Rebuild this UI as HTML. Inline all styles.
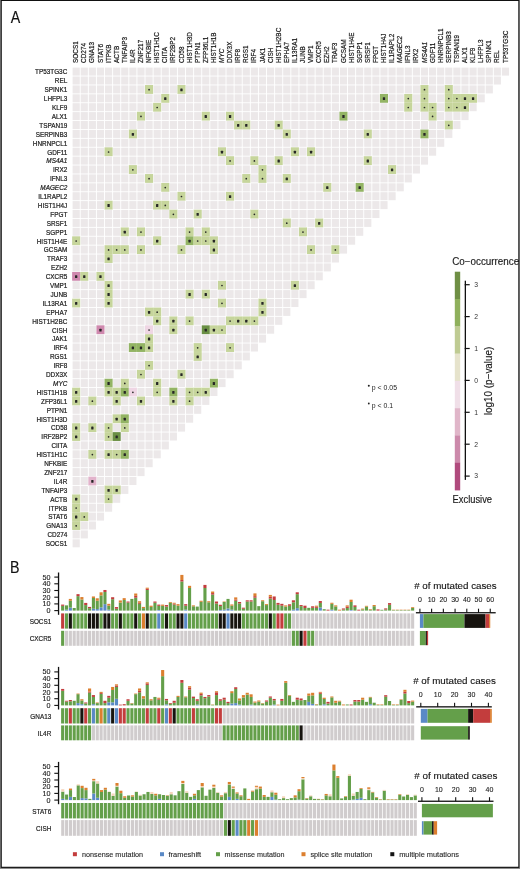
<!DOCTYPE html><html><head><meta charset="utf-8"><style>html,body{margin:0;padding:0;background:#fff;}svg{display:block;will-change:transform}</style></head><body>
<svg width="520" height="869" viewBox="0 0 520 869">
<text transform="translate(10.7 22.9) scale(0.89 1)" font-size="16" font-family="Liberation Sans, sans-serif" fill="#111" stroke="#111" stroke-width="0.15">A</text>
<text transform="translate(10.0 572.8) scale(0.87 1)" font-size="16.4" font-family="Liberation Sans, sans-serif" fill="#111" stroke="#111" stroke-width="0.15">B</text>
<g fill="#ece8e9"><rect x="72.60" y="67.60" width="7.15" height="8.0"/><rect x="80.70" y="67.60" width="7.15" height="8.0"/><rect x="88.80" y="67.60" width="7.15" height="8.0"/><rect x="96.90" y="67.60" width="7.15" height="8.0"/><rect x="105.00" y="67.60" width="7.15" height="8.0"/><rect x="113.10" y="67.60" width="7.15" height="8.0"/><rect x="121.20" y="67.60" width="7.15" height="8.0"/><rect x="129.30" y="67.60" width="7.15" height="8.0"/><rect x="137.40" y="67.60" width="7.15" height="8.0"/><rect x="145.50" y="67.60" width="7.15" height="8.0"/><rect x="153.60" y="67.60" width="7.15" height="8.0"/><rect x="161.70" y="67.60" width="7.15" height="8.0"/><rect x="169.80" y="67.60" width="7.15" height="8.0"/><rect x="177.90" y="67.60" width="7.15" height="8.0"/><rect x="186.00" y="67.60" width="7.15" height="8.0"/><rect x="194.10" y="67.60" width="7.15" height="8.0"/><rect x="202.20" y="67.60" width="7.15" height="8.0"/><rect x="210.30" y="67.60" width="7.15" height="8.0"/><rect x="218.40" y="67.60" width="7.15" height="8.0"/><rect x="226.50" y="67.60" width="7.15" height="8.0"/><rect x="234.60" y="67.60" width="7.15" height="8.0"/><rect x="242.70" y="67.60" width="7.15" height="8.0"/><rect x="250.80" y="67.60" width="7.15" height="8.0"/><rect x="258.90" y="67.60" width="7.15" height="8.0"/><rect x="267.00" y="67.60" width="7.15" height="8.0"/><rect x="275.10" y="67.60" width="7.15" height="8.0"/><rect x="283.20" y="67.60" width="7.15" height="8.0"/><rect x="291.30" y="67.60" width="7.15" height="8.0"/><rect x="299.40" y="67.60" width="7.15" height="8.0"/><rect x="307.50" y="67.60" width="7.15" height="8.0"/><rect x="315.60" y="67.60" width="7.15" height="8.0"/><rect x="323.70" y="67.60" width="7.15" height="8.0"/><rect x="331.80" y="67.60" width="7.15" height="8.0"/><rect x="339.90" y="67.60" width="7.15" height="8.0"/><rect x="348.00" y="67.60" width="7.15" height="8.0"/><rect x="356.10" y="67.60" width="7.15" height="8.0"/><rect x="364.20" y="67.60" width="7.15" height="8.0"/><rect x="372.30" y="67.60" width="7.15" height="8.0"/><rect x="380.40" y="67.60" width="7.15" height="8.0"/><rect x="388.50" y="67.60" width="7.15" height="8.0"/><rect x="396.60" y="67.60" width="7.15" height="8.0"/><rect x="404.70" y="67.60" width="7.15" height="8.0"/><rect x="412.80" y="67.60" width="7.15" height="8.0"/><rect x="420.90" y="67.60" width="7.15" height="8.0"/><rect x="429.00" y="67.60" width="7.15" height="8.0"/><rect x="437.10" y="67.60" width="7.15" height="8.0"/><rect x="445.20" y="67.60" width="7.15" height="8.0"/><rect x="453.30" y="67.60" width="7.15" height="8.0"/><rect x="461.40" y="67.60" width="7.15" height="8.0"/><rect x="469.50" y="67.60" width="7.15" height="8.0"/><rect x="477.60" y="67.60" width="7.15" height="8.0"/><rect x="485.70" y="67.60" width="7.15" height="8.0"/><rect x="493.80" y="67.60" width="7.15" height="8.0"/><rect x="501.90" y="67.60" width="7.15" height="8.0"/><rect x="72.60" y="76.50" width="7.15" height="8.0"/><rect x="80.70" y="76.50" width="7.15" height="8.0"/><rect x="88.80" y="76.50" width="7.15" height="8.0"/><rect x="96.90" y="76.50" width="7.15" height="8.0"/><rect x="105.00" y="76.50" width="7.15" height="8.0"/><rect x="113.10" y="76.50" width="7.15" height="8.0"/><rect x="121.20" y="76.50" width="7.15" height="8.0"/><rect x="129.30" y="76.50" width="7.15" height="8.0"/><rect x="137.40" y="76.50" width="7.15" height="8.0"/><rect x="145.50" y="76.50" width="7.15" height="8.0"/><rect x="153.60" y="76.50" width="7.15" height="8.0"/><rect x="161.70" y="76.50" width="7.15" height="8.0"/><rect x="169.80" y="76.50" width="7.15" height="8.0"/><rect x="177.90" y="76.50" width="7.15" height="8.0"/><rect x="186.00" y="76.50" width="7.15" height="8.0"/><rect x="194.10" y="76.50" width="7.15" height="8.0"/><rect x="202.20" y="76.50" width="7.15" height="8.0"/><rect x="210.30" y="76.50" width="7.15" height="8.0"/><rect x="218.40" y="76.50" width="7.15" height="8.0"/><rect x="226.50" y="76.50" width="7.15" height="8.0"/><rect x="234.60" y="76.50" width="7.15" height="8.0"/><rect x="242.70" y="76.50" width="7.15" height="8.0"/><rect x="250.80" y="76.50" width="7.15" height="8.0"/><rect x="258.90" y="76.50" width="7.15" height="8.0"/><rect x="267.00" y="76.50" width="7.15" height="8.0"/><rect x="275.10" y="76.50" width="7.15" height="8.0"/><rect x="283.20" y="76.50" width="7.15" height="8.0"/><rect x="291.30" y="76.50" width="7.15" height="8.0"/><rect x="299.40" y="76.50" width="7.15" height="8.0"/><rect x="307.50" y="76.50" width="7.15" height="8.0"/><rect x="315.60" y="76.50" width="7.15" height="8.0"/><rect x="323.70" y="76.50" width="7.15" height="8.0"/><rect x="331.80" y="76.50" width="7.15" height="8.0"/><rect x="339.90" y="76.50" width="7.15" height="8.0"/><rect x="348.00" y="76.50" width="7.15" height="8.0"/><rect x="356.10" y="76.50" width="7.15" height="8.0"/><rect x="364.20" y="76.50" width="7.15" height="8.0"/><rect x="372.30" y="76.50" width="7.15" height="8.0"/><rect x="380.40" y="76.50" width="7.15" height="8.0"/><rect x="388.50" y="76.50" width="7.15" height="8.0"/><rect x="396.60" y="76.50" width="7.15" height="8.0"/><rect x="404.70" y="76.50" width="7.15" height="8.0"/><rect x="412.80" y="76.50" width="7.15" height="8.0"/><rect x="420.90" y="76.50" width="7.15" height="8.0"/><rect x="429.00" y="76.50" width="7.15" height="8.0"/><rect x="437.10" y="76.50" width="7.15" height="8.0"/><rect x="445.20" y="76.50" width="7.15" height="8.0"/><rect x="453.30" y="76.50" width="7.15" height="8.0"/><rect x="461.40" y="76.50" width="7.15" height="8.0"/><rect x="469.50" y="76.50" width="7.15" height="8.0"/><rect x="477.60" y="76.50" width="7.15" height="8.0"/><rect x="485.70" y="76.50" width="7.15" height="8.0"/><rect x="493.80" y="76.50" width="7.15" height="8.0"/><rect x="72.60" y="85.40" width="7.15" height="8.0"/><rect x="80.70" y="85.40" width="7.15" height="8.0"/><rect x="88.80" y="85.40" width="7.15" height="8.0"/><rect x="96.90" y="85.40" width="7.15" height="8.0"/><rect x="105.00" y="85.40" width="7.15" height="8.0"/><rect x="113.10" y="85.40" width="7.15" height="8.0"/><rect x="121.20" y="85.40" width="7.15" height="8.0"/><rect x="129.30" y="85.40" width="7.15" height="8.0"/><rect x="137.40" y="85.40" width="7.15" height="8.0"/><rect x="145.50" y="85.40" width="7.15" height="8.0"/><rect x="153.60" y="85.40" width="7.15" height="8.0"/><rect x="161.70" y="85.40" width="7.15" height="8.0"/><rect x="169.80" y="85.40" width="7.15" height="8.0"/><rect x="177.90" y="85.40" width="7.15" height="8.0"/><rect x="186.00" y="85.40" width="7.15" height="8.0"/><rect x="194.10" y="85.40" width="7.15" height="8.0"/><rect x="202.20" y="85.40" width="7.15" height="8.0"/><rect x="210.30" y="85.40" width="7.15" height="8.0"/><rect x="218.40" y="85.40" width="7.15" height="8.0"/><rect x="226.50" y="85.40" width="7.15" height="8.0"/><rect x="234.60" y="85.40" width="7.15" height="8.0"/><rect x="242.70" y="85.40" width="7.15" height="8.0"/><rect x="250.80" y="85.40" width="7.15" height="8.0"/><rect x="258.90" y="85.40" width="7.15" height="8.0"/><rect x="267.00" y="85.40" width="7.15" height="8.0"/><rect x="275.10" y="85.40" width="7.15" height="8.0"/><rect x="283.20" y="85.40" width="7.15" height="8.0"/><rect x="291.30" y="85.40" width="7.15" height="8.0"/><rect x="299.40" y="85.40" width="7.15" height="8.0"/><rect x="307.50" y="85.40" width="7.15" height="8.0"/><rect x="315.60" y="85.40" width="7.15" height="8.0"/><rect x="323.70" y="85.40" width="7.15" height="8.0"/><rect x="331.80" y="85.40" width="7.15" height="8.0"/><rect x="339.90" y="85.40" width="7.15" height="8.0"/><rect x="348.00" y="85.40" width="7.15" height="8.0"/><rect x="356.10" y="85.40" width="7.15" height="8.0"/><rect x="364.20" y="85.40" width="7.15" height="8.0"/><rect x="372.30" y="85.40" width="7.15" height="8.0"/><rect x="380.40" y="85.40" width="7.15" height="8.0"/><rect x="388.50" y="85.40" width="7.15" height="8.0"/><rect x="396.60" y="85.40" width="7.15" height="8.0"/><rect x="404.70" y="85.40" width="7.15" height="8.0"/><rect x="412.80" y="85.40" width="7.15" height="8.0"/><rect x="420.90" y="85.40" width="7.15" height="8.0"/><rect x="429.00" y="85.40" width="7.15" height="8.0"/><rect x="437.10" y="85.40" width="7.15" height="8.0"/><rect x="445.20" y="85.40" width="7.15" height="8.0"/><rect x="453.30" y="85.40" width="7.15" height="8.0"/><rect x="461.40" y="85.40" width="7.15" height="8.0"/><rect x="469.50" y="85.40" width="7.15" height="8.0"/><rect x="477.60" y="85.40" width="7.15" height="8.0"/><rect x="485.70" y="85.40" width="7.15" height="8.0"/><rect x="72.60" y="94.30" width="7.15" height="8.0"/><rect x="80.70" y="94.30" width="7.15" height="8.0"/><rect x="88.80" y="94.30" width="7.15" height="8.0"/><rect x="96.90" y="94.30" width="7.15" height="8.0"/><rect x="105.00" y="94.30" width="7.15" height="8.0"/><rect x="113.10" y="94.30" width="7.15" height="8.0"/><rect x="121.20" y="94.30" width="7.15" height="8.0"/><rect x="129.30" y="94.30" width="7.15" height="8.0"/><rect x="137.40" y="94.30" width="7.15" height="8.0"/><rect x="145.50" y="94.30" width="7.15" height="8.0"/><rect x="153.60" y="94.30" width="7.15" height="8.0"/><rect x="161.70" y="94.30" width="7.15" height="8.0"/><rect x="169.80" y="94.30" width="7.15" height="8.0"/><rect x="177.90" y="94.30" width="7.15" height="8.0"/><rect x="186.00" y="94.30" width="7.15" height="8.0"/><rect x="194.10" y="94.30" width="7.15" height="8.0"/><rect x="202.20" y="94.30" width="7.15" height="8.0"/><rect x="210.30" y="94.30" width="7.15" height="8.0"/><rect x="218.40" y="94.30" width="7.15" height="8.0"/><rect x="226.50" y="94.30" width="7.15" height="8.0"/><rect x="234.60" y="94.30" width="7.15" height="8.0"/><rect x="242.70" y="94.30" width="7.15" height="8.0"/><rect x="250.80" y="94.30" width="7.15" height="8.0"/><rect x="258.90" y="94.30" width="7.15" height="8.0"/><rect x="267.00" y="94.30" width="7.15" height="8.0"/><rect x="275.10" y="94.30" width="7.15" height="8.0"/><rect x="283.20" y="94.30" width="7.15" height="8.0"/><rect x="291.30" y="94.30" width="7.15" height="8.0"/><rect x="299.40" y="94.30" width="7.15" height="8.0"/><rect x="307.50" y="94.30" width="7.15" height="8.0"/><rect x="315.60" y="94.30" width="7.15" height="8.0"/><rect x="323.70" y="94.30" width="7.15" height="8.0"/><rect x="331.80" y="94.30" width="7.15" height="8.0"/><rect x="339.90" y="94.30" width="7.15" height="8.0"/><rect x="348.00" y="94.30" width="7.15" height="8.0"/><rect x="356.10" y="94.30" width="7.15" height="8.0"/><rect x="364.20" y="94.30" width="7.15" height="8.0"/><rect x="372.30" y="94.30" width="7.15" height="8.0"/><rect x="380.40" y="94.30" width="7.15" height="8.0"/><rect x="388.50" y="94.30" width="7.15" height="8.0"/><rect x="396.60" y="94.30" width="7.15" height="8.0"/><rect x="404.70" y="94.30" width="7.15" height="8.0"/><rect x="412.80" y="94.30" width="7.15" height="8.0"/><rect x="420.90" y="94.30" width="7.15" height="8.0"/><rect x="429.00" y="94.30" width="7.15" height="8.0"/><rect x="437.10" y="94.30" width="7.15" height="8.0"/><rect x="445.20" y="94.30" width="7.15" height="8.0"/><rect x="453.30" y="94.30" width="7.15" height="8.0"/><rect x="461.40" y="94.30" width="7.15" height="8.0"/><rect x="469.50" y="94.30" width="7.15" height="8.0"/><rect x="477.60" y="94.30" width="7.15" height="8.0"/><rect x="72.60" y="103.20" width="7.15" height="8.0"/><rect x="80.70" y="103.20" width="7.15" height="8.0"/><rect x="88.80" y="103.20" width="7.15" height="8.0"/><rect x="96.90" y="103.20" width="7.15" height="8.0"/><rect x="105.00" y="103.20" width="7.15" height="8.0"/><rect x="113.10" y="103.20" width="7.15" height="8.0"/><rect x="121.20" y="103.20" width="7.15" height="8.0"/><rect x="129.30" y="103.20" width="7.15" height="8.0"/><rect x="137.40" y="103.20" width="7.15" height="8.0"/><rect x="145.50" y="103.20" width="7.15" height="8.0"/><rect x="153.60" y="103.20" width="7.15" height="8.0"/><rect x="161.70" y="103.20" width="7.15" height="8.0"/><rect x="169.80" y="103.20" width="7.15" height="8.0"/><rect x="177.90" y="103.20" width="7.15" height="8.0"/><rect x="186.00" y="103.20" width="7.15" height="8.0"/><rect x="194.10" y="103.20" width="7.15" height="8.0"/><rect x="202.20" y="103.20" width="7.15" height="8.0"/><rect x="210.30" y="103.20" width="7.15" height="8.0"/><rect x="218.40" y="103.20" width="7.15" height="8.0"/><rect x="226.50" y="103.20" width="7.15" height="8.0"/><rect x="234.60" y="103.20" width="7.15" height="8.0"/><rect x="242.70" y="103.20" width="7.15" height="8.0"/><rect x="250.80" y="103.20" width="7.15" height="8.0"/><rect x="258.90" y="103.20" width="7.15" height="8.0"/><rect x="267.00" y="103.20" width="7.15" height="8.0"/><rect x="275.10" y="103.20" width="7.15" height="8.0"/><rect x="283.20" y="103.20" width="7.15" height="8.0"/><rect x="291.30" y="103.20" width="7.15" height="8.0"/><rect x="299.40" y="103.20" width="7.15" height="8.0"/><rect x="307.50" y="103.20" width="7.15" height="8.0"/><rect x="315.60" y="103.20" width="7.15" height="8.0"/><rect x="323.70" y="103.20" width="7.15" height="8.0"/><rect x="331.80" y="103.20" width="7.15" height="8.0"/><rect x="339.90" y="103.20" width="7.15" height="8.0"/><rect x="348.00" y="103.20" width="7.15" height="8.0"/><rect x="356.10" y="103.20" width="7.15" height="8.0"/><rect x="364.20" y="103.20" width="7.15" height="8.0"/><rect x="372.30" y="103.20" width="7.15" height="8.0"/><rect x="380.40" y="103.20" width="7.15" height="8.0"/><rect x="388.50" y="103.20" width="7.15" height="8.0"/><rect x="396.60" y="103.20" width="7.15" height="8.0"/><rect x="404.70" y="103.20" width="7.15" height="8.0"/><rect x="412.80" y="103.20" width="7.15" height="8.0"/><rect x="420.90" y="103.20" width="7.15" height="8.0"/><rect x="429.00" y="103.20" width="7.15" height="8.0"/><rect x="437.10" y="103.20" width="7.15" height="8.0"/><rect x="445.20" y="103.20" width="7.15" height="8.0"/><rect x="453.30" y="103.20" width="7.15" height="8.0"/><rect x="461.40" y="103.20" width="7.15" height="8.0"/><rect x="469.50" y="103.20" width="7.15" height="8.0"/><rect x="72.60" y="112.10" width="7.15" height="8.0"/><rect x="80.70" y="112.10" width="7.15" height="8.0"/><rect x="88.80" y="112.10" width="7.15" height="8.0"/><rect x="96.90" y="112.10" width="7.15" height="8.0"/><rect x="105.00" y="112.10" width="7.15" height="8.0"/><rect x="113.10" y="112.10" width="7.15" height="8.0"/><rect x="121.20" y="112.10" width="7.15" height="8.0"/><rect x="129.30" y="112.10" width="7.15" height="8.0"/><rect x="137.40" y="112.10" width="7.15" height="8.0"/><rect x="145.50" y="112.10" width="7.15" height="8.0"/><rect x="153.60" y="112.10" width="7.15" height="8.0"/><rect x="161.70" y="112.10" width="7.15" height="8.0"/><rect x="169.80" y="112.10" width="7.15" height="8.0"/><rect x="177.90" y="112.10" width="7.15" height="8.0"/><rect x="186.00" y="112.10" width="7.15" height="8.0"/><rect x="194.10" y="112.10" width="7.15" height="8.0"/><rect x="202.20" y="112.10" width="7.15" height="8.0"/><rect x="210.30" y="112.10" width="7.15" height="8.0"/><rect x="218.40" y="112.10" width="7.15" height="8.0"/><rect x="226.50" y="112.10" width="7.15" height="8.0"/><rect x="234.60" y="112.10" width="7.15" height="8.0"/><rect x="242.70" y="112.10" width="7.15" height="8.0"/><rect x="250.80" y="112.10" width="7.15" height="8.0"/><rect x="258.90" y="112.10" width="7.15" height="8.0"/><rect x="267.00" y="112.10" width="7.15" height="8.0"/><rect x="275.10" y="112.10" width="7.15" height="8.0"/><rect x="283.20" y="112.10" width="7.15" height="8.0"/><rect x="291.30" y="112.10" width="7.15" height="8.0"/><rect x="299.40" y="112.10" width="7.15" height="8.0"/><rect x="307.50" y="112.10" width="7.15" height="8.0"/><rect x="315.60" y="112.10" width="7.15" height="8.0"/><rect x="323.70" y="112.10" width="7.15" height="8.0"/><rect x="331.80" y="112.10" width="7.15" height="8.0"/><rect x="339.90" y="112.10" width="7.15" height="8.0"/><rect x="348.00" y="112.10" width="7.15" height="8.0"/><rect x="356.10" y="112.10" width="7.15" height="8.0"/><rect x="364.20" y="112.10" width="7.15" height="8.0"/><rect x="372.30" y="112.10" width="7.15" height="8.0"/><rect x="380.40" y="112.10" width="7.15" height="8.0"/><rect x="388.50" y="112.10" width="7.15" height="8.0"/><rect x="396.60" y="112.10" width="7.15" height="8.0"/><rect x="404.70" y="112.10" width="7.15" height="8.0"/><rect x="412.80" y="112.10" width="7.15" height="8.0"/><rect x="420.90" y="112.10" width="7.15" height="8.0"/><rect x="429.00" y="112.10" width="7.15" height="8.0"/><rect x="437.10" y="112.10" width="7.15" height="8.0"/><rect x="445.20" y="112.10" width="7.15" height="8.0"/><rect x="453.30" y="112.10" width="7.15" height="8.0"/><rect x="461.40" y="112.10" width="7.15" height="8.0"/><rect x="72.60" y="121.00" width="7.15" height="8.0"/><rect x="80.70" y="121.00" width="7.15" height="8.0"/><rect x="88.80" y="121.00" width="7.15" height="8.0"/><rect x="96.90" y="121.00" width="7.15" height="8.0"/><rect x="105.00" y="121.00" width="7.15" height="8.0"/><rect x="113.10" y="121.00" width="7.15" height="8.0"/><rect x="121.20" y="121.00" width="7.15" height="8.0"/><rect x="129.30" y="121.00" width="7.15" height="8.0"/><rect x="137.40" y="121.00" width="7.15" height="8.0"/><rect x="145.50" y="121.00" width="7.15" height="8.0"/><rect x="153.60" y="121.00" width="7.15" height="8.0"/><rect x="161.70" y="121.00" width="7.15" height="8.0"/><rect x="169.80" y="121.00" width="7.15" height="8.0"/><rect x="177.90" y="121.00" width="7.15" height="8.0"/><rect x="186.00" y="121.00" width="7.15" height="8.0"/><rect x="194.10" y="121.00" width="7.15" height="8.0"/><rect x="202.20" y="121.00" width="7.15" height="8.0"/><rect x="210.30" y="121.00" width="7.15" height="8.0"/><rect x="218.40" y="121.00" width="7.15" height="8.0"/><rect x="226.50" y="121.00" width="7.15" height="8.0"/><rect x="234.60" y="121.00" width="7.15" height="8.0"/><rect x="242.70" y="121.00" width="7.15" height="8.0"/><rect x="250.80" y="121.00" width="7.15" height="8.0"/><rect x="258.90" y="121.00" width="7.15" height="8.0"/><rect x="267.00" y="121.00" width="7.15" height="8.0"/><rect x="275.10" y="121.00" width="7.15" height="8.0"/><rect x="283.20" y="121.00" width="7.15" height="8.0"/><rect x="291.30" y="121.00" width="7.15" height="8.0"/><rect x="299.40" y="121.00" width="7.15" height="8.0"/><rect x="307.50" y="121.00" width="7.15" height="8.0"/><rect x="315.60" y="121.00" width="7.15" height="8.0"/><rect x="323.70" y="121.00" width="7.15" height="8.0"/><rect x="331.80" y="121.00" width="7.15" height="8.0"/><rect x="339.90" y="121.00" width="7.15" height="8.0"/><rect x="348.00" y="121.00" width="7.15" height="8.0"/><rect x="356.10" y="121.00" width="7.15" height="8.0"/><rect x="364.20" y="121.00" width="7.15" height="8.0"/><rect x="372.30" y="121.00" width="7.15" height="8.0"/><rect x="380.40" y="121.00" width="7.15" height="8.0"/><rect x="388.50" y="121.00" width="7.15" height="8.0"/><rect x="396.60" y="121.00" width="7.15" height="8.0"/><rect x="404.70" y="121.00" width="7.15" height="8.0"/><rect x="412.80" y="121.00" width="7.15" height="8.0"/><rect x="420.90" y="121.00" width="7.15" height="8.0"/><rect x="429.00" y="121.00" width="7.15" height="8.0"/><rect x="437.10" y="121.00" width="7.15" height="8.0"/><rect x="445.20" y="121.00" width="7.15" height="8.0"/><rect x="453.30" y="121.00" width="7.15" height="8.0"/><rect x="72.60" y="129.90" width="7.15" height="8.0"/><rect x="80.70" y="129.90" width="7.15" height="8.0"/><rect x="88.80" y="129.90" width="7.15" height="8.0"/><rect x="96.90" y="129.90" width="7.15" height="8.0"/><rect x="105.00" y="129.90" width="7.15" height="8.0"/><rect x="113.10" y="129.90" width="7.15" height="8.0"/><rect x="121.20" y="129.90" width="7.15" height="8.0"/><rect x="129.30" y="129.90" width="7.15" height="8.0"/><rect x="137.40" y="129.90" width="7.15" height="8.0"/><rect x="145.50" y="129.90" width="7.15" height="8.0"/><rect x="153.60" y="129.90" width="7.15" height="8.0"/><rect x="161.70" y="129.90" width="7.15" height="8.0"/><rect x="169.80" y="129.90" width="7.15" height="8.0"/><rect x="177.90" y="129.90" width="7.15" height="8.0"/><rect x="186.00" y="129.90" width="7.15" height="8.0"/><rect x="194.10" y="129.90" width="7.15" height="8.0"/><rect x="202.20" y="129.90" width="7.15" height="8.0"/><rect x="210.30" y="129.90" width="7.15" height="8.0"/><rect x="218.40" y="129.90" width="7.15" height="8.0"/><rect x="226.50" y="129.90" width="7.15" height="8.0"/><rect x="234.60" y="129.90" width="7.15" height="8.0"/><rect x="242.70" y="129.90" width="7.15" height="8.0"/><rect x="250.80" y="129.90" width="7.15" height="8.0"/><rect x="258.90" y="129.90" width="7.15" height="8.0"/><rect x="267.00" y="129.90" width="7.15" height="8.0"/><rect x="275.10" y="129.90" width="7.15" height="8.0"/><rect x="283.20" y="129.90" width="7.15" height="8.0"/><rect x="291.30" y="129.90" width="7.15" height="8.0"/><rect x="299.40" y="129.90" width="7.15" height="8.0"/><rect x="307.50" y="129.90" width="7.15" height="8.0"/><rect x="315.60" y="129.90" width="7.15" height="8.0"/><rect x="323.70" y="129.90" width="7.15" height="8.0"/><rect x="331.80" y="129.90" width="7.15" height="8.0"/><rect x="339.90" y="129.90" width="7.15" height="8.0"/><rect x="348.00" y="129.90" width="7.15" height="8.0"/><rect x="356.10" y="129.90" width="7.15" height="8.0"/><rect x="364.20" y="129.90" width="7.15" height="8.0"/><rect x="372.30" y="129.90" width="7.15" height="8.0"/><rect x="380.40" y="129.90" width="7.15" height="8.0"/><rect x="388.50" y="129.90" width="7.15" height="8.0"/><rect x="396.60" y="129.90" width="7.15" height="8.0"/><rect x="404.70" y="129.90" width="7.15" height="8.0"/><rect x="412.80" y="129.90" width="7.15" height="8.0"/><rect x="420.90" y="129.90" width="7.15" height="8.0"/><rect x="429.00" y="129.90" width="7.15" height="8.0"/><rect x="437.10" y="129.90" width="7.15" height="8.0"/><rect x="445.20" y="129.90" width="7.15" height="8.0"/><rect x="72.60" y="138.80" width="7.15" height="8.0"/><rect x="80.70" y="138.80" width="7.15" height="8.0"/><rect x="88.80" y="138.80" width="7.15" height="8.0"/><rect x="96.90" y="138.80" width="7.15" height="8.0"/><rect x="105.00" y="138.80" width="7.15" height="8.0"/><rect x="113.10" y="138.80" width="7.15" height="8.0"/><rect x="121.20" y="138.80" width="7.15" height="8.0"/><rect x="129.30" y="138.80" width="7.15" height="8.0"/><rect x="137.40" y="138.80" width="7.15" height="8.0"/><rect x="145.50" y="138.80" width="7.15" height="8.0"/><rect x="153.60" y="138.80" width="7.15" height="8.0"/><rect x="161.70" y="138.80" width="7.15" height="8.0"/><rect x="169.80" y="138.80" width="7.15" height="8.0"/><rect x="177.90" y="138.80" width="7.15" height="8.0"/><rect x="186.00" y="138.80" width="7.15" height="8.0"/><rect x="194.10" y="138.80" width="7.15" height="8.0"/><rect x="202.20" y="138.80" width="7.15" height="8.0"/><rect x="210.30" y="138.80" width="7.15" height="8.0"/><rect x="218.40" y="138.80" width="7.15" height="8.0"/><rect x="226.50" y="138.80" width="7.15" height="8.0"/><rect x="234.60" y="138.80" width="7.15" height="8.0"/><rect x="242.70" y="138.80" width="7.15" height="8.0"/><rect x="250.80" y="138.80" width="7.15" height="8.0"/><rect x="258.90" y="138.80" width="7.15" height="8.0"/><rect x="267.00" y="138.80" width="7.15" height="8.0"/><rect x="275.10" y="138.80" width="7.15" height="8.0"/><rect x="283.20" y="138.80" width="7.15" height="8.0"/><rect x="291.30" y="138.80" width="7.15" height="8.0"/><rect x="299.40" y="138.80" width="7.15" height="8.0"/><rect x="307.50" y="138.80" width="7.15" height="8.0"/><rect x="315.60" y="138.80" width="7.15" height="8.0"/><rect x="323.70" y="138.80" width="7.15" height="8.0"/><rect x="331.80" y="138.80" width="7.15" height="8.0"/><rect x="339.90" y="138.80" width="7.15" height="8.0"/><rect x="348.00" y="138.80" width="7.15" height="8.0"/><rect x="356.10" y="138.80" width="7.15" height="8.0"/><rect x="364.20" y="138.80" width="7.15" height="8.0"/><rect x="372.30" y="138.80" width="7.15" height="8.0"/><rect x="380.40" y="138.80" width="7.15" height="8.0"/><rect x="388.50" y="138.80" width="7.15" height="8.0"/><rect x="396.60" y="138.80" width="7.15" height="8.0"/><rect x="404.70" y="138.80" width="7.15" height="8.0"/><rect x="412.80" y="138.80" width="7.15" height="8.0"/><rect x="420.90" y="138.80" width="7.15" height="8.0"/><rect x="429.00" y="138.80" width="7.15" height="8.0"/><rect x="437.10" y="138.80" width="7.15" height="8.0"/><rect x="72.60" y="147.70" width="7.15" height="8.0"/><rect x="80.70" y="147.70" width="7.15" height="8.0"/><rect x="88.80" y="147.70" width="7.15" height="8.0"/><rect x="96.90" y="147.70" width="7.15" height="8.0"/><rect x="105.00" y="147.70" width="7.15" height="8.0"/><rect x="113.10" y="147.70" width="7.15" height="8.0"/><rect x="121.20" y="147.70" width="7.15" height="8.0"/><rect x="129.30" y="147.70" width="7.15" height="8.0"/><rect x="137.40" y="147.70" width="7.15" height="8.0"/><rect x="145.50" y="147.70" width="7.15" height="8.0"/><rect x="153.60" y="147.70" width="7.15" height="8.0"/><rect x="161.70" y="147.70" width="7.15" height="8.0"/><rect x="169.80" y="147.70" width="7.15" height="8.0"/><rect x="177.90" y="147.70" width="7.15" height="8.0"/><rect x="186.00" y="147.70" width="7.15" height="8.0"/><rect x="194.10" y="147.70" width="7.15" height="8.0"/><rect x="202.20" y="147.70" width="7.15" height="8.0"/><rect x="210.30" y="147.70" width="7.15" height="8.0"/><rect x="218.40" y="147.70" width="7.15" height="8.0"/><rect x="226.50" y="147.70" width="7.15" height="8.0"/><rect x="234.60" y="147.70" width="7.15" height="8.0"/><rect x="242.70" y="147.70" width="7.15" height="8.0"/><rect x="250.80" y="147.70" width="7.15" height="8.0"/><rect x="258.90" y="147.70" width="7.15" height="8.0"/><rect x="267.00" y="147.70" width="7.15" height="8.0"/><rect x="275.10" y="147.70" width="7.15" height="8.0"/><rect x="283.20" y="147.70" width="7.15" height="8.0"/><rect x="291.30" y="147.70" width="7.15" height="8.0"/><rect x="299.40" y="147.70" width="7.15" height="8.0"/><rect x="307.50" y="147.70" width="7.15" height="8.0"/><rect x="315.60" y="147.70" width="7.15" height="8.0"/><rect x="323.70" y="147.70" width="7.15" height="8.0"/><rect x="331.80" y="147.70" width="7.15" height="8.0"/><rect x="339.90" y="147.70" width="7.15" height="8.0"/><rect x="348.00" y="147.70" width="7.15" height="8.0"/><rect x="356.10" y="147.70" width="7.15" height="8.0"/><rect x="364.20" y="147.70" width="7.15" height="8.0"/><rect x="372.30" y="147.70" width="7.15" height="8.0"/><rect x="380.40" y="147.70" width="7.15" height="8.0"/><rect x="388.50" y="147.70" width="7.15" height="8.0"/><rect x="396.60" y="147.70" width="7.15" height="8.0"/><rect x="404.70" y="147.70" width="7.15" height="8.0"/><rect x="412.80" y="147.70" width="7.15" height="8.0"/><rect x="420.90" y="147.70" width="7.15" height="8.0"/><rect x="429.00" y="147.70" width="7.15" height="8.0"/><rect x="72.60" y="156.60" width="7.15" height="8.0"/><rect x="80.70" y="156.60" width="7.15" height="8.0"/><rect x="88.80" y="156.60" width="7.15" height="8.0"/><rect x="96.90" y="156.60" width="7.15" height="8.0"/><rect x="105.00" y="156.60" width="7.15" height="8.0"/><rect x="113.10" y="156.60" width="7.15" height="8.0"/><rect x="121.20" y="156.60" width="7.15" height="8.0"/><rect x="129.30" y="156.60" width="7.15" height="8.0"/><rect x="137.40" y="156.60" width="7.15" height="8.0"/><rect x="145.50" y="156.60" width="7.15" height="8.0"/><rect x="153.60" y="156.60" width="7.15" height="8.0"/><rect x="161.70" y="156.60" width="7.15" height="8.0"/><rect x="169.80" y="156.60" width="7.15" height="8.0"/><rect x="177.90" y="156.60" width="7.15" height="8.0"/><rect x="186.00" y="156.60" width="7.15" height="8.0"/><rect x="194.10" y="156.60" width="7.15" height="8.0"/><rect x="202.20" y="156.60" width="7.15" height="8.0"/><rect x="210.30" y="156.60" width="7.15" height="8.0"/><rect x="218.40" y="156.60" width="7.15" height="8.0"/><rect x="226.50" y="156.60" width="7.15" height="8.0"/><rect x="234.60" y="156.60" width="7.15" height="8.0"/><rect x="242.70" y="156.60" width="7.15" height="8.0"/><rect x="250.80" y="156.60" width="7.15" height="8.0"/><rect x="258.90" y="156.60" width="7.15" height="8.0"/><rect x="267.00" y="156.60" width="7.15" height="8.0"/><rect x="275.10" y="156.60" width="7.15" height="8.0"/><rect x="283.20" y="156.60" width="7.15" height="8.0"/><rect x="291.30" y="156.60" width="7.15" height="8.0"/><rect x="299.40" y="156.60" width="7.15" height="8.0"/><rect x="307.50" y="156.60" width="7.15" height="8.0"/><rect x="315.60" y="156.60" width="7.15" height="8.0"/><rect x="323.70" y="156.60" width="7.15" height="8.0"/><rect x="331.80" y="156.60" width="7.15" height="8.0"/><rect x="339.90" y="156.60" width="7.15" height="8.0"/><rect x="348.00" y="156.60" width="7.15" height="8.0"/><rect x="356.10" y="156.60" width="7.15" height="8.0"/><rect x="364.20" y="156.60" width="7.15" height="8.0"/><rect x="372.30" y="156.60" width="7.15" height="8.0"/><rect x="380.40" y="156.60" width="7.15" height="8.0"/><rect x="388.50" y="156.60" width="7.15" height="8.0"/><rect x="396.60" y="156.60" width="7.15" height="8.0"/><rect x="404.70" y="156.60" width="7.15" height="8.0"/><rect x="412.80" y="156.60" width="7.15" height="8.0"/><rect x="420.90" y="156.60" width="7.15" height="8.0"/><rect x="72.60" y="165.50" width="7.15" height="8.0"/><rect x="80.70" y="165.50" width="7.15" height="8.0"/><rect x="88.80" y="165.50" width="7.15" height="8.0"/><rect x="96.90" y="165.50" width="7.15" height="8.0"/><rect x="105.00" y="165.50" width="7.15" height="8.0"/><rect x="113.10" y="165.50" width="7.15" height="8.0"/><rect x="121.20" y="165.50" width="7.15" height="8.0"/><rect x="129.30" y="165.50" width="7.15" height="8.0"/><rect x="137.40" y="165.50" width="7.15" height="8.0"/><rect x="145.50" y="165.50" width="7.15" height="8.0"/><rect x="153.60" y="165.50" width="7.15" height="8.0"/><rect x="161.70" y="165.50" width="7.15" height="8.0"/><rect x="169.80" y="165.50" width="7.15" height="8.0"/><rect x="177.90" y="165.50" width="7.15" height="8.0"/><rect x="186.00" y="165.50" width="7.15" height="8.0"/><rect x="194.10" y="165.50" width="7.15" height="8.0"/><rect x="202.20" y="165.50" width="7.15" height="8.0"/><rect x="210.30" y="165.50" width="7.15" height="8.0"/><rect x="218.40" y="165.50" width="7.15" height="8.0"/><rect x="226.50" y="165.50" width="7.15" height="8.0"/><rect x="234.60" y="165.50" width="7.15" height="8.0"/><rect x="242.70" y="165.50" width="7.15" height="8.0"/><rect x="250.80" y="165.50" width="7.15" height="8.0"/><rect x="258.90" y="165.50" width="7.15" height="8.0"/><rect x="267.00" y="165.50" width="7.15" height="8.0"/><rect x="275.10" y="165.50" width="7.15" height="8.0"/><rect x="283.20" y="165.50" width="7.15" height="8.0"/><rect x="291.30" y="165.50" width="7.15" height="8.0"/><rect x="299.40" y="165.50" width="7.15" height="8.0"/><rect x="307.50" y="165.50" width="7.15" height="8.0"/><rect x="315.60" y="165.50" width="7.15" height="8.0"/><rect x="323.70" y="165.50" width="7.15" height="8.0"/><rect x="331.80" y="165.50" width="7.15" height="8.0"/><rect x="339.90" y="165.50" width="7.15" height="8.0"/><rect x="348.00" y="165.50" width="7.15" height="8.0"/><rect x="356.10" y="165.50" width="7.15" height="8.0"/><rect x="364.20" y="165.50" width="7.15" height="8.0"/><rect x="372.30" y="165.50" width="7.15" height="8.0"/><rect x="380.40" y="165.50" width="7.15" height="8.0"/><rect x="388.50" y="165.50" width="7.15" height="8.0"/><rect x="396.60" y="165.50" width="7.15" height="8.0"/><rect x="404.70" y="165.50" width="7.15" height="8.0"/><rect x="412.80" y="165.50" width="7.15" height="8.0"/><rect x="72.60" y="174.40" width="7.15" height="8.0"/><rect x="80.70" y="174.40" width="7.15" height="8.0"/><rect x="88.80" y="174.40" width="7.15" height="8.0"/><rect x="96.90" y="174.40" width="7.15" height="8.0"/><rect x="105.00" y="174.40" width="7.15" height="8.0"/><rect x="113.10" y="174.40" width="7.15" height="8.0"/><rect x="121.20" y="174.40" width="7.15" height="8.0"/><rect x="129.30" y="174.40" width="7.15" height="8.0"/><rect x="137.40" y="174.40" width="7.15" height="8.0"/><rect x="145.50" y="174.40" width="7.15" height="8.0"/><rect x="153.60" y="174.40" width="7.15" height="8.0"/><rect x="161.70" y="174.40" width="7.15" height="8.0"/><rect x="169.80" y="174.40" width="7.15" height="8.0"/><rect x="177.90" y="174.40" width="7.15" height="8.0"/><rect x="186.00" y="174.40" width="7.15" height="8.0"/><rect x="194.10" y="174.40" width="7.15" height="8.0"/><rect x="202.20" y="174.40" width="7.15" height="8.0"/><rect x="210.30" y="174.40" width="7.15" height="8.0"/><rect x="218.40" y="174.40" width="7.15" height="8.0"/><rect x="226.50" y="174.40" width="7.15" height="8.0"/><rect x="234.60" y="174.40" width="7.15" height="8.0"/><rect x="242.70" y="174.40" width="7.15" height="8.0"/><rect x="250.80" y="174.40" width="7.15" height="8.0"/><rect x="258.90" y="174.40" width="7.15" height="8.0"/><rect x="267.00" y="174.40" width="7.15" height="8.0"/><rect x="275.10" y="174.40" width="7.15" height="8.0"/><rect x="283.20" y="174.40" width="7.15" height="8.0"/><rect x="291.30" y="174.40" width="7.15" height="8.0"/><rect x="299.40" y="174.40" width="7.15" height="8.0"/><rect x="307.50" y="174.40" width="7.15" height="8.0"/><rect x="315.60" y="174.40" width="7.15" height="8.0"/><rect x="323.70" y="174.40" width="7.15" height="8.0"/><rect x="331.80" y="174.40" width="7.15" height="8.0"/><rect x="339.90" y="174.40" width="7.15" height="8.0"/><rect x="348.00" y="174.40" width="7.15" height="8.0"/><rect x="356.10" y="174.40" width="7.15" height="8.0"/><rect x="364.20" y="174.40" width="7.15" height="8.0"/><rect x="372.30" y="174.40" width="7.15" height="8.0"/><rect x="380.40" y="174.40" width="7.15" height="8.0"/><rect x="388.50" y="174.40" width="7.15" height="8.0"/><rect x="396.60" y="174.40" width="7.15" height="8.0"/><rect x="404.70" y="174.40" width="7.15" height="8.0"/><rect x="72.60" y="183.30" width="7.15" height="8.0"/><rect x="80.70" y="183.30" width="7.15" height="8.0"/><rect x="88.80" y="183.30" width="7.15" height="8.0"/><rect x="96.90" y="183.30" width="7.15" height="8.0"/><rect x="105.00" y="183.30" width="7.15" height="8.0"/><rect x="113.10" y="183.30" width="7.15" height="8.0"/><rect x="121.20" y="183.30" width="7.15" height="8.0"/><rect x="129.30" y="183.30" width="7.15" height="8.0"/><rect x="137.40" y="183.30" width="7.15" height="8.0"/><rect x="145.50" y="183.30" width="7.15" height="8.0"/><rect x="153.60" y="183.30" width="7.15" height="8.0"/><rect x="161.70" y="183.30" width="7.15" height="8.0"/><rect x="169.80" y="183.30" width="7.15" height="8.0"/><rect x="177.90" y="183.30" width="7.15" height="8.0"/><rect x="186.00" y="183.30" width="7.15" height="8.0"/><rect x="194.10" y="183.30" width="7.15" height="8.0"/><rect x="202.20" y="183.30" width="7.15" height="8.0"/><rect x="210.30" y="183.30" width="7.15" height="8.0"/><rect x="218.40" y="183.30" width="7.15" height="8.0"/><rect x="226.50" y="183.30" width="7.15" height="8.0"/><rect x="234.60" y="183.30" width="7.15" height="8.0"/><rect x="242.70" y="183.30" width="7.15" height="8.0"/><rect x="250.80" y="183.30" width="7.15" height="8.0"/><rect x="258.90" y="183.30" width="7.15" height="8.0"/><rect x="267.00" y="183.30" width="7.15" height="8.0"/><rect x="275.10" y="183.30" width="7.15" height="8.0"/><rect x="283.20" y="183.30" width="7.15" height="8.0"/><rect x="291.30" y="183.30" width="7.15" height="8.0"/><rect x="299.40" y="183.30" width="7.15" height="8.0"/><rect x="307.50" y="183.30" width="7.15" height="8.0"/><rect x="315.60" y="183.30" width="7.15" height="8.0"/><rect x="323.70" y="183.30" width="7.15" height="8.0"/><rect x="331.80" y="183.30" width="7.15" height="8.0"/><rect x="339.90" y="183.30" width="7.15" height="8.0"/><rect x="348.00" y="183.30" width="7.15" height="8.0"/><rect x="356.10" y="183.30" width="7.15" height="8.0"/><rect x="364.20" y="183.30" width="7.15" height="8.0"/><rect x="372.30" y="183.30" width="7.15" height="8.0"/><rect x="380.40" y="183.30" width="7.15" height="8.0"/><rect x="388.50" y="183.30" width="7.15" height="8.0"/><rect x="396.60" y="183.30" width="7.15" height="8.0"/><rect x="72.60" y="192.20" width="7.15" height="8.0"/><rect x="80.70" y="192.20" width="7.15" height="8.0"/><rect x="88.80" y="192.20" width="7.15" height="8.0"/><rect x="96.90" y="192.20" width="7.15" height="8.0"/><rect x="105.00" y="192.20" width="7.15" height="8.0"/><rect x="113.10" y="192.20" width="7.15" height="8.0"/><rect x="121.20" y="192.20" width="7.15" height="8.0"/><rect x="129.30" y="192.20" width="7.15" height="8.0"/><rect x="137.40" y="192.20" width="7.15" height="8.0"/><rect x="145.50" y="192.20" width="7.15" height="8.0"/><rect x="153.60" y="192.20" width="7.15" height="8.0"/><rect x="161.70" y="192.20" width="7.15" height="8.0"/><rect x="169.80" y="192.20" width="7.15" height="8.0"/><rect x="177.90" y="192.20" width="7.15" height="8.0"/><rect x="186.00" y="192.20" width="7.15" height="8.0"/><rect x="194.10" y="192.20" width="7.15" height="8.0"/><rect x="202.20" y="192.20" width="7.15" height="8.0"/><rect x="210.30" y="192.20" width="7.15" height="8.0"/><rect x="218.40" y="192.20" width="7.15" height="8.0"/><rect x="226.50" y="192.20" width="7.15" height="8.0"/><rect x="234.60" y="192.20" width="7.15" height="8.0"/><rect x="242.70" y="192.20" width="7.15" height="8.0"/><rect x="250.80" y="192.20" width="7.15" height="8.0"/><rect x="258.90" y="192.20" width="7.15" height="8.0"/><rect x="267.00" y="192.20" width="7.15" height="8.0"/><rect x="275.10" y="192.20" width="7.15" height="8.0"/><rect x="283.20" y="192.20" width="7.15" height="8.0"/><rect x="291.30" y="192.20" width="7.15" height="8.0"/><rect x="299.40" y="192.20" width="7.15" height="8.0"/><rect x="307.50" y="192.20" width="7.15" height="8.0"/><rect x="315.60" y="192.20" width="7.15" height="8.0"/><rect x="323.70" y="192.20" width="7.15" height="8.0"/><rect x="331.80" y="192.20" width="7.15" height="8.0"/><rect x="339.90" y="192.20" width="7.15" height="8.0"/><rect x="348.00" y="192.20" width="7.15" height="8.0"/><rect x="356.10" y="192.20" width="7.15" height="8.0"/><rect x="364.20" y="192.20" width="7.15" height="8.0"/><rect x="372.30" y="192.20" width="7.15" height="8.0"/><rect x="380.40" y="192.20" width="7.15" height="8.0"/><rect x="388.50" y="192.20" width="7.15" height="8.0"/><rect x="72.60" y="201.10" width="7.15" height="8.0"/><rect x="80.70" y="201.10" width="7.15" height="8.0"/><rect x="88.80" y="201.10" width="7.15" height="8.0"/><rect x="96.90" y="201.10" width="7.15" height="8.0"/><rect x="105.00" y="201.10" width="7.15" height="8.0"/><rect x="113.10" y="201.10" width="7.15" height="8.0"/><rect x="121.20" y="201.10" width="7.15" height="8.0"/><rect x="129.30" y="201.10" width="7.15" height="8.0"/><rect x="137.40" y="201.10" width="7.15" height="8.0"/><rect x="145.50" y="201.10" width="7.15" height="8.0"/><rect x="153.60" y="201.10" width="7.15" height="8.0"/><rect x="161.70" y="201.10" width="7.15" height="8.0"/><rect x="169.80" y="201.10" width="7.15" height="8.0"/><rect x="177.90" y="201.10" width="7.15" height="8.0"/><rect x="186.00" y="201.10" width="7.15" height="8.0"/><rect x="194.10" y="201.10" width="7.15" height="8.0"/><rect x="202.20" y="201.10" width="7.15" height="8.0"/><rect x="210.30" y="201.10" width="7.15" height="8.0"/><rect x="218.40" y="201.10" width="7.15" height="8.0"/><rect x="226.50" y="201.10" width="7.15" height="8.0"/><rect x="234.60" y="201.10" width="7.15" height="8.0"/><rect x="242.70" y="201.10" width="7.15" height="8.0"/><rect x="250.80" y="201.10" width="7.15" height="8.0"/><rect x="258.90" y="201.10" width="7.15" height="8.0"/><rect x="267.00" y="201.10" width="7.15" height="8.0"/><rect x="275.10" y="201.10" width="7.15" height="8.0"/><rect x="283.20" y="201.10" width="7.15" height="8.0"/><rect x="291.30" y="201.10" width="7.15" height="8.0"/><rect x="299.40" y="201.10" width="7.15" height="8.0"/><rect x="307.50" y="201.10" width="7.15" height="8.0"/><rect x="315.60" y="201.10" width="7.15" height="8.0"/><rect x="323.70" y="201.10" width="7.15" height="8.0"/><rect x="331.80" y="201.10" width="7.15" height="8.0"/><rect x="339.90" y="201.10" width="7.15" height="8.0"/><rect x="348.00" y="201.10" width="7.15" height="8.0"/><rect x="356.10" y="201.10" width="7.15" height="8.0"/><rect x="364.20" y="201.10" width="7.15" height="8.0"/><rect x="372.30" y="201.10" width="7.15" height="8.0"/><rect x="380.40" y="201.10" width="7.15" height="8.0"/><rect x="72.60" y="210.00" width="7.15" height="8.0"/><rect x="80.70" y="210.00" width="7.15" height="8.0"/><rect x="88.80" y="210.00" width="7.15" height="8.0"/><rect x="96.90" y="210.00" width="7.15" height="8.0"/><rect x="105.00" y="210.00" width="7.15" height="8.0"/><rect x="113.10" y="210.00" width="7.15" height="8.0"/><rect x="121.20" y="210.00" width="7.15" height="8.0"/><rect x="129.30" y="210.00" width="7.15" height="8.0"/><rect x="137.40" y="210.00" width="7.15" height="8.0"/><rect x="145.50" y="210.00" width="7.15" height="8.0"/><rect x="153.60" y="210.00" width="7.15" height="8.0"/><rect x="161.70" y="210.00" width="7.15" height="8.0"/><rect x="169.80" y="210.00" width="7.15" height="8.0"/><rect x="177.90" y="210.00" width="7.15" height="8.0"/><rect x="186.00" y="210.00" width="7.15" height="8.0"/><rect x="194.10" y="210.00" width="7.15" height="8.0"/><rect x="202.20" y="210.00" width="7.15" height="8.0"/><rect x="210.30" y="210.00" width="7.15" height="8.0"/><rect x="218.40" y="210.00" width="7.15" height="8.0"/><rect x="226.50" y="210.00" width="7.15" height="8.0"/><rect x="234.60" y="210.00" width="7.15" height="8.0"/><rect x="242.70" y="210.00" width="7.15" height="8.0"/><rect x="250.80" y="210.00" width="7.15" height="8.0"/><rect x="258.90" y="210.00" width="7.15" height="8.0"/><rect x="267.00" y="210.00" width="7.15" height="8.0"/><rect x="275.10" y="210.00" width="7.15" height="8.0"/><rect x="283.20" y="210.00" width="7.15" height="8.0"/><rect x="291.30" y="210.00" width="7.15" height="8.0"/><rect x="299.40" y="210.00" width="7.15" height="8.0"/><rect x="307.50" y="210.00" width="7.15" height="8.0"/><rect x="315.60" y="210.00" width="7.15" height="8.0"/><rect x="323.70" y="210.00" width="7.15" height="8.0"/><rect x="331.80" y="210.00" width="7.15" height="8.0"/><rect x="339.90" y="210.00" width="7.15" height="8.0"/><rect x="348.00" y="210.00" width="7.15" height="8.0"/><rect x="356.10" y="210.00" width="7.15" height="8.0"/><rect x="364.20" y="210.00" width="7.15" height="8.0"/><rect x="372.30" y="210.00" width="7.15" height="8.0"/><rect x="72.60" y="218.90" width="7.15" height="8.0"/><rect x="80.70" y="218.90" width="7.15" height="8.0"/><rect x="88.80" y="218.90" width="7.15" height="8.0"/><rect x="96.90" y="218.90" width="7.15" height="8.0"/><rect x="105.00" y="218.90" width="7.15" height="8.0"/><rect x="113.10" y="218.90" width="7.15" height="8.0"/><rect x="121.20" y="218.90" width="7.15" height="8.0"/><rect x="129.30" y="218.90" width="7.15" height="8.0"/><rect x="137.40" y="218.90" width="7.15" height="8.0"/><rect x="145.50" y="218.90" width="7.15" height="8.0"/><rect x="153.60" y="218.90" width="7.15" height="8.0"/><rect x="161.70" y="218.90" width="7.15" height="8.0"/><rect x="169.80" y="218.90" width="7.15" height="8.0"/><rect x="177.90" y="218.90" width="7.15" height="8.0"/><rect x="186.00" y="218.90" width="7.15" height="8.0"/><rect x="194.10" y="218.90" width="7.15" height="8.0"/><rect x="202.20" y="218.90" width="7.15" height="8.0"/><rect x="210.30" y="218.90" width="7.15" height="8.0"/><rect x="218.40" y="218.90" width="7.15" height="8.0"/><rect x="226.50" y="218.90" width="7.15" height="8.0"/><rect x="234.60" y="218.90" width="7.15" height="8.0"/><rect x="242.70" y="218.90" width="7.15" height="8.0"/><rect x="250.80" y="218.90" width="7.15" height="8.0"/><rect x="258.90" y="218.90" width="7.15" height="8.0"/><rect x="267.00" y="218.90" width="7.15" height="8.0"/><rect x="275.10" y="218.90" width="7.15" height="8.0"/><rect x="283.20" y="218.90" width="7.15" height="8.0"/><rect x="291.30" y="218.90" width="7.15" height="8.0"/><rect x="299.40" y="218.90" width="7.15" height="8.0"/><rect x="307.50" y="218.90" width="7.15" height="8.0"/><rect x="315.60" y="218.90" width="7.15" height="8.0"/><rect x="323.70" y="218.90" width="7.15" height="8.0"/><rect x="331.80" y="218.90" width="7.15" height="8.0"/><rect x="339.90" y="218.90" width="7.15" height="8.0"/><rect x="348.00" y="218.90" width="7.15" height="8.0"/><rect x="356.10" y="218.90" width="7.15" height="8.0"/><rect x="364.20" y="218.90" width="7.15" height="8.0"/><rect x="72.60" y="227.80" width="7.15" height="8.0"/><rect x="80.70" y="227.80" width="7.15" height="8.0"/><rect x="88.80" y="227.80" width="7.15" height="8.0"/><rect x="96.90" y="227.80" width="7.15" height="8.0"/><rect x="105.00" y="227.80" width="7.15" height="8.0"/><rect x="113.10" y="227.80" width="7.15" height="8.0"/><rect x="121.20" y="227.80" width="7.15" height="8.0"/><rect x="129.30" y="227.80" width="7.15" height="8.0"/><rect x="137.40" y="227.80" width="7.15" height="8.0"/><rect x="145.50" y="227.80" width="7.15" height="8.0"/><rect x="153.60" y="227.80" width="7.15" height="8.0"/><rect x="161.70" y="227.80" width="7.15" height="8.0"/><rect x="169.80" y="227.80" width="7.15" height="8.0"/><rect x="177.90" y="227.80" width="7.15" height="8.0"/><rect x="186.00" y="227.80" width="7.15" height="8.0"/><rect x="194.10" y="227.80" width="7.15" height="8.0"/><rect x="202.20" y="227.80" width="7.15" height="8.0"/><rect x="210.30" y="227.80" width="7.15" height="8.0"/><rect x="218.40" y="227.80" width="7.15" height="8.0"/><rect x="226.50" y="227.80" width="7.15" height="8.0"/><rect x="234.60" y="227.80" width="7.15" height="8.0"/><rect x="242.70" y="227.80" width="7.15" height="8.0"/><rect x="250.80" y="227.80" width="7.15" height="8.0"/><rect x="258.90" y="227.80" width="7.15" height="8.0"/><rect x="267.00" y="227.80" width="7.15" height="8.0"/><rect x="275.10" y="227.80" width="7.15" height="8.0"/><rect x="283.20" y="227.80" width="7.15" height="8.0"/><rect x="291.30" y="227.80" width="7.15" height="8.0"/><rect x="299.40" y="227.80" width="7.15" height="8.0"/><rect x="307.50" y="227.80" width="7.15" height="8.0"/><rect x="315.60" y="227.80" width="7.15" height="8.0"/><rect x="323.70" y="227.80" width="7.15" height="8.0"/><rect x="331.80" y="227.80" width="7.15" height="8.0"/><rect x="339.90" y="227.80" width="7.15" height="8.0"/><rect x="348.00" y="227.80" width="7.15" height="8.0"/><rect x="356.10" y="227.80" width="7.15" height="8.0"/><rect x="72.60" y="236.70" width="7.15" height="8.0"/><rect x="80.70" y="236.70" width="7.15" height="8.0"/><rect x="88.80" y="236.70" width="7.15" height="8.0"/><rect x="96.90" y="236.70" width="7.15" height="8.0"/><rect x="105.00" y="236.70" width="7.15" height="8.0"/><rect x="113.10" y="236.70" width="7.15" height="8.0"/><rect x="121.20" y="236.70" width="7.15" height="8.0"/><rect x="129.30" y="236.70" width="7.15" height="8.0"/><rect x="137.40" y="236.70" width="7.15" height="8.0"/><rect x="145.50" y="236.70" width="7.15" height="8.0"/><rect x="153.60" y="236.70" width="7.15" height="8.0"/><rect x="161.70" y="236.70" width="7.15" height="8.0"/><rect x="169.80" y="236.70" width="7.15" height="8.0"/><rect x="177.90" y="236.70" width="7.15" height="8.0"/><rect x="186.00" y="236.70" width="7.15" height="8.0"/><rect x="194.10" y="236.70" width="7.15" height="8.0"/><rect x="202.20" y="236.70" width="7.15" height="8.0"/><rect x="210.30" y="236.70" width="7.15" height="8.0"/><rect x="218.40" y="236.70" width="7.15" height="8.0"/><rect x="226.50" y="236.70" width="7.15" height="8.0"/><rect x="234.60" y="236.70" width="7.15" height="8.0"/><rect x="242.70" y="236.70" width="7.15" height="8.0"/><rect x="250.80" y="236.70" width="7.15" height="8.0"/><rect x="258.90" y="236.70" width="7.15" height="8.0"/><rect x="267.00" y="236.70" width="7.15" height="8.0"/><rect x="275.10" y="236.70" width="7.15" height="8.0"/><rect x="283.20" y="236.70" width="7.15" height="8.0"/><rect x="291.30" y="236.70" width="7.15" height="8.0"/><rect x="299.40" y="236.70" width="7.15" height="8.0"/><rect x="307.50" y="236.70" width="7.15" height="8.0"/><rect x="315.60" y="236.70" width="7.15" height="8.0"/><rect x="323.70" y="236.70" width="7.15" height="8.0"/><rect x="331.80" y="236.70" width="7.15" height="8.0"/><rect x="339.90" y="236.70" width="7.15" height="8.0"/><rect x="348.00" y="236.70" width="7.15" height="8.0"/><rect x="72.60" y="245.60" width="7.15" height="8.0"/><rect x="80.70" y="245.60" width="7.15" height="8.0"/><rect x="88.80" y="245.60" width="7.15" height="8.0"/><rect x="96.90" y="245.60" width="7.15" height="8.0"/><rect x="105.00" y="245.60" width="7.15" height="8.0"/><rect x="113.10" y="245.60" width="7.15" height="8.0"/><rect x="121.20" y="245.60" width="7.15" height="8.0"/><rect x="129.30" y="245.60" width="7.15" height="8.0"/><rect x="137.40" y="245.60" width="7.15" height="8.0"/><rect x="145.50" y="245.60" width="7.15" height="8.0"/><rect x="153.60" y="245.60" width="7.15" height="8.0"/><rect x="161.70" y="245.60" width="7.15" height="8.0"/><rect x="169.80" y="245.60" width="7.15" height="8.0"/><rect x="177.90" y="245.60" width="7.15" height="8.0"/><rect x="186.00" y="245.60" width="7.15" height="8.0"/><rect x="194.10" y="245.60" width="7.15" height="8.0"/><rect x="202.20" y="245.60" width="7.15" height="8.0"/><rect x="210.30" y="245.60" width="7.15" height="8.0"/><rect x="218.40" y="245.60" width="7.15" height="8.0"/><rect x="226.50" y="245.60" width="7.15" height="8.0"/><rect x="234.60" y="245.60" width="7.15" height="8.0"/><rect x="242.70" y="245.60" width="7.15" height="8.0"/><rect x="250.80" y="245.60" width="7.15" height="8.0"/><rect x="258.90" y="245.60" width="7.15" height="8.0"/><rect x="267.00" y="245.60" width="7.15" height="8.0"/><rect x="275.10" y="245.60" width="7.15" height="8.0"/><rect x="283.20" y="245.60" width="7.15" height="8.0"/><rect x="291.30" y="245.60" width="7.15" height="8.0"/><rect x="299.40" y="245.60" width="7.15" height="8.0"/><rect x="307.50" y="245.60" width="7.15" height="8.0"/><rect x="315.60" y="245.60" width="7.15" height="8.0"/><rect x="323.70" y="245.60" width="7.15" height="8.0"/><rect x="331.80" y="245.60" width="7.15" height="8.0"/><rect x="339.90" y="245.60" width="7.15" height="8.0"/><rect x="72.60" y="254.50" width="7.15" height="8.0"/><rect x="80.70" y="254.50" width="7.15" height="8.0"/><rect x="88.80" y="254.50" width="7.15" height="8.0"/><rect x="96.90" y="254.50" width="7.15" height="8.0"/><rect x="105.00" y="254.50" width="7.15" height="8.0"/><rect x="113.10" y="254.50" width="7.15" height="8.0"/><rect x="121.20" y="254.50" width="7.15" height="8.0"/><rect x="129.30" y="254.50" width="7.15" height="8.0"/><rect x="137.40" y="254.50" width="7.15" height="8.0"/><rect x="145.50" y="254.50" width="7.15" height="8.0"/><rect x="153.60" y="254.50" width="7.15" height="8.0"/><rect x="161.70" y="254.50" width="7.15" height="8.0"/><rect x="169.80" y="254.50" width="7.15" height="8.0"/><rect x="177.90" y="254.50" width="7.15" height="8.0"/><rect x="186.00" y="254.50" width="7.15" height="8.0"/><rect x="194.10" y="254.50" width="7.15" height="8.0"/><rect x="202.20" y="254.50" width="7.15" height="8.0"/><rect x="210.30" y="254.50" width="7.15" height="8.0"/><rect x="218.40" y="254.50" width="7.15" height="8.0"/><rect x="226.50" y="254.50" width="7.15" height="8.0"/><rect x="234.60" y="254.50" width="7.15" height="8.0"/><rect x="242.70" y="254.50" width="7.15" height="8.0"/><rect x="250.80" y="254.50" width="7.15" height="8.0"/><rect x="258.90" y="254.50" width="7.15" height="8.0"/><rect x="267.00" y="254.50" width="7.15" height="8.0"/><rect x="275.10" y="254.50" width="7.15" height="8.0"/><rect x="283.20" y="254.50" width="7.15" height="8.0"/><rect x="291.30" y="254.50" width="7.15" height="8.0"/><rect x="299.40" y="254.50" width="7.15" height="8.0"/><rect x="307.50" y="254.50" width="7.15" height="8.0"/><rect x="315.60" y="254.50" width="7.15" height="8.0"/><rect x="323.70" y="254.50" width="7.15" height="8.0"/><rect x="331.80" y="254.50" width="7.15" height="8.0"/><rect x="72.60" y="263.40" width="7.15" height="8.0"/><rect x="80.70" y="263.40" width="7.15" height="8.0"/><rect x="88.80" y="263.40" width="7.15" height="8.0"/><rect x="96.90" y="263.40" width="7.15" height="8.0"/><rect x="105.00" y="263.40" width="7.15" height="8.0"/><rect x="113.10" y="263.40" width="7.15" height="8.0"/><rect x="121.20" y="263.40" width="7.15" height="8.0"/><rect x="129.30" y="263.40" width="7.15" height="8.0"/><rect x="137.40" y="263.40" width="7.15" height="8.0"/><rect x="145.50" y="263.40" width="7.15" height="8.0"/><rect x="153.60" y="263.40" width="7.15" height="8.0"/><rect x="161.70" y="263.40" width="7.15" height="8.0"/><rect x="169.80" y="263.40" width="7.15" height="8.0"/><rect x="177.90" y="263.40" width="7.15" height="8.0"/><rect x="186.00" y="263.40" width="7.15" height="8.0"/><rect x="194.10" y="263.40" width="7.15" height="8.0"/><rect x="202.20" y="263.40" width="7.15" height="8.0"/><rect x="210.30" y="263.40" width="7.15" height="8.0"/><rect x="218.40" y="263.40" width="7.15" height="8.0"/><rect x="226.50" y="263.40" width="7.15" height="8.0"/><rect x="234.60" y="263.40" width="7.15" height="8.0"/><rect x="242.70" y="263.40" width="7.15" height="8.0"/><rect x="250.80" y="263.40" width="7.15" height="8.0"/><rect x="258.90" y="263.40" width="7.15" height="8.0"/><rect x="267.00" y="263.40" width="7.15" height="8.0"/><rect x="275.10" y="263.40" width="7.15" height="8.0"/><rect x="283.20" y="263.40" width="7.15" height="8.0"/><rect x="291.30" y="263.40" width="7.15" height="8.0"/><rect x="299.40" y="263.40" width="7.15" height="8.0"/><rect x="307.50" y="263.40" width="7.15" height="8.0"/><rect x="315.60" y="263.40" width="7.15" height="8.0"/><rect x="323.70" y="263.40" width="7.15" height="8.0"/><rect x="72.60" y="272.30" width="7.15" height="8.0"/><rect x="80.70" y="272.30" width="7.15" height="8.0"/><rect x="88.80" y="272.30" width="7.15" height="8.0"/><rect x="96.90" y="272.30" width="7.15" height="8.0"/><rect x="105.00" y="272.30" width="7.15" height="8.0"/><rect x="113.10" y="272.30" width="7.15" height="8.0"/><rect x="121.20" y="272.30" width="7.15" height="8.0"/><rect x="129.30" y="272.30" width="7.15" height="8.0"/><rect x="137.40" y="272.30" width="7.15" height="8.0"/><rect x="145.50" y="272.30" width="7.15" height="8.0"/><rect x="153.60" y="272.30" width="7.15" height="8.0"/><rect x="161.70" y="272.30" width="7.15" height="8.0"/><rect x="169.80" y="272.30" width="7.15" height="8.0"/><rect x="177.90" y="272.30" width="7.15" height="8.0"/><rect x="186.00" y="272.30" width="7.15" height="8.0"/><rect x="194.10" y="272.30" width="7.15" height="8.0"/><rect x="202.20" y="272.30" width="7.15" height="8.0"/><rect x="210.30" y="272.30" width="7.15" height="8.0"/><rect x="218.40" y="272.30" width="7.15" height="8.0"/><rect x="226.50" y="272.30" width="7.15" height="8.0"/><rect x="234.60" y="272.30" width="7.15" height="8.0"/><rect x="242.70" y="272.30" width="7.15" height="8.0"/><rect x="250.80" y="272.30" width="7.15" height="8.0"/><rect x="258.90" y="272.30" width="7.15" height="8.0"/><rect x="267.00" y="272.30" width="7.15" height="8.0"/><rect x="275.10" y="272.30" width="7.15" height="8.0"/><rect x="283.20" y="272.30" width="7.15" height="8.0"/><rect x="291.30" y="272.30" width="7.15" height="8.0"/><rect x="299.40" y="272.30" width="7.15" height="8.0"/><rect x="307.50" y="272.30" width="7.15" height="8.0"/><rect x="315.60" y="272.30" width="7.15" height="8.0"/><rect x="72.60" y="281.20" width="7.15" height="8.0"/><rect x="80.70" y="281.20" width="7.15" height="8.0"/><rect x="88.80" y="281.20" width="7.15" height="8.0"/><rect x="96.90" y="281.20" width="7.15" height="8.0"/><rect x="105.00" y="281.20" width="7.15" height="8.0"/><rect x="113.10" y="281.20" width="7.15" height="8.0"/><rect x="121.20" y="281.20" width="7.15" height="8.0"/><rect x="129.30" y="281.20" width="7.15" height="8.0"/><rect x="137.40" y="281.20" width="7.15" height="8.0"/><rect x="145.50" y="281.20" width="7.15" height="8.0"/><rect x="153.60" y="281.20" width="7.15" height="8.0"/><rect x="161.70" y="281.20" width="7.15" height="8.0"/><rect x="169.80" y="281.20" width="7.15" height="8.0"/><rect x="177.90" y="281.20" width="7.15" height="8.0"/><rect x="186.00" y="281.20" width="7.15" height="8.0"/><rect x="194.10" y="281.20" width="7.15" height="8.0"/><rect x="202.20" y="281.20" width="7.15" height="8.0"/><rect x="210.30" y="281.20" width="7.15" height="8.0"/><rect x="218.40" y="281.20" width="7.15" height="8.0"/><rect x="226.50" y="281.20" width="7.15" height="8.0"/><rect x="234.60" y="281.20" width="7.15" height="8.0"/><rect x="242.70" y="281.20" width="7.15" height="8.0"/><rect x="250.80" y="281.20" width="7.15" height="8.0"/><rect x="258.90" y="281.20" width="7.15" height="8.0"/><rect x="267.00" y="281.20" width="7.15" height="8.0"/><rect x="275.10" y="281.20" width="7.15" height="8.0"/><rect x="283.20" y="281.20" width="7.15" height="8.0"/><rect x="291.30" y="281.20" width="7.15" height="8.0"/><rect x="299.40" y="281.20" width="7.15" height="8.0"/><rect x="307.50" y="281.20" width="7.15" height="8.0"/><rect x="72.60" y="290.10" width="7.15" height="8.0"/><rect x="80.70" y="290.10" width="7.15" height="8.0"/><rect x="88.80" y="290.10" width="7.15" height="8.0"/><rect x="96.90" y="290.10" width="7.15" height="8.0"/><rect x="105.00" y="290.10" width="7.15" height="8.0"/><rect x="113.10" y="290.10" width="7.15" height="8.0"/><rect x="121.20" y="290.10" width="7.15" height="8.0"/><rect x="129.30" y="290.10" width="7.15" height="8.0"/><rect x="137.40" y="290.10" width="7.15" height="8.0"/><rect x="145.50" y="290.10" width="7.15" height="8.0"/><rect x="153.60" y="290.10" width="7.15" height="8.0"/><rect x="161.70" y="290.10" width="7.15" height="8.0"/><rect x="169.80" y="290.10" width="7.15" height="8.0"/><rect x="177.90" y="290.10" width="7.15" height="8.0"/><rect x="186.00" y="290.10" width="7.15" height="8.0"/><rect x="194.10" y="290.10" width="7.15" height="8.0"/><rect x="202.20" y="290.10" width="7.15" height="8.0"/><rect x="210.30" y="290.10" width="7.15" height="8.0"/><rect x="218.40" y="290.10" width="7.15" height="8.0"/><rect x="226.50" y="290.10" width="7.15" height="8.0"/><rect x="234.60" y="290.10" width="7.15" height="8.0"/><rect x="242.70" y="290.10" width="7.15" height="8.0"/><rect x="250.80" y="290.10" width="7.15" height="8.0"/><rect x="258.90" y="290.10" width="7.15" height="8.0"/><rect x="267.00" y="290.10" width="7.15" height="8.0"/><rect x="275.10" y="290.10" width="7.15" height="8.0"/><rect x="283.20" y="290.10" width="7.15" height="8.0"/><rect x="291.30" y="290.10" width="7.15" height="8.0"/><rect x="299.40" y="290.10" width="7.15" height="8.0"/><rect x="72.60" y="299.00" width="7.15" height="8.0"/><rect x="80.70" y="299.00" width="7.15" height="8.0"/><rect x="88.80" y="299.00" width="7.15" height="8.0"/><rect x="96.90" y="299.00" width="7.15" height="8.0"/><rect x="105.00" y="299.00" width="7.15" height="8.0"/><rect x="113.10" y="299.00" width="7.15" height="8.0"/><rect x="121.20" y="299.00" width="7.15" height="8.0"/><rect x="129.30" y="299.00" width="7.15" height="8.0"/><rect x="137.40" y="299.00" width="7.15" height="8.0"/><rect x="145.50" y="299.00" width="7.15" height="8.0"/><rect x="153.60" y="299.00" width="7.15" height="8.0"/><rect x="161.70" y="299.00" width="7.15" height="8.0"/><rect x="169.80" y="299.00" width="7.15" height="8.0"/><rect x="177.90" y="299.00" width="7.15" height="8.0"/><rect x="186.00" y="299.00" width="7.15" height="8.0"/><rect x="194.10" y="299.00" width="7.15" height="8.0"/><rect x="202.20" y="299.00" width="7.15" height="8.0"/><rect x="210.30" y="299.00" width="7.15" height="8.0"/><rect x="218.40" y="299.00" width="7.15" height="8.0"/><rect x="226.50" y="299.00" width="7.15" height="8.0"/><rect x="234.60" y="299.00" width="7.15" height="8.0"/><rect x="242.70" y="299.00" width="7.15" height="8.0"/><rect x="250.80" y="299.00" width="7.15" height="8.0"/><rect x="258.90" y="299.00" width="7.15" height="8.0"/><rect x="267.00" y="299.00" width="7.15" height="8.0"/><rect x="275.10" y="299.00" width="7.15" height="8.0"/><rect x="283.20" y="299.00" width="7.15" height="8.0"/><rect x="291.30" y="299.00" width="7.15" height="8.0"/><rect x="72.60" y="307.90" width="7.15" height="8.0"/><rect x="80.70" y="307.90" width="7.15" height="8.0"/><rect x="88.80" y="307.90" width="7.15" height="8.0"/><rect x="96.90" y="307.90" width="7.15" height="8.0"/><rect x="105.00" y="307.90" width="7.15" height="8.0"/><rect x="113.10" y="307.90" width="7.15" height="8.0"/><rect x="121.20" y="307.90" width="7.15" height="8.0"/><rect x="129.30" y="307.90" width="7.15" height="8.0"/><rect x="137.40" y="307.90" width="7.15" height="8.0"/><rect x="145.50" y="307.90" width="7.15" height="8.0"/><rect x="153.60" y="307.90" width="7.15" height="8.0"/><rect x="161.70" y="307.90" width="7.15" height="8.0"/><rect x="169.80" y="307.90" width="7.15" height="8.0"/><rect x="177.90" y="307.90" width="7.15" height="8.0"/><rect x="186.00" y="307.90" width="7.15" height="8.0"/><rect x="194.10" y="307.90" width="7.15" height="8.0"/><rect x="202.20" y="307.90" width="7.15" height="8.0"/><rect x="210.30" y="307.90" width="7.15" height="8.0"/><rect x="218.40" y="307.90" width="7.15" height="8.0"/><rect x="226.50" y="307.90" width="7.15" height="8.0"/><rect x="234.60" y="307.90" width="7.15" height="8.0"/><rect x="242.70" y="307.90" width="7.15" height="8.0"/><rect x="250.80" y="307.90" width="7.15" height="8.0"/><rect x="258.90" y="307.90" width="7.15" height="8.0"/><rect x="267.00" y="307.90" width="7.15" height="8.0"/><rect x="275.10" y="307.90" width="7.15" height="8.0"/><rect x="283.20" y="307.90" width="7.15" height="8.0"/><rect x="72.60" y="316.80" width="7.15" height="8.0"/><rect x="80.70" y="316.80" width="7.15" height="8.0"/><rect x="88.80" y="316.80" width="7.15" height="8.0"/><rect x="96.90" y="316.80" width="7.15" height="8.0"/><rect x="105.00" y="316.80" width="7.15" height="8.0"/><rect x="113.10" y="316.80" width="7.15" height="8.0"/><rect x="121.20" y="316.80" width="7.15" height="8.0"/><rect x="129.30" y="316.80" width="7.15" height="8.0"/><rect x="137.40" y="316.80" width="7.15" height="8.0"/><rect x="145.50" y="316.80" width="7.15" height="8.0"/><rect x="153.60" y="316.80" width="7.15" height="8.0"/><rect x="161.70" y="316.80" width="7.15" height="8.0"/><rect x="169.80" y="316.80" width="7.15" height="8.0"/><rect x="177.90" y="316.80" width="7.15" height="8.0"/><rect x="186.00" y="316.80" width="7.15" height="8.0"/><rect x="194.10" y="316.80" width="7.15" height="8.0"/><rect x="202.20" y="316.80" width="7.15" height="8.0"/><rect x="210.30" y="316.80" width="7.15" height="8.0"/><rect x="218.40" y="316.80" width="7.15" height="8.0"/><rect x="226.50" y="316.80" width="7.15" height="8.0"/><rect x="234.60" y="316.80" width="7.15" height="8.0"/><rect x="242.70" y="316.80" width="7.15" height="8.0"/><rect x="250.80" y="316.80" width="7.15" height="8.0"/><rect x="258.90" y="316.80" width="7.15" height="8.0"/><rect x="267.00" y="316.80" width="7.15" height="8.0"/><rect x="275.10" y="316.80" width="7.15" height="8.0"/><rect x="72.60" y="325.70" width="7.15" height="8.0"/><rect x="80.70" y="325.70" width="7.15" height="8.0"/><rect x="88.80" y="325.70" width="7.15" height="8.0"/><rect x="96.90" y="325.70" width="7.15" height="8.0"/><rect x="105.00" y="325.70" width="7.15" height="8.0"/><rect x="113.10" y="325.70" width="7.15" height="8.0"/><rect x="121.20" y="325.70" width="7.15" height="8.0"/><rect x="129.30" y="325.70" width="7.15" height="8.0"/><rect x="137.40" y="325.70" width="7.15" height="8.0"/><rect x="145.50" y="325.70" width="7.15" height="8.0"/><rect x="153.60" y="325.70" width="7.15" height="8.0"/><rect x="161.70" y="325.70" width="7.15" height="8.0"/><rect x="169.80" y="325.70" width="7.15" height="8.0"/><rect x="177.90" y="325.70" width="7.15" height="8.0"/><rect x="186.00" y="325.70" width="7.15" height="8.0"/><rect x="194.10" y="325.70" width="7.15" height="8.0"/><rect x="202.20" y="325.70" width="7.15" height="8.0"/><rect x="210.30" y="325.70" width="7.15" height="8.0"/><rect x="218.40" y="325.70" width="7.15" height="8.0"/><rect x="226.50" y="325.70" width="7.15" height="8.0"/><rect x="234.60" y="325.70" width="7.15" height="8.0"/><rect x="242.70" y="325.70" width="7.15" height="8.0"/><rect x="250.80" y="325.70" width="7.15" height="8.0"/><rect x="258.90" y="325.70" width="7.15" height="8.0"/><rect x="267.00" y="325.70" width="7.15" height="8.0"/><rect x="72.60" y="334.60" width="7.15" height="8.0"/><rect x="80.70" y="334.60" width="7.15" height="8.0"/><rect x="88.80" y="334.60" width="7.15" height="8.0"/><rect x="96.90" y="334.60" width="7.15" height="8.0"/><rect x="105.00" y="334.60" width="7.15" height="8.0"/><rect x="113.10" y="334.60" width="7.15" height="8.0"/><rect x="121.20" y="334.60" width="7.15" height="8.0"/><rect x="129.30" y="334.60" width="7.15" height="8.0"/><rect x="137.40" y="334.60" width="7.15" height="8.0"/><rect x="145.50" y="334.60" width="7.15" height="8.0"/><rect x="153.60" y="334.60" width="7.15" height="8.0"/><rect x="161.70" y="334.60" width="7.15" height="8.0"/><rect x="169.80" y="334.60" width="7.15" height="8.0"/><rect x="177.90" y="334.60" width="7.15" height="8.0"/><rect x="186.00" y="334.60" width="7.15" height="8.0"/><rect x="194.10" y="334.60" width="7.15" height="8.0"/><rect x="202.20" y="334.60" width="7.15" height="8.0"/><rect x="210.30" y="334.60" width="7.15" height="8.0"/><rect x="218.40" y="334.60" width="7.15" height="8.0"/><rect x="226.50" y="334.60" width="7.15" height="8.0"/><rect x="234.60" y="334.60" width="7.15" height="8.0"/><rect x="242.70" y="334.60" width="7.15" height="8.0"/><rect x="250.80" y="334.60" width="7.15" height="8.0"/><rect x="258.90" y="334.60" width="7.15" height="8.0"/><rect x="72.60" y="343.50" width="7.15" height="8.0"/><rect x="80.70" y="343.50" width="7.15" height="8.0"/><rect x="88.80" y="343.50" width="7.15" height="8.0"/><rect x="96.90" y="343.50" width="7.15" height="8.0"/><rect x="105.00" y="343.50" width="7.15" height="8.0"/><rect x="113.10" y="343.50" width="7.15" height="8.0"/><rect x="121.20" y="343.50" width="7.15" height="8.0"/><rect x="129.30" y="343.50" width="7.15" height="8.0"/><rect x="137.40" y="343.50" width="7.15" height="8.0"/><rect x="145.50" y="343.50" width="7.15" height="8.0"/><rect x="153.60" y="343.50" width="7.15" height="8.0"/><rect x="161.70" y="343.50" width="7.15" height="8.0"/><rect x="169.80" y="343.50" width="7.15" height="8.0"/><rect x="177.90" y="343.50" width="7.15" height="8.0"/><rect x="186.00" y="343.50" width="7.15" height="8.0"/><rect x="194.10" y="343.50" width="7.15" height="8.0"/><rect x="202.20" y="343.50" width="7.15" height="8.0"/><rect x="210.30" y="343.50" width="7.15" height="8.0"/><rect x="218.40" y="343.50" width="7.15" height="8.0"/><rect x="226.50" y="343.50" width="7.15" height="8.0"/><rect x="234.60" y="343.50" width="7.15" height="8.0"/><rect x="242.70" y="343.50" width="7.15" height="8.0"/><rect x="250.80" y="343.50" width="7.15" height="8.0"/><rect x="72.60" y="352.40" width="7.15" height="8.0"/><rect x="80.70" y="352.40" width="7.15" height="8.0"/><rect x="88.80" y="352.40" width="7.15" height="8.0"/><rect x="96.90" y="352.40" width="7.15" height="8.0"/><rect x="105.00" y="352.40" width="7.15" height="8.0"/><rect x="113.10" y="352.40" width="7.15" height="8.0"/><rect x="121.20" y="352.40" width="7.15" height="8.0"/><rect x="129.30" y="352.40" width="7.15" height="8.0"/><rect x="137.40" y="352.40" width="7.15" height="8.0"/><rect x="145.50" y="352.40" width="7.15" height="8.0"/><rect x="153.60" y="352.40" width="7.15" height="8.0"/><rect x="161.70" y="352.40" width="7.15" height="8.0"/><rect x="169.80" y="352.40" width="7.15" height="8.0"/><rect x="177.90" y="352.40" width="7.15" height="8.0"/><rect x="186.00" y="352.40" width="7.15" height="8.0"/><rect x="194.10" y="352.40" width="7.15" height="8.0"/><rect x="202.20" y="352.40" width="7.15" height="8.0"/><rect x="210.30" y="352.40" width="7.15" height="8.0"/><rect x="218.40" y="352.40" width="7.15" height="8.0"/><rect x="226.50" y="352.40" width="7.15" height="8.0"/><rect x="234.60" y="352.40" width="7.15" height="8.0"/><rect x="242.70" y="352.40" width="7.15" height="8.0"/><rect x="72.60" y="361.30" width="7.15" height="8.0"/><rect x="80.70" y="361.30" width="7.15" height="8.0"/><rect x="88.80" y="361.30" width="7.15" height="8.0"/><rect x="96.90" y="361.30" width="7.15" height="8.0"/><rect x="105.00" y="361.30" width="7.15" height="8.0"/><rect x="113.10" y="361.30" width="7.15" height="8.0"/><rect x="121.20" y="361.30" width="7.15" height="8.0"/><rect x="129.30" y="361.30" width="7.15" height="8.0"/><rect x="137.40" y="361.30" width="7.15" height="8.0"/><rect x="145.50" y="361.30" width="7.15" height="8.0"/><rect x="153.60" y="361.30" width="7.15" height="8.0"/><rect x="161.70" y="361.30" width="7.15" height="8.0"/><rect x="169.80" y="361.30" width="7.15" height="8.0"/><rect x="177.90" y="361.30" width="7.15" height="8.0"/><rect x="186.00" y="361.30" width="7.15" height="8.0"/><rect x="194.10" y="361.30" width="7.15" height="8.0"/><rect x="202.20" y="361.30" width="7.15" height="8.0"/><rect x="210.30" y="361.30" width="7.15" height="8.0"/><rect x="218.40" y="361.30" width="7.15" height="8.0"/><rect x="226.50" y="361.30" width="7.15" height="8.0"/><rect x="234.60" y="361.30" width="7.15" height="8.0"/><rect x="72.60" y="370.20" width="7.15" height="8.0"/><rect x="80.70" y="370.20" width="7.15" height="8.0"/><rect x="88.80" y="370.20" width="7.15" height="8.0"/><rect x="96.90" y="370.20" width="7.15" height="8.0"/><rect x="105.00" y="370.20" width="7.15" height="8.0"/><rect x="113.10" y="370.20" width="7.15" height="8.0"/><rect x="121.20" y="370.20" width="7.15" height="8.0"/><rect x="129.30" y="370.20" width="7.15" height="8.0"/><rect x="137.40" y="370.20" width="7.15" height="8.0"/><rect x="145.50" y="370.20" width="7.15" height="8.0"/><rect x="153.60" y="370.20" width="7.15" height="8.0"/><rect x="161.70" y="370.20" width="7.15" height="8.0"/><rect x="169.80" y="370.20" width="7.15" height="8.0"/><rect x="177.90" y="370.20" width="7.15" height="8.0"/><rect x="186.00" y="370.20" width="7.15" height="8.0"/><rect x="194.10" y="370.20" width="7.15" height="8.0"/><rect x="202.20" y="370.20" width="7.15" height="8.0"/><rect x="210.30" y="370.20" width="7.15" height="8.0"/><rect x="218.40" y="370.20" width="7.15" height="8.0"/><rect x="226.50" y="370.20" width="7.15" height="8.0"/><rect x="72.60" y="379.10" width="7.15" height="8.0"/><rect x="80.70" y="379.10" width="7.15" height="8.0"/><rect x="88.80" y="379.10" width="7.15" height="8.0"/><rect x="96.90" y="379.10" width="7.15" height="8.0"/><rect x="105.00" y="379.10" width="7.15" height="8.0"/><rect x="113.10" y="379.10" width="7.15" height="8.0"/><rect x="121.20" y="379.10" width="7.15" height="8.0"/><rect x="129.30" y="379.10" width="7.15" height="8.0"/><rect x="137.40" y="379.10" width="7.15" height="8.0"/><rect x="145.50" y="379.10" width="7.15" height="8.0"/><rect x="153.60" y="379.10" width="7.15" height="8.0"/><rect x="161.70" y="379.10" width="7.15" height="8.0"/><rect x="169.80" y="379.10" width="7.15" height="8.0"/><rect x="177.90" y="379.10" width="7.15" height="8.0"/><rect x="186.00" y="379.10" width="7.15" height="8.0"/><rect x="194.10" y="379.10" width="7.15" height="8.0"/><rect x="202.20" y="379.10" width="7.15" height="8.0"/><rect x="210.30" y="379.10" width="7.15" height="8.0"/><rect x="218.40" y="379.10" width="7.15" height="8.0"/><rect x="72.60" y="388.00" width="7.15" height="8.0"/><rect x="80.70" y="388.00" width="7.15" height="8.0"/><rect x="88.80" y="388.00" width="7.15" height="8.0"/><rect x="96.90" y="388.00" width="7.15" height="8.0"/><rect x="105.00" y="388.00" width="7.15" height="8.0"/><rect x="113.10" y="388.00" width="7.15" height="8.0"/><rect x="121.20" y="388.00" width="7.15" height="8.0"/><rect x="129.30" y="388.00" width="7.15" height="8.0"/><rect x="137.40" y="388.00" width="7.15" height="8.0"/><rect x="145.50" y="388.00" width="7.15" height="8.0"/><rect x="153.60" y="388.00" width="7.15" height="8.0"/><rect x="161.70" y="388.00" width="7.15" height="8.0"/><rect x="169.80" y="388.00" width="7.15" height="8.0"/><rect x="177.90" y="388.00" width="7.15" height="8.0"/><rect x="186.00" y="388.00" width="7.15" height="8.0"/><rect x="194.10" y="388.00" width="7.15" height="8.0"/><rect x="202.20" y="388.00" width="7.15" height="8.0"/><rect x="210.30" y="388.00" width="7.15" height="8.0"/><rect x="72.60" y="396.90" width="7.15" height="8.0"/><rect x="80.70" y="396.90" width="7.15" height="8.0"/><rect x="88.80" y="396.90" width="7.15" height="8.0"/><rect x="96.90" y="396.90" width="7.15" height="8.0"/><rect x="105.00" y="396.90" width="7.15" height="8.0"/><rect x="113.10" y="396.90" width="7.15" height="8.0"/><rect x="121.20" y="396.90" width="7.15" height="8.0"/><rect x="129.30" y="396.90" width="7.15" height="8.0"/><rect x="137.40" y="396.90" width="7.15" height="8.0"/><rect x="145.50" y="396.90" width="7.15" height="8.0"/><rect x="153.60" y="396.90" width="7.15" height="8.0"/><rect x="161.70" y="396.90" width="7.15" height="8.0"/><rect x="169.80" y="396.90" width="7.15" height="8.0"/><rect x="177.90" y="396.90" width="7.15" height="8.0"/><rect x="186.00" y="396.90" width="7.15" height="8.0"/><rect x="194.10" y="396.90" width="7.15" height="8.0"/><rect x="202.20" y="396.90" width="7.15" height="8.0"/><rect x="72.60" y="405.80" width="7.15" height="8.0"/><rect x="80.70" y="405.80" width="7.15" height="8.0"/><rect x="88.80" y="405.80" width="7.15" height="8.0"/><rect x="96.90" y="405.80" width="7.15" height="8.0"/><rect x="105.00" y="405.80" width="7.15" height="8.0"/><rect x="113.10" y="405.80" width="7.15" height="8.0"/><rect x="121.20" y="405.80" width="7.15" height="8.0"/><rect x="129.30" y="405.80" width="7.15" height="8.0"/><rect x="137.40" y="405.80" width="7.15" height="8.0"/><rect x="145.50" y="405.80" width="7.15" height="8.0"/><rect x="153.60" y="405.80" width="7.15" height="8.0"/><rect x="161.70" y="405.80" width="7.15" height="8.0"/><rect x="169.80" y="405.80" width="7.15" height="8.0"/><rect x="177.90" y="405.80" width="7.15" height="8.0"/><rect x="186.00" y="405.80" width="7.15" height="8.0"/><rect x="194.10" y="405.80" width="7.15" height="8.0"/><rect x="72.60" y="414.70" width="7.15" height="8.0"/><rect x="80.70" y="414.70" width="7.15" height="8.0"/><rect x="88.80" y="414.70" width="7.15" height="8.0"/><rect x="96.90" y="414.70" width="7.15" height="8.0"/><rect x="105.00" y="414.70" width="7.15" height="8.0"/><rect x="113.10" y="414.70" width="7.15" height="8.0"/><rect x="121.20" y="414.70" width="7.15" height="8.0"/><rect x="129.30" y="414.70" width="7.15" height="8.0"/><rect x="137.40" y="414.70" width="7.15" height="8.0"/><rect x="145.50" y="414.70" width="7.15" height="8.0"/><rect x="153.60" y="414.70" width="7.15" height="8.0"/><rect x="161.70" y="414.70" width="7.15" height="8.0"/><rect x="169.80" y="414.70" width="7.15" height="8.0"/><rect x="177.90" y="414.70" width="7.15" height="8.0"/><rect x="186.00" y="414.70" width="7.15" height="8.0"/><rect x="72.60" y="423.60" width="7.15" height="8.0"/><rect x="80.70" y="423.60" width="7.15" height="8.0"/><rect x="88.80" y="423.60" width="7.15" height="8.0"/><rect x="96.90" y="423.60" width="7.15" height="8.0"/><rect x="105.00" y="423.60" width="7.15" height="8.0"/><rect x="113.10" y="423.60" width="7.15" height="8.0"/><rect x="121.20" y="423.60" width="7.15" height="8.0"/><rect x="129.30" y="423.60" width="7.15" height="8.0"/><rect x="137.40" y="423.60" width="7.15" height="8.0"/><rect x="145.50" y="423.60" width="7.15" height="8.0"/><rect x="153.60" y="423.60" width="7.15" height="8.0"/><rect x="161.70" y="423.60" width="7.15" height="8.0"/><rect x="169.80" y="423.60" width="7.15" height="8.0"/><rect x="177.90" y="423.60" width="7.15" height="8.0"/><rect x="72.60" y="432.50" width="7.15" height="8.0"/><rect x="80.70" y="432.50" width="7.15" height="8.0"/><rect x="88.80" y="432.50" width="7.15" height="8.0"/><rect x="96.90" y="432.50" width="7.15" height="8.0"/><rect x="105.00" y="432.50" width="7.15" height="8.0"/><rect x="113.10" y="432.50" width="7.15" height="8.0"/><rect x="121.20" y="432.50" width="7.15" height="8.0"/><rect x="129.30" y="432.50" width="7.15" height="8.0"/><rect x="137.40" y="432.50" width="7.15" height="8.0"/><rect x="145.50" y="432.50" width="7.15" height="8.0"/><rect x="153.60" y="432.50" width="7.15" height="8.0"/><rect x="161.70" y="432.50" width="7.15" height="8.0"/><rect x="169.80" y="432.50" width="7.15" height="8.0"/><rect x="72.60" y="441.40" width="7.15" height="8.0"/><rect x="80.70" y="441.40" width="7.15" height="8.0"/><rect x="88.80" y="441.40" width="7.15" height="8.0"/><rect x="96.90" y="441.40" width="7.15" height="8.0"/><rect x="105.00" y="441.40" width="7.15" height="8.0"/><rect x="113.10" y="441.40" width="7.15" height="8.0"/><rect x="121.20" y="441.40" width="7.15" height="8.0"/><rect x="129.30" y="441.40" width="7.15" height="8.0"/><rect x="137.40" y="441.40" width="7.15" height="8.0"/><rect x="145.50" y="441.40" width="7.15" height="8.0"/><rect x="153.60" y="441.40" width="7.15" height="8.0"/><rect x="161.70" y="441.40" width="7.15" height="8.0"/><rect x="72.60" y="450.30" width="7.15" height="8.0"/><rect x="80.70" y="450.30" width="7.15" height="8.0"/><rect x="88.80" y="450.30" width="7.15" height="8.0"/><rect x="96.90" y="450.30" width="7.15" height="8.0"/><rect x="105.00" y="450.30" width="7.15" height="8.0"/><rect x="113.10" y="450.30" width="7.15" height="8.0"/><rect x="121.20" y="450.30" width="7.15" height="8.0"/><rect x="129.30" y="450.30" width="7.15" height="8.0"/><rect x="137.40" y="450.30" width="7.15" height="8.0"/><rect x="145.50" y="450.30" width="7.15" height="8.0"/><rect x="153.60" y="450.30" width="7.15" height="8.0"/><rect x="72.60" y="459.20" width="7.15" height="8.0"/><rect x="80.70" y="459.20" width="7.15" height="8.0"/><rect x="88.80" y="459.20" width="7.15" height="8.0"/><rect x="96.90" y="459.20" width="7.15" height="8.0"/><rect x="105.00" y="459.20" width="7.15" height="8.0"/><rect x="113.10" y="459.20" width="7.15" height="8.0"/><rect x="121.20" y="459.20" width="7.15" height="8.0"/><rect x="129.30" y="459.20" width="7.15" height="8.0"/><rect x="137.40" y="459.20" width="7.15" height="8.0"/><rect x="145.50" y="459.20" width="7.15" height="8.0"/><rect x="72.60" y="468.10" width="7.15" height="8.0"/><rect x="80.70" y="468.10" width="7.15" height="8.0"/><rect x="88.80" y="468.10" width="7.15" height="8.0"/><rect x="96.90" y="468.10" width="7.15" height="8.0"/><rect x="105.00" y="468.10" width="7.15" height="8.0"/><rect x="113.10" y="468.10" width="7.15" height="8.0"/><rect x="121.20" y="468.10" width="7.15" height="8.0"/><rect x="129.30" y="468.10" width="7.15" height="8.0"/><rect x="137.40" y="468.10" width="7.15" height="8.0"/><rect x="72.60" y="477.00" width="7.15" height="8.0"/><rect x="80.70" y="477.00" width="7.15" height="8.0"/><rect x="88.80" y="477.00" width="7.15" height="8.0"/><rect x="96.90" y="477.00" width="7.15" height="8.0"/><rect x="105.00" y="477.00" width="7.15" height="8.0"/><rect x="113.10" y="477.00" width="7.15" height="8.0"/><rect x="121.20" y="477.00" width="7.15" height="8.0"/><rect x="129.30" y="477.00" width="7.15" height="8.0"/><rect x="72.60" y="485.90" width="7.15" height="8.0"/><rect x="80.70" y="485.90" width="7.15" height="8.0"/><rect x="88.80" y="485.90" width="7.15" height="8.0"/><rect x="96.90" y="485.90" width="7.15" height="8.0"/><rect x="105.00" y="485.90" width="7.15" height="8.0"/><rect x="113.10" y="485.90" width="7.15" height="8.0"/><rect x="121.20" y="485.90" width="7.15" height="8.0"/><rect x="72.60" y="494.80" width="7.15" height="8.0"/><rect x="80.70" y="494.80" width="7.15" height="8.0"/><rect x="88.80" y="494.80" width="7.15" height="8.0"/><rect x="96.90" y="494.80" width="7.15" height="8.0"/><rect x="105.00" y="494.80" width="7.15" height="8.0"/><rect x="113.10" y="494.80" width="7.15" height="8.0"/><rect x="72.60" y="503.70" width="7.15" height="8.0"/><rect x="80.70" y="503.70" width="7.15" height="8.0"/><rect x="88.80" y="503.70" width="7.15" height="8.0"/><rect x="96.90" y="503.70" width="7.15" height="8.0"/><rect x="105.00" y="503.70" width="7.15" height="8.0"/><rect x="72.60" y="512.60" width="7.15" height="8.0"/><rect x="80.70" y="512.60" width="7.15" height="8.0"/><rect x="88.80" y="512.60" width="7.15" height="8.0"/><rect x="96.90" y="512.60" width="7.15" height="8.0"/><rect x="72.60" y="521.50" width="7.15" height="8.0"/><rect x="80.70" y="521.50" width="7.15" height="8.0"/><rect x="88.80" y="521.50" width="7.15" height="8.0"/><rect x="72.60" y="530.40" width="7.15" height="8.0"/><rect x="80.70" y="530.40" width="7.15" height="8.0"/><rect x="72.60" y="539.30" width="7.15" height="8.0"/></g>
<rect x="145.05" y="85.05" width="8.05" height="8.80" fill="#c6d59b"/>
<rect x="177.45" y="85.05" width="8.05" height="8.80" fill="#c6d59b"/>
<rect x="420.45" y="85.05" width="8.05" height="8.80" fill="#c6d59b"/>
<rect x="444.75" y="85.05" width="8.05" height="8.80" fill="#c6d59b"/>
<rect x="161.25" y="93.95" width="8.05" height="8.80" fill="#c6d59b"/>
<rect x="379.95" y="93.95" width="8.05" height="8.80" fill="#93b464"/>
<rect x="404.25" y="93.95" width="8.05" height="8.80" fill="#c6d59b"/>
<rect x="420.45" y="93.95" width="8.05" height="8.80" fill="#c6d59b"/>
<rect x="444.75" y="93.95" width="8.05" height="8.80" fill="#c6d59b"/>
<rect x="452.85" y="93.95" width="8.05" height="8.80" fill="#c6d59b"/>
<rect x="460.95" y="93.95" width="8.05" height="8.80" fill="#c6d59b"/>
<rect x="469.05" y="93.95" width="8.05" height="8.80" fill="#c6d59b"/>
<rect x="153.15" y="102.85" width="8.05" height="8.80" fill="#c6d59b"/>
<rect x="404.25" y="102.85" width="8.05" height="8.80" fill="#c6d59b"/>
<rect x="420.45" y="102.85" width="8.05" height="8.80" fill="#c6d59b"/>
<rect x="428.55" y="102.85" width="8.05" height="8.80" fill="#c6d59b"/>
<rect x="444.75" y="102.85" width="8.05" height="8.80" fill="#c6d59b"/>
<rect x="452.85" y="102.85" width="8.05" height="8.80" fill="#c6d59b"/>
<rect x="460.95" y="102.85" width="8.05" height="8.80" fill="#c6d59b"/>
<rect x="136.95" y="111.75" width="8.05" height="8.80" fill="#c6d59b"/>
<rect x="201.75" y="111.75" width="8.05" height="8.80" fill="#c6d59b"/>
<rect x="226.05" y="111.75" width="8.05" height="8.80" fill="#c6d59b"/>
<rect x="339.45" y="111.75" width="8.05" height="8.80" fill="#93b464"/>
<rect x="428.55" y="111.75" width="8.05" height="8.80" fill="#c6d59b"/>
<rect x="234.15" y="120.65" width="8.05" height="8.80" fill="#c6d59b"/>
<rect x="242.25" y="120.65" width="8.05" height="8.80" fill="#c6d59b"/>
<rect x="274.65" y="120.65" width="8.05" height="8.80" fill="#c6d59b"/>
<rect x="444.75" y="120.65" width="8.05" height="8.80" fill="#c6d59b"/>
<rect x="128.85" y="129.55" width="8.05" height="8.80" fill="#c6d59b"/>
<rect x="282.75" y="129.55" width="8.05" height="8.80" fill="#c6d59b"/>
<rect x="363.75" y="129.55" width="8.05" height="8.80" fill="#c6d59b"/>
<rect x="420.45" y="129.55" width="8.05" height="8.80" fill="#93b464"/>
<rect x="104.55" y="147.35" width="8.05" height="8.80" fill="#c6d59b"/>
<rect x="217.95" y="147.35" width="8.05" height="8.80" fill="#c6d59b"/>
<rect x="290.85" y="147.35" width="8.05" height="8.80" fill="#c6d59b"/>
<rect x="307.05" y="147.35" width="8.05" height="8.80" fill="#c6d59b"/>
<rect x="226.05" y="156.25" width="8.05" height="8.80" fill="#c6d59b"/>
<rect x="250.35" y="156.25" width="8.05" height="8.80" fill="#c6d59b"/>
<rect x="274.65" y="156.25" width="8.05" height="8.80" fill="#c6d59b"/>
<rect x="363.75" y="156.25" width="8.05" height="8.80" fill="#c6d59b"/>
<rect x="128.85" y="165.15" width="8.05" height="8.80" fill="#c6d59b"/>
<rect x="258.45" y="165.15" width="8.05" height="8.80" fill="#c6d59b"/>
<rect x="388.05" y="165.15" width="8.05" height="8.80" fill="#c6d59b"/>
<rect x="145.05" y="174.05" width="8.05" height="8.80" fill="#c6d59b"/>
<rect x="242.25" y="174.05" width="8.05" height="8.80" fill="#c6d59b"/>
<rect x="258.45" y="174.05" width="8.05" height="8.80" fill="#c6d59b"/>
<rect x="282.75" y="174.05" width="8.05" height="8.80" fill="#c6d59b"/>
<rect x="161.25" y="182.95" width="8.05" height="8.80" fill="#c6d59b"/>
<rect x="323.25" y="182.95" width="8.05" height="8.80" fill="#c6d59b"/>
<rect x="355.65" y="182.95" width="8.05" height="8.80" fill="#93b464"/>
<rect x="177.45" y="191.85" width="8.05" height="8.80" fill="#c6d59b"/>
<rect x="226.05" y="191.85" width="8.05" height="8.80" fill="#c6d59b"/>
<rect x="104.55" y="200.75" width="8.05" height="8.80" fill="#c6d59b"/>
<rect x="153.15" y="200.75" width="8.05" height="8.80" fill="#c6d59b"/>
<rect x="161.25" y="200.75" width="8.05" height="8.80" fill="#c6d59b"/>
<rect x="169.35" y="209.65" width="8.05" height="8.80" fill="#c6d59b"/>
<rect x="193.65" y="209.65" width="8.05" height="8.80" fill="#c6d59b"/>
<rect x="250.35" y="209.65" width="8.05" height="8.80" fill="#c6d59b"/>
<rect x="282.75" y="218.55" width="8.05" height="8.80" fill="#c6d59b"/>
<rect x="315.15" y="218.55" width="8.05" height="8.80" fill="#c6d59b"/>
<rect x="120.75" y="227.45" width="8.05" height="8.80" fill="#c6d59b"/>
<rect x="136.95" y="227.45" width="8.05" height="8.80" fill="#c6d59b"/>
<rect x="185.55" y="227.45" width="8.05" height="8.80" fill="#c6d59b"/>
<rect x="201.75" y="227.45" width="8.05" height="8.80" fill="#c6d59b"/>
<rect x="298.95" y="227.45" width="8.05" height="8.80" fill="#c6d59b"/>
<rect x="72.15" y="236.35" width="8.05" height="8.80" fill="#c6d59b"/>
<rect x="153.15" y="236.35" width="8.05" height="8.80" fill="#c6d59b"/>
<rect x="185.55" y="236.35" width="8.05" height="8.80" fill="#93b464"/>
<rect x="193.65" y="236.35" width="8.05" height="8.80" fill="#c6d59b"/>
<rect x="201.75" y="236.35" width="8.05" height="8.80" fill="#c6d59b"/>
<rect x="209.85" y="236.35" width="8.05" height="8.80" fill="#c6d59b"/>
<rect x="104.55" y="245.25" width="8.05" height="8.80" fill="#c6d59b"/>
<rect x="112.65" y="245.25" width="8.05" height="8.80" fill="#c6d59b"/>
<rect x="120.75" y="245.25" width="8.05" height="8.80" fill="#c6d59b"/>
<rect x="136.95" y="245.25" width="8.05" height="8.80" fill="#c6d59b"/>
<rect x="177.45" y="245.25" width="8.05" height="8.80" fill="#c6d59b"/>
<rect x="209.85" y="245.25" width="8.05" height="8.80" fill="#c6d59b"/>
<rect x="307.05" y="245.25" width="8.05" height="8.80" fill="#c6d59b"/>
<rect x="331.35" y="245.25" width="8.05" height="8.80" fill="#c6d59b"/>
<rect x="104.55" y="254.15" width="8.05" height="8.80" fill="#c6d59b"/>
<rect x="72.15" y="271.95" width="8.05" height="8.80" fill="#cf88ae"/>
<rect x="80.25" y="271.95" width="8.05" height="8.80" fill="#c6d59b"/>
<rect x="96.45" y="271.95" width="8.05" height="8.80" fill="#c6d59b"/>
<rect x="104.55" y="280.85" width="8.05" height="8.80" fill="#c6d59b"/>
<rect x="217.95" y="280.85" width="8.05" height="8.80" fill="#c6d59b"/>
<rect x="290.85" y="280.85" width="8.05" height="8.80" fill="#c6d59b"/>
<rect x="104.55" y="289.75" width="8.05" height="8.80" fill="#c6d59b"/>
<rect x="185.55" y="289.75" width="8.05" height="8.80" fill="#c6d59b"/>
<rect x="201.75" y="289.75" width="8.05" height="8.80" fill="#c6d59b"/>
<rect x="72.15" y="298.65" width="8.05" height="8.80" fill="#c6d59b"/>
<rect x="104.55" y="298.65" width="8.05" height="8.80" fill="#c6d59b"/>
<rect x="217.95" y="298.65" width="8.05" height="8.80" fill="#c6d59b"/>
<rect x="258.45" y="298.65" width="8.05" height="8.80" fill="#c6d59b"/>
<rect x="145.05" y="307.55" width="8.05" height="8.80" fill="#c6d59b"/>
<rect x="153.15" y="307.55" width="8.05" height="8.80" fill="#c6d59b"/>
<rect x="258.45" y="307.55" width="8.05" height="8.80" fill="#c6d59b"/>
<rect x="153.15" y="316.45" width="8.05" height="8.80" fill="#c6d59b"/>
<rect x="169.35" y="316.45" width="8.05" height="8.80" fill="#c6d59b"/>
<rect x="185.55" y="316.45" width="8.05" height="8.80" fill="#c6d59b"/>
<rect x="226.05" y="316.45" width="8.05" height="8.80" fill="#c6d59b"/>
<rect x="234.15" y="316.45" width="8.05" height="8.80" fill="#c6d59b"/>
<rect x="242.25" y="316.45" width="8.05" height="8.80" fill="#c6d59b"/>
<rect x="250.35" y="316.45" width="8.05" height="8.80" fill="#c6d59b"/>
<rect x="96.45" y="325.35" width="8.05" height="8.80" fill="#cf88ae"/>
<rect x="145.05" y="325.35" width="8.05" height="8.80" fill="#efd6e4"/>
<rect x="169.35" y="325.35" width="8.05" height="8.80" fill="#c6d59b"/>
<rect x="201.75" y="325.35" width="8.05" height="8.80" fill="#6a8f44"/>
<rect x="209.85" y="325.35" width="8.05" height="8.80" fill="#c6d59b"/>
<rect x="217.95" y="325.35" width="8.05" height="8.80" fill="#c6d59b"/>
<rect x="145.05" y="334.25" width="8.05" height="8.80" fill="#c6d59b"/>
<rect x="128.85" y="343.15" width="8.05" height="8.80" fill="#93b464"/>
<rect x="136.95" y="343.15" width="8.05" height="8.80" fill="#93b464"/>
<rect x="145.05" y="343.15" width="8.05" height="8.80" fill="#c6d59b"/>
<rect x="193.65" y="343.15" width="8.05" height="8.80" fill="#c6d59b"/>
<rect x="226.05" y="343.15" width="8.05" height="8.80" fill="#c6d59b"/>
<rect x="193.65" y="352.05" width="8.05" height="8.80" fill="#c6d59b"/>
<rect x="145.05" y="360.95" width="8.05" height="8.80" fill="#c6d59b"/>
<rect x="136.95" y="369.85" width="8.05" height="8.80" fill="#c6d59b"/>
<rect x="177.45" y="369.85" width="8.05" height="8.80" fill="#c6d59b"/>
<rect x="104.55" y="378.75" width="8.05" height="8.80" fill="#93b464"/>
<rect x="120.75" y="378.75" width="8.05" height="8.80" fill="#c6d59b"/>
<rect x="153.15" y="378.75" width="8.05" height="8.80" fill="#c6d59b"/>
<rect x="209.85" y="378.75" width="8.05" height="8.80" fill="#93b464"/>
<rect x="72.15" y="387.65" width="8.05" height="8.80" fill="#c6d59b"/>
<rect x="104.55" y="387.65" width="8.05" height="8.80" fill="#c6d59b"/>
<rect x="112.65" y="387.65" width="8.05" height="8.80" fill="#c6d59b"/>
<rect x="120.75" y="387.65" width="8.05" height="8.80" fill="#93b464"/>
<rect x="128.85" y="387.65" width="8.05" height="8.80" fill="#efd6e4"/>
<rect x="153.15" y="387.65" width="8.05" height="8.80" fill="#c6d59b"/>
<rect x="169.35" y="387.65" width="8.05" height="8.80" fill="#93b464"/>
<rect x="185.55" y="387.65" width="8.05" height="8.80" fill="#c6d59b"/>
<rect x="193.65" y="387.65" width="8.05" height="8.80" fill="#c6d59b"/>
<rect x="201.75" y="387.65" width="8.05" height="8.80" fill="#c6d59b"/>
<rect x="72.15" y="396.55" width="8.05" height="8.80" fill="#c6d59b"/>
<rect x="88.35" y="396.55" width="8.05" height="8.80" fill="#c6d59b"/>
<rect x="112.65" y="396.55" width="8.05" height="8.80" fill="#c6d59b"/>
<rect x="136.95" y="396.55" width="8.05" height="8.80" fill="#c6d59b"/>
<rect x="169.35" y="396.55" width="8.05" height="8.80" fill="#c6d59b"/>
<rect x="185.55" y="396.55" width="8.05" height="8.80" fill="#c6d59b"/>
<rect x="112.65" y="414.35" width="8.05" height="8.80" fill="#c6d59b"/>
<rect x="120.75" y="414.35" width="8.05" height="8.80" fill="#93b464"/>
<rect x="72.15" y="423.25" width="8.05" height="8.80" fill="#c6d59b"/>
<rect x="88.35" y="423.25" width="8.05" height="8.80" fill="#c6d59b"/>
<rect x="104.55" y="423.25" width="8.05" height="8.80" fill="#c6d59b"/>
<rect x="120.75" y="423.25" width="8.05" height="8.80" fill="#c6d59b"/>
<rect x="72.15" y="432.15" width="8.05" height="8.80" fill="#c6d59b"/>
<rect x="104.55" y="432.15" width="8.05" height="8.80" fill="#c6d59b"/>
<rect x="112.65" y="432.15" width="8.05" height="8.80" fill="#6a8f44"/>
<rect x="88.35" y="449.95" width="8.05" height="8.80" fill="#c6d59b"/>
<rect x="104.55" y="449.95" width="8.05" height="8.80" fill="#c6d59b"/>
<rect x="112.65" y="449.95" width="8.05" height="8.80" fill="#c6d59b"/>
<rect x="120.75" y="449.95" width="8.05" height="8.80" fill="#93b464"/>
<rect x="88.35" y="476.65" width="8.05" height="8.80" fill="#e2b3cb"/>
<rect x="104.55" y="485.55" width="8.05" height="8.80" fill="#c6d59b"/>
<rect x="112.65" y="485.55" width="8.05" height="8.80" fill="#c6d59b"/>
<rect x="72.15" y="494.45" width="8.05" height="8.80" fill="#c6d59b"/>
<rect x="104.55" y="494.45" width="8.05" height="8.80" fill="#c6d59b"/>
<rect x="72.15" y="503.35" width="8.05" height="8.80" fill="#c6d59b"/>
<rect x="72.15" y="512.25" width="8.05" height="8.80" fill="#c6d59b"/>
<rect x="80.25" y="512.25" width="8.05" height="8.80" fill="#c6d59b"/>
<rect x="72.15" y="521.15" width="8.05" height="8.80" fill="#c6d59b"/>
<g fill="#262626"><circle cx="149.07" cy="89.70" r="0.85"/><rect x="180.32" y="88.40" width="2.3" height="2.8" rx="0.5"/><circle cx="424.47" cy="89.70" r="0.85"/><circle cx="448.77" cy="89.70" r="0.85"/><rect x="164.12" y="97.30" width="2.3" height="2.8" rx="0.5"/><rect x="382.82" y="97.30" width="2.3" height="2.8" rx="0.5"/><circle cx="408.27" cy="98.60" r="0.85"/><circle cx="424.47" cy="98.60" r="0.85"/><circle cx="448.77" cy="98.60" r="0.85"/><circle cx="456.87" cy="98.60" r="0.85"/><rect x="463.82" y="97.30" width="2.3" height="2.8" rx="0.5"/><rect x="471.93" y="97.30" width="2.3" height="2.8" rx="0.5"/><circle cx="157.17" cy="107.50" r="0.85"/><circle cx="408.27" cy="107.50" r="0.85"/><circle cx="424.47" cy="107.50" r="0.85"/><circle cx="432.57" cy="107.50" r="0.85"/><circle cx="448.77" cy="107.50" r="0.85"/><circle cx="456.87" cy="107.50" r="0.85"/><rect x="463.82" y="106.20" width="2.3" height="2.8" rx="0.5"/><circle cx="140.97" cy="116.40" r="0.85"/><rect x="204.62" y="115.10" width="2.3" height="2.8" rx="0.5"/><rect x="228.92" y="115.10" width="2.3" height="2.8" rx="0.5"/><rect x="342.32" y="115.10" width="2.3" height="2.8" rx="0.5"/><circle cx="432.57" cy="116.40" r="0.85"/><rect x="237.02" y="124.00" width="2.3" height="2.8" rx="0.5"/><rect x="245.12" y="124.00" width="2.3" height="2.8" rx="0.5"/><rect x="277.53" y="124.00" width="2.3" height="2.8" rx="0.5"/><circle cx="448.77" cy="125.30" r="0.85"/><rect x="131.72" y="132.90" width="2.3" height="2.8" rx="0.5"/><rect x="285.62" y="132.90" width="2.3" height="2.8" rx="0.5"/><rect x="366.62" y="132.90" width="2.3" height="2.8" rx="0.5"/><rect x="423.32" y="132.90" width="2.3" height="2.8" rx="0.5"/><circle cx="108.58" cy="152.00" r="0.85"/><rect x="220.82" y="150.70" width="2.3" height="2.8" rx="0.5"/><rect x="293.72" y="150.70" width="2.3" height="2.8" rx="0.5"/><rect x="309.93" y="150.70" width="2.3" height="2.8" rx="0.5"/><circle cx="230.07" cy="160.90" r="0.85"/><circle cx="254.37" cy="160.90" r="0.85"/><rect x="277.53" y="159.60" width="2.3" height="2.8" rx="0.5"/><rect x="366.62" y="159.60" width="2.3" height="2.8" rx="0.5"/><circle cx="132.87" cy="169.80" r="0.85"/><circle cx="262.47" cy="169.80" r="0.85"/><rect x="390.93" y="168.50" width="2.3" height="2.8" rx="0.5"/><circle cx="149.07" cy="178.70" r="0.85"/><circle cx="246.27" cy="178.70" r="0.85"/><circle cx="262.47" cy="178.70" r="0.85"/><rect x="285.62" y="177.40" width="2.3" height="2.8" rx="0.5"/><circle cx="165.27" cy="187.60" r="0.85"/><rect x="326.12" y="186.30" width="2.3" height="2.8" rx="0.5"/><rect x="358.53" y="186.30" width="2.3" height="2.8" rx="0.5"/><circle cx="181.47" cy="196.50" r="0.85"/><rect x="228.92" y="195.20" width="2.3" height="2.8" rx="0.5"/><rect x="107.42" y="204.10" width="2.3" height="2.8" rx="0.5"/><rect x="156.02" y="204.10" width="2.3" height="2.8" rx="0.5"/><circle cx="165.27" cy="205.40" r="0.85"/><circle cx="173.37" cy="214.30" r="0.85"/><rect x="196.52" y="213.00" width="2.3" height="2.8" rx="0.5"/><circle cx="254.37" cy="214.30" r="0.85"/><circle cx="286.77" cy="223.20" r="0.85"/><rect x="318.03" y="221.90" width="2.3" height="2.8" rx="0.5"/><rect x="123.62" y="230.80" width="2.3" height="2.8" rx="0.5"/><circle cx="140.97" cy="232.10" r="0.85"/><circle cx="189.57" cy="232.10" r="0.85"/><circle cx="205.77" cy="232.10" r="0.85"/><circle cx="302.97" cy="232.10" r="0.85"/><circle cx="76.17" cy="241.00" r="0.85"/><rect x="156.02" y="239.70" width="2.3" height="2.8" rx="0.5"/><rect x="188.42" y="239.70" width="2.3" height="2.8" rx="0.5"/><circle cx="197.67" cy="241.00" r="0.85"/><circle cx="205.77" cy="241.00" r="0.85"/><rect x="212.72" y="239.70" width="2.3" height="2.8" rx="0.5"/><circle cx="108.58" cy="249.90" r="0.85"/><circle cx="116.67" cy="249.90" r="0.85"/><circle cx="124.77" cy="249.90" r="0.85"/><circle cx="140.97" cy="249.90" r="0.85"/><circle cx="181.47" cy="249.90" r="0.85"/><rect x="212.72" y="248.60" width="2.3" height="2.8" rx="0.5"/><circle cx="311.07" cy="249.90" r="0.85"/><circle cx="335.37" cy="249.90" r="0.85"/><rect x="107.42" y="257.50" width="2.3" height="2.8" rx="0.5"/><rect x="75.02" y="275.30" width="2.3" height="2.8" rx="0.5"/><rect x="83.12" y="275.30" width="2.3" height="2.8" rx="0.5"/><rect x="99.32" y="275.30" width="2.3" height="2.8" rx="0.5"/><rect x="107.42" y="284.20" width="2.3" height="2.8" rx="0.5"/><circle cx="221.97" cy="285.50" r="0.85"/><rect x="293.72" y="284.20" width="2.3" height="2.8" rx="0.5"/><rect x="107.42" y="293.10" width="2.3" height="2.8" rx="0.5"/><rect x="188.42" y="293.10" width="2.3" height="2.8" rx="0.5"/><rect x="204.62" y="293.10" width="2.3" height="2.8" rx="0.5"/><rect x="75.02" y="302.00" width="2.3" height="2.8" rx="0.5"/><rect x="107.42" y="302.00" width="2.3" height="2.8" rx="0.5"/><circle cx="221.97" cy="303.30" r="0.85"/><rect x="261.32" y="302.00" width="2.3" height="2.8" rx="0.5"/><rect x="147.92" y="310.90" width="2.3" height="2.8" rx="0.5"/><circle cx="157.17" cy="312.20" r="0.85"/><rect x="261.32" y="310.90" width="2.3" height="2.8" rx="0.5"/><rect x="156.02" y="319.80" width="2.3" height="2.8" rx="0.5"/><rect x="172.22" y="319.80" width="2.3" height="2.8" rx="0.5"/><circle cx="189.57" cy="321.10" r="0.85"/><circle cx="230.07" cy="321.10" r="0.85"/><rect x="237.02" y="319.80" width="2.3" height="2.8" rx="0.5"/><rect x="245.12" y="319.80" width="2.3" height="2.8" rx="0.5"/><circle cx="254.37" cy="321.10" r="0.85"/><rect x="99.32" y="328.70" width="2.3" height="2.8" rx="0.5"/><circle cx="149.07" cy="330.00" r="0.85"/><rect x="172.22" y="328.70" width="2.3" height="2.8" rx="0.5"/><rect x="204.62" y="328.70" width="2.3" height="2.8" rx="0.5"/><rect x="212.72" y="328.70" width="2.3" height="2.8" rx="0.5"/><circle cx="221.97" cy="330.00" r="0.85"/><rect x="147.92" y="337.60" width="2.3" height="2.8" rx="0.5"/><rect x="131.72" y="346.50" width="2.3" height="2.8" rx="0.5"/><rect x="139.82" y="346.50" width="2.3" height="2.8" rx="0.5"/><rect x="147.92" y="346.50" width="2.3" height="2.8" rx="0.5"/><circle cx="197.67" cy="347.80" r="0.85"/><circle cx="230.07" cy="347.80" r="0.85"/><rect x="196.52" y="355.40" width="2.3" height="2.8" rx="0.5"/><circle cx="149.07" cy="365.60" r="0.85"/><circle cx="140.97" cy="374.50" r="0.85"/><rect x="180.32" y="373.20" width="2.3" height="2.8" rx="0.5"/><rect x="107.42" y="382.10" width="2.3" height="2.8" rx="0.5"/><circle cx="124.77" cy="383.40" r="0.85"/><rect x="156.02" y="382.10" width="2.3" height="2.8" rx="0.5"/><rect x="212.72" y="382.10" width="2.3" height="2.8" rx="0.5"/><rect x="75.02" y="391.00" width="2.3" height="2.8" rx="0.5"/><rect x="107.42" y="391.00" width="2.3" height="2.8" rx="0.5"/><rect x="115.52" y="391.00" width="2.3" height="2.8" rx="0.5"/><rect x="123.62" y="391.00" width="2.3" height="2.8" rx="0.5"/><circle cx="132.87" cy="392.30" r="0.85"/><circle cx="157.17" cy="392.30" r="0.85"/><rect x="172.22" y="391.00" width="2.3" height="2.8" rx="0.5"/><circle cx="189.57" cy="392.30" r="0.85"/><circle cx="197.67" cy="392.30" r="0.85"/><rect x="204.62" y="391.00" width="2.3" height="2.8" rx="0.5"/><rect x="75.02" y="399.90" width="2.3" height="2.8" rx="0.5"/><circle cx="92.38" cy="401.20" r="0.85"/><rect x="115.52" y="399.90" width="2.3" height="2.8" rx="0.5"/><rect x="139.82" y="399.90" width="2.3" height="2.8" rx="0.5"/><rect x="172.22" y="399.90" width="2.3" height="2.8" rx="0.5"/><circle cx="189.57" cy="401.20" r="0.85"/><rect x="115.52" y="417.70" width="2.3" height="2.8" rx="0.5"/><rect x="123.62" y="417.70" width="2.3" height="2.8" rx="0.5"/><rect x="75.02" y="426.60" width="2.3" height="2.8" rx="0.5"/><rect x="91.22" y="426.60" width="2.3" height="2.8" rx="0.5"/><circle cx="108.58" cy="427.90" r="0.85"/><circle cx="124.77" cy="427.90" r="0.85"/><rect x="75.02" y="435.50" width="2.3" height="2.8" rx="0.5"/><circle cx="108.58" cy="436.80" r="0.85"/><rect x="115.52" y="435.50" width="2.3" height="2.8" rx="0.5"/><circle cx="92.38" cy="454.60" r="0.85"/><rect x="107.42" y="453.30" width="2.3" height="2.8" rx="0.5"/><circle cx="116.67" cy="454.60" r="0.85"/><rect x="123.62" y="453.30" width="2.3" height="2.8" rx="0.5"/><rect x="91.22" y="480.00" width="2.3" height="2.8" rx="0.5"/><rect x="107.42" y="488.90" width="2.3" height="2.8" rx="0.5"/><rect x="115.52" y="488.90" width="2.3" height="2.8" rx="0.5"/><rect x="75.02" y="497.80" width="2.3" height="2.8" rx="0.5"/><circle cx="108.58" cy="499.10" r="0.85"/><circle cx="76.17" cy="508.00" r="0.85"/><rect x="75.02" y="515.60" width="2.3" height="2.8" rx="0.5"/><circle cx="84.27" cy="516.90" r="0.85"/><circle cx="76.17" cy="525.80" r="0.85"/></g>
<g font-size="7.8" font-family="Liberation Sans, sans-serif" fill="#1a1a1a" stroke="#1a1a1a" stroke-width="0.22"><text transform="translate(67.3 74.40) scale(0.82 1)" text-anchor="end">TP53TG3C</text><text transform="translate(67.3 83.30) scale(0.82 1)" text-anchor="end">REL</text><text transform="translate(67.3 92.20) scale(0.82 1)" text-anchor="end">SPINK1</text><text transform="translate(67.3 101.10) scale(0.82 1)" text-anchor="end">LHFPL3</text><text transform="translate(67.3 110.00) scale(0.82 1)" text-anchor="end">KLF9</text><text transform="translate(67.3 118.90) scale(0.82 1)" text-anchor="end">ALX1</text><text transform="translate(67.3 127.80) scale(0.82 1)" text-anchor="end">TSPAN19</text><text transform="translate(67.3 136.70) scale(0.82 1)" text-anchor="end">SERPINB3</text><text transform="translate(67.3 145.60) scale(0.82 1)" text-anchor="end">HNRNPCL1</text><text transform="translate(67.3 154.50) scale(0.82 1)" text-anchor="end">GDF11</text><text transform="translate(67.3 163.40) scale(0.82 1)" text-anchor="end" font-style="italic">MS4A1</text><text transform="translate(67.3 172.30) scale(0.82 1)" text-anchor="end">IRX2</text><text transform="translate(67.3 181.20) scale(0.82 1)" text-anchor="end">IFNL3</text><text transform="translate(67.3 190.10) scale(0.82 1)" text-anchor="end" font-style="italic">MAGEC2</text><text transform="translate(67.3 199.00) scale(0.82 1)" text-anchor="end">IL1RAPL2</text><text transform="translate(67.3 207.90) scale(0.82 1)" text-anchor="end">HIST1H4J</text><text transform="translate(67.3 216.80) scale(0.82 1)" text-anchor="end">FPGT</text><text transform="translate(67.3 225.70) scale(0.82 1)" text-anchor="end">SRSF1</text><text transform="translate(67.3 234.60) scale(0.82 1)" text-anchor="end">SGPP1</text><text transform="translate(67.3 243.50) scale(0.82 1)" text-anchor="end">HIST1H4E</text><text transform="translate(67.3 252.40) scale(0.82 1)" text-anchor="end">GCSAM</text><text transform="translate(67.3 261.30) scale(0.82 1)" text-anchor="end">TRAF3</text><text transform="translate(67.3 270.20) scale(0.82 1)" text-anchor="end">EZH2</text><text transform="translate(67.3 279.10) scale(0.82 1)" text-anchor="end">CXCR5</text><text transform="translate(67.3 288.00) scale(0.82 1)" text-anchor="end">VMP1</text><text transform="translate(67.3 296.90) scale(0.82 1)" text-anchor="end">JUNB</text><text transform="translate(67.3 305.80) scale(0.82 1)" text-anchor="end">IL13RA1</text><text transform="translate(67.3 314.70) scale(0.82 1)" text-anchor="end">EPHA7</text><text transform="translate(67.3 323.60) scale(0.82 1)" text-anchor="end">HIST1H2BC</text><text transform="translate(67.3 332.50) scale(0.82 1)" text-anchor="end">CISH</text><text transform="translate(67.3 341.40) scale(0.82 1)" text-anchor="end">JAK1</text><text transform="translate(67.3 350.30) scale(0.82 1)" text-anchor="end">IRF4</text><text transform="translate(67.3 359.20) scale(0.82 1)" text-anchor="end">RGS1</text><text transform="translate(67.3 368.10) scale(0.82 1)" text-anchor="end">IRF8</text><text transform="translate(67.3 377.00) scale(0.82 1)" text-anchor="end">DDX3X</text><text transform="translate(67.3 385.90) scale(0.82 1)" text-anchor="end" font-style="italic">MYC</text><text transform="translate(67.3 394.80) scale(0.82 1)" text-anchor="end">HIST1H1B</text><text transform="translate(67.3 403.70) scale(0.82 1)" text-anchor="end">ZFP36L1</text><text transform="translate(67.3 412.60) scale(0.82 1)" text-anchor="end">PTPN1</text><text transform="translate(67.3 421.50) scale(0.82 1)" text-anchor="end">HIST1H3D</text><text transform="translate(67.3 430.40) scale(0.82 1)" text-anchor="end">CD58</text><text transform="translate(67.3 439.30) scale(0.82 1)" text-anchor="end">IRF2BP2</text><text transform="translate(67.3 448.20) scale(0.82 1)" text-anchor="end">CIITA</text><text transform="translate(67.3 457.10) scale(0.82 1)" text-anchor="end">HIST1H1C</text><text transform="translate(67.3 466.00) scale(0.82 1)" text-anchor="end">NFKBIE</text><text transform="translate(67.3 474.90) scale(0.82 1)" text-anchor="end">ZNF217</text><text transform="translate(67.3 483.80) scale(0.82 1)" text-anchor="end">IL4R</text><text transform="translate(67.3 492.70) scale(0.82 1)" text-anchor="end">TNFAIP3</text><text transform="translate(67.3 501.60) scale(0.82 1)" text-anchor="end">ACTB</text><text transform="translate(67.3 510.50) scale(0.82 1)" text-anchor="end">ITPKB</text><text transform="translate(67.3 519.40) scale(0.82 1)" text-anchor="end">STAT6</text><text transform="translate(67.3 528.30) scale(0.82 1)" text-anchor="end">GNA13</text><text transform="translate(67.3 537.20) scale(0.82 1)" text-anchor="end">CD274</text><text transform="translate(67.3 546.10) scale(0.82 1)" text-anchor="end">SOCS1</text><text transform="translate(78.27 62.9) rotate(-90) scale(0.82 1)">SOCS1</text><text transform="translate(86.37 62.9) rotate(-90) scale(0.82 1)">CD274</text><text transform="translate(94.47 62.9) rotate(-90) scale(0.82 1)">GNA13</text><text transform="translate(102.57 62.9) rotate(-90) scale(0.82 1)">STAT6</text><text transform="translate(110.67 62.9) rotate(-90) scale(0.82 1)">ITPKB</text><text transform="translate(118.77 62.9) rotate(-90) scale(0.82 1)">ACTB</text><text transform="translate(126.87 62.9) rotate(-90) scale(0.82 1)">TNFAIP3</text><text transform="translate(134.97 62.9) rotate(-90) scale(0.82 1)">IL4R</text><text transform="translate(143.07 62.9) rotate(-90) scale(0.82 1)">ZNF217</text><text transform="translate(151.17 62.9) rotate(-90) scale(0.82 1)">NFKBIE</text><text transform="translate(159.27 62.9) rotate(-90) scale(0.82 1)">HIST1H1C</text><text transform="translate(167.37 62.9) rotate(-90) scale(0.82 1)">CIITA</text><text transform="translate(175.47 62.9) rotate(-90) scale(0.82 1)">IRF2BP2</text><text transform="translate(183.57 62.9) rotate(-90) scale(0.82 1)">CD58</text><text transform="translate(191.67 62.9) rotate(-90) scale(0.82 1)">HIST1H3D</text><text transform="translate(199.77 62.9) rotate(-90) scale(0.82 1)">PTPN1</text><text transform="translate(207.87 62.9) rotate(-90) scale(0.82 1)">ZFP36L1</text><text transform="translate(215.97 62.9) rotate(-90) scale(0.82 1)">HIST1H1B</text><text transform="translate(224.07 62.9) rotate(-90) scale(0.82 1)" font-style="italic">MYC</text><text transform="translate(232.17 62.9) rotate(-90) scale(0.82 1)">DDX3X</text><text transform="translate(240.27 62.9) rotate(-90) scale(0.82 1)">IRF8</text><text transform="translate(248.37 62.9) rotate(-90) scale(0.82 1)">RGS1</text><text transform="translate(256.47 62.9) rotate(-90) scale(0.82 1)">IRF4</text><text transform="translate(264.57 62.9) rotate(-90) scale(0.82 1)">JAK1</text><text transform="translate(272.68 62.9) rotate(-90) scale(0.82 1)">CISH</text><text transform="translate(280.78 62.9) rotate(-90) scale(0.82 1)">HIST1H2BC</text><text transform="translate(288.88 62.9) rotate(-90) scale(0.82 1)">EPHA7</text><text transform="translate(296.97 62.9) rotate(-90) scale(0.82 1)">IL13RA1</text><text transform="translate(305.07 62.9) rotate(-90) scale(0.82 1)">JUNB</text><text transform="translate(313.18 62.9) rotate(-90) scale(0.82 1)">VMP1</text><text transform="translate(321.28 62.9) rotate(-90) scale(0.82 1)">CXCR5</text><text transform="translate(329.38 62.9) rotate(-90) scale(0.82 1)">EZH2</text><text transform="translate(337.47 62.9) rotate(-90) scale(0.82 1)">TRAF3</text><text transform="translate(345.57 62.9) rotate(-90) scale(0.82 1)">GCSAM</text><text transform="translate(353.68 62.9) rotate(-90) scale(0.82 1)">HIST1H4E</text><text transform="translate(361.78 62.9) rotate(-90) scale(0.82 1)">SGPP1</text><text transform="translate(369.87 62.9) rotate(-90) scale(0.82 1)">SRSF1</text><text transform="translate(377.97 62.9) rotate(-90) scale(0.82 1)">FPGT</text><text transform="translate(386.07 62.9) rotate(-90) scale(0.82 1)">HIST1H4J</text><text transform="translate(394.18 62.9) rotate(-90) scale(0.82 1)">IL1RAPL2</text><text transform="translate(402.28 62.9) rotate(-90) scale(0.82 1)" font-style="italic">MAGEC2</text><text transform="translate(410.37 62.9) rotate(-90) scale(0.82 1)">IFNL3</text><text transform="translate(418.47 62.9) rotate(-90) scale(0.82 1)">IRX2</text><text transform="translate(426.57 62.9) rotate(-90) scale(0.82 1)" font-style="italic">MS4A1</text><text transform="translate(434.68 62.9) rotate(-90) scale(0.82 1)">GDF11</text><text transform="translate(442.78 62.9) rotate(-90) scale(0.82 1)">HNRNPCL1</text><text transform="translate(450.87 62.9) rotate(-90) scale(0.82 1)">SERPINB3</text><text transform="translate(458.97 62.9) rotate(-90) scale(0.82 1)">TSPAN19</text><text transform="translate(467.07 62.9) rotate(-90) scale(0.82 1)">ALX1</text><text transform="translate(475.18 62.9) rotate(-90) scale(0.82 1)">KLF9</text><text transform="translate(483.28 62.9) rotate(-90) scale(0.82 1)">LHFPL3</text><text transform="translate(491.37 62.9) rotate(-90) scale(0.82 1)">SPINK1</text><text transform="translate(499.47 62.9) rotate(-90) scale(0.82 1)">REL</text><text transform="translate(507.57 62.9) rotate(-90) scale(0.82 1)">TP53TG3C</text></g>
<rect x="454.8" y="271.70" width="5.4" height="27.60" fill="#6f8f45"/>
<rect x="454.8" y="299.00" width="5.4" height="27.60" fill="#8fb05c"/>
<rect x="454.8" y="326.30" width="5.4" height="27.60" fill="#bfcb93"/>
<rect x="454.8" y="353.60" width="5.4" height="27.60" fill="#e6e3cc"/>
<rect x="454.8" y="380.90" width="5.4" height="27.60" fill="#f0dfe8"/>
<rect x="454.8" y="408.20" width="5.4" height="27.60" fill="#e0b6c9"/>
<rect x="454.8" y="435.50" width="5.4" height="27.60" fill="#cc8aab"/>
<rect x="454.8" y="462.80" width="5.4" height="27.60" fill="#b04b7d"/>
<rect x="464.7" y="280.7" width="1.3" height="199.2" fill="#111"/>
<rect x="464.7" y="284.10" width="5" height="1.2" fill="#111"/>
<text x="474.2" y="287.00" font-size="6.8" font-family="Liberation Sans, sans-serif" fill="#333">3</text>
<rect x="464.7" y="316.00" width="5" height="1.2" fill="#111"/>
<text x="474.2" y="318.90" font-size="6.8" font-family="Liberation Sans, sans-serif" fill="#333">2</text>
<rect x="464.7" y="347.90" width="5" height="1.2" fill="#111"/>
<text x="474.2" y="350.80" font-size="6.8" font-family="Liberation Sans, sans-serif" fill="#333">1</text>
<rect x="464.7" y="379.80" width="5" height="1.2" fill="#111"/>
<text x="474.2" y="382.70" font-size="6.8" font-family="Liberation Sans, sans-serif" fill="#333">0</text>
<rect x="464.7" y="411.70" width="5" height="1.2" fill="#111"/>
<text x="474.2" y="414.60" font-size="6.8" font-family="Liberation Sans, sans-serif" fill="#333">1</text>
<rect x="464.7" y="443.60" width="5" height="1.2" fill="#111"/>
<text x="474.2" y="446.50" font-size="6.8" font-family="Liberation Sans, sans-serif" fill="#333">2</text>
<rect x="464.7" y="475.50" width="5" height="1.2" fill="#111"/>
<text x="474.2" y="478.40" font-size="6.8" font-family="Liberation Sans, sans-serif" fill="#333">3</text>
<text x="452.2" y="264.6" font-size="10" font-family="Liberation Sans, sans-serif" fill="#1a1a1a" stroke="#1a1a1a" stroke-width="0.15" textLength="67" lengthAdjust="spacingAndGlyphs">Co−occurrence</text>
<text x="452.6" y="503.4" font-size="10" font-family="Liberation Sans, sans-serif" fill="#1a1a1a" stroke="#1a1a1a" stroke-width="0.15" textLength="39.4" lengthAdjust="spacingAndGlyphs">Exclusive</text>
<text transform="translate(491.6 380.9) rotate(-90)" text-anchor="middle" font-size="10.3" font-family="Liberation Sans, sans-serif" fill="#1a1a1a" stroke="#1a1a1a" stroke-width="0.15" textLength="68.4" lengthAdjust="spacingAndGlyphs">log10 (p−value)</text>
<circle cx="368.8" cy="385.7" r="1.0" fill="#222"/>
<text x="371.8" y="390" font-size="7" font-family="Liberation Sans, sans-serif" fill="#222" textLength="25.3" lengthAdjust="spacingAndGlyphs">p &lt; 0.05</text>
<circle cx="368.8" cy="403.5" r="0.9" fill="#222"/>
<text x="371.8" y="408" font-size="7" font-family="Liberation Sans, sans-serif" fill="#222" textLength="21.3" lengthAdjust="spacingAndGlyphs">p &lt; 0.1</text>
<rect x="61.10" y="605.83" width="3.1" height="4.77" fill="#649f4a"/><rect x="61.10" y="604.60" width="3.1" height="1.23" fill="#c33d3d"/><rect x="64.95" y="609.68" width="3.1" height="0.92" fill="#5a89c6"/><rect x="64.95" y="605.37" width="3.1" height="4.31" fill="#649f4a"/><rect x="68.79" y="607.68" width="3.1" height="2.92" fill="#5a89c6"/><rect x="68.79" y="600.75" width="3.1" height="6.92" fill="#649f4a"/><rect x="68.79" y="598.91" width="3.1" height="1.85" fill="#dc7f2f"/><rect x="72.64" y="607.98" width="3.1" height="2.62" fill="#649f4a"/><rect x="76.48" y="596.14" width="3.1" height="14.46" fill="#649f4a"/><rect x="76.48" y="594.14" width="3.1" height="2.00" fill="#c33d3d"/><rect x="80.33" y="599.52" width="3.1" height="11.08" fill="#649f4a"/><rect x="80.33" y="597.06" width="3.1" height="2.46" fill="#dc7f2f"/><rect x="84.18" y="605.06" width="3.1" height="5.54" fill="#649f4a"/><rect x="84.18" y="602.91" width="3.1" height="2.15" fill="#c33d3d"/><rect x="88.02" y="608.14" width="3.1" height="2.46" fill="#649f4a"/><rect x="88.02" y="606.91" width="3.1" height="1.23" fill="#c33d3d"/><rect x="91.87" y="608.75" width="3.1" height="1.85" fill="#5a89c6"/><rect x="91.87" y="597.98" width="3.1" height="10.77" fill="#649f4a"/><rect x="91.87" y="596.45" width="3.1" height="1.54" fill="#dc7f2f"/><rect x="95.71" y="609.06" width="3.1" height="1.54" fill="#5a89c6"/><rect x="95.71" y="600.75" width="3.1" height="8.31" fill="#649f4a"/><rect x="95.71" y="598.29" width="3.1" height="2.46" fill="#dc7f2f"/><rect x="99.56" y="607.37" width="3.1" height="3.23" fill="#5a89c6"/><rect x="99.56" y="595.37" width="3.1" height="12.00" fill="#649f4a"/><rect x="99.56" y="592.29" width="3.1" height="3.08" fill="#dc7f2f"/><rect x="103.41" y="604.14" width="3.1" height="6.46" fill="#5a89c6"/><rect x="103.41" y="591.98" width="3.1" height="12.15" fill="#649f4a"/><rect x="103.41" y="589.98" width="3.1" height="2.00" fill="#c33d3d"/><rect x="107.25" y="609.68" width="3.1" height="0.92" fill="#5a89c6"/><rect x="107.25" y="605.68" width="3.1" height="4.00" fill="#649f4a"/><rect x="107.25" y="603.83" width="3.1" height="1.85" fill="#dc7f2f"/><rect x="111.10" y="599.22" width="3.1" height="11.38" fill="#649f4a"/><rect x="111.10" y="597.22" width="3.1" height="2.00" fill="#c33d3d"/><rect x="114.94" y="608.75" width="3.1" height="1.85" fill="#649f4a"/><rect x="114.94" y="607.06" width="3.1" height="1.69" fill="#c33d3d"/><rect x="118.79" y="602.60" width="3.1" height="8.00" fill="#649f4a"/><rect x="118.79" y="600.45" width="3.1" height="2.15" fill="#dc7f2f"/><rect x="122.64" y="599.98" width="3.1" height="10.62" fill="#649f4a"/><rect x="122.64" y="598.14" width="3.1" height="1.85" fill="#dc7f2f"/><rect x="126.48" y="602.60" width="3.1" height="8.00" fill="#649f4a"/><rect x="126.48" y="601.52" width="3.1" height="1.08" fill="#c33d3d"/><rect x="130.33" y="598.91" width="3.1" height="11.69" fill="#649f4a"/><rect x="134.17" y="597.68" width="3.1" height="12.92" fill="#649f4a"/><rect x="134.17" y="595.83" width="3.1" height="1.85" fill="#c33d3d"/><rect x="134.17" y="593.52" width="3.1" height="2.31" fill="#dc7f2f"/><rect x="138.02" y="603.83" width="3.1" height="6.77" fill="#649f4a"/><rect x="138.02" y="602.75" width="3.1" height="1.08" fill="#c33d3d"/><rect x="138.02" y="601.22" width="3.1" height="1.54" fill="#dc7f2f"/><rect x="141.87" y="608.14" width="3.1" height="2.46" fill="#649f4a"/><rect x="141.87" y="606.91" width="3.1" height="1.23" fill="#dc7f2f"/><rect x="145.71" y="589.98" width="3.1" height="20.62" fill="#649f4a"/><rect x="145.71" y="588.75" width="3.1" height="1.23" fill="#c33d3d"/><rect x="145.71" y="587.68" width="3.1" height="1.08" fill="#dc7f2f"/><rect x="149.56" y="606.91" width="3.1" height="3.69" fill="#649f4a"/><rect x="149.56" y="605.68" width="3.1" height="1.23" fill="#dc7f2f"/><rect x="153.40" y="602.75" width="3.1" height="7.85" fill="#649f4a"/><rect x="153.40" y="601.52" width="3.1" height="1.23" fill="#c33d3d"/><rect x="157.25" y="609.98" width="3.1" height="0.62" fill="#5a89c6"/><rect x="157.25" y="605.83" width="3.1" height="4.15" fill="#649f4a"/><rect x="157.25" y="604.60" width="3.1" height="1.23" fill="#c33d3d"/><rect x="161.10" y="605.83" width="3.1" height="4.77" fill="#649f4a"/><rect x="161.10" y="604.60" width="3.1" height="1.23" fill="#dc7f2f"/><rect x="164.94" y="606.60" width="3.1" height="4.00" fill="#649f4a"/><rect x="164.94" y="605.06" width="3.1" height="1.54" fill="#c33d3d"/><rect x="168.79" y="602.75" width="3.1" height="7.85" fill="#649f4a"/><rect x="168.79" y="601.98" width="3.1" height="0.77" fill="#dc7f2f"/><rect x="172.63" y="604.60" width="3.1" height="6.00" fill="#649f4a"/><rect x="172.63" y="603.68" width="3.1" height="0.92" fill="#c33d3d"/><rect x="172.63" y="602.75" width="3.1" height="0.92" fill="#dc7f2f"/><rect x="176.48" y="605.68" width="3.1" height="4.92" fill="#649f4a"/><rect x="176.48" y="604.14" width="3.1" height="1.54" fill="#dc7f2f"/><rect x="180.33" y="581.52" width="3.1" height="29.08" fill="#649f4a"/><rect x="180.33" y="579.98" width="3.1" height="1.54" fill="#c33d3d"/><rect x="180.33" y="574.91" width="3.1" height="5.08" fill="#dc7f2f"/><rect x="184.17" y="609.68" width="3.1" height="0.92" fill="#5a89c6"/><rect x="184.17" y="605.68" width="3.1" height="4.00" fill="#649f4a"/><rect x="184.17" y="604.14" width="3.1" height="1.54" fill="#c33d3d"/><rect x="188.02" y="587.98" width="3.1" height="22.62" fill="#649f4a"/><rect x="188.02" y="585.83" width="3.1" height="2.15" fill="#dc7f2f"/><rect x="191.86" y="606.29" width="3.1" height="4.31" fill="#649f4a"/><rect x="191.86" y="605.37" width="3.1" height="0.92" fill="#dc7f2f"/><rect x="195.71" y="606.60" width="3.1" height="4.00" fill="#649f4a"/><rect x="199.56" y="601.83" width="3.1" height="8.77" fill="#649f4a"/><rect x="199.56" y="600.75" width="3.1" height="1.08" fill="#dc7f2f"/><rect x="203.40" y="587.98" width="3.1" height="22.62" fill="#649f4a"/><rect x="203.40" y="584.91" width="3.1" height="3.08" fill="#c33d3d"/><rect x="207.25" y="602.29" width="3.1" height="8.31" fill="#649f4a"/><rect x="207.25" y="601.22" width="3.1" height="1.08" fill="#dc7f2f"/><rect x="211.09" y="594.60" width="3.1" height="16.00" fill="#649f4a"/><rect x="211.09" y="593.06" width="3.1" height="1.54" fill="#c33d3d"/><rect x="211.09" y="591.52" width="3.1" height="1.54" fill="#dc7f2f"/><rect x="214.94" y="603.52" width="3.1" height="7.08" fill="#649f4a"/><rect x="214.94" y="601.52" width="3.1" height="2.00" fill="#c33d3d"/><rect x="218.79" y="609.98" width="3.1" height="0.62" fill="#5a89c6"/><rect x="218.79" y="605.98" width="3.1" height="4.00" fill="#649f4a"/><rect x="218.79" y="604.75" width="3.1" height="1.23" fill="#c33d3d"/><rect x="222.63" y="609.68" width="3.1" height="0.92" fill="#5a89c6"/><rect x="222.63" y="601.98" width="3.1" height="7.69" fill="#649f4a"/><rect x="222.63" y="601.52" width="3.1" height="0.46" fill="#dc7f2f"/><rect x="226.48" y="608.45" width="3.1" height="2.15" fill="#5a89c6"/><rect x="226.48" y="598.91" width="3.1" height="9.54" fill="#649f4a"/><rect x="230.32" y="609.68" width="3.1" height="0.92" fill="#5a89c6"/><rect x="230.32" y="605.68" width="3.1" height="4.00" fill="#649f4a"/><rect x="230.32" y="604.45" width="3.1" height="1.23" fill="#dc7f2f"/><rect x="234.17" y="600.75" width="3.1" height="9.85" fill="#649f4a"/><rect x="234.17" y="599.52" width="3.1" height="1.23" fill="#c33d3d"/><rect x="234.17" y="597.37" width="3.1" height="2.15" fill="#dc7f2f"/><rect x="238.02" y="603.52" width="3.1" height="7.08" fill="#649f4a"/><rect x="238.02" y="601.98" width="3.1" height="1.54" fill="#c33d3d"/><rect x="241.86" y="608.75" width="3.1" height="1.85" fill="#649f4a"/><rect x="241.86" y="607.68" width="3.1" height="1.08" fill="#c33d3d"/><rect x="245.71" y="601.52" width="3.1" height="9.08" fill="#649f4a"/><rect x="245.71" y="600.29" width="3.1" height="1.23" fill="#c33d3d"/><rect x="249.55" y="601.52" width="3.1" height="9.08" fill="#649f4a"/><rect x="249.55" y="600.29" width="3.1" height="1.23" fill="#c33d3d"/><rect x="253.40" y="597.68" width="3.1" height="12.92" fill="#649f4a"/><rect x="253.40" y="596.14" width="3.1" height="1.54" fill="#c33d3d"/><rect x="253.40" y="593.37" width="3.1" height="2.77" fill="#dc7f2f"/><rect x="257.25" y="606.14" width="3.1" height="4.46" fill="#649f4a"/><rect x="261.09" y="601.22" width="3.1" height="9.38" fill="#649f4a"/><rect x="261.09" y="600.29" width="3.1" height="0.92" fill="#dc7f2f"/><rect x="264.94" y="605.06" width="3.1" height="5.54" fill="#649f4a"/><rect x="264.94" y="604.14" width="3.1" height="0.92" fill="#dc7f2f"/><rect x="268.78" y="598.60" width="3.1" height="12.00" fill="#649f4a"/><rect x="268.78" y="596.75" width="3.1" height="1.85" fill="#c33d3d"/><rect x="268.78" y="594.91" width="3.1" height="1.85" fill="#dc7f2f"/><rect x="272.63" y="599.98" width="3.1" height="10.62" fill="#649f4a"/><rect x="272.63" y="596.45" width="3.1" height="3.54" fill="#c33d3d"/><rect x="276.48" y="604.75" width="3.1" height="5.85" fill="#649f4a"/><rect x="276.48" y="602.91" width="3.1" height="1.85" fill="#c33d3d"/><rect x="280.32" y="605.68" width="3.1" height="4.92" fill="#649f4a"/><rect x="280.32" y="603.83" width="3.1" height="1.85" fill="#c33d3d"/><rect x="284.17" y="606.60" width="3.1" height="4.00" fill="#649f4a"/><rect x="284.17" y="605.37" width="3.1" height="1.23" fill="#dc7f2f"/><rect x="288.01" y="605.83" width="3.1" height="4.77" fill="#649f4a"/><rect x="288.01" y="604.29" width="3.1" height="1.54" fill="#c33d3d"/><rect x="291.86" y="609.68" width="3.1" height="0.92" fill="#5a89c6"/><rect x="291.86" y="602.29" width="3.1" height="7.38" fill="#649f4a"/><rect x="291.86" y="600.29" width="3.1" height="2.00" fill="#c33d3d"/><rect x="295.71" y="608.14" width="3.1" height="2.46" fill="#5a89c6"/><rect x="295.71" y="594.14" width="3.1" height="14.00" fill="#649f4a"/><rect x="295.71" y="592.29" width="3.1" height="1.85" fill="#c33d3d"/><rect x="299.55" y="606.14" width="3.1" height="4.46" fill="#649f4a"/><rect x="299.55" y="605.06" width="3.1" height="1.08" fill="#c33d3d"/><rect x="303.40" y="607.98" width="3.1" height="2.62" fill="#649f4a"/><rect x="303.40" y="605.68" width="3.1" height="2.31" fill="#c33d3d"/><rect x="307.24" y="607.83" width="3.1" height="2.77" fill="#649f4a"/><rect x="311.09" y="607.83" width="3.1" height="2.77" fill="#649f4a"/><rect x="311.09" y="606.29" width="3.1" height="1.54" fill="#c33d3d"/><rect x="314.94" y="607.83" width="3.1" height="2.77" fill="#649f4a"/><rect x="314.94" y="606.60" width="3.1" height="1.23" fill="#c33d3d"/><rect x="314.94" y="605.68" width="3.1" height="0.92" fill="#dc7f2f"/><rect x="318.78" y="607.52" width="3.1" height="3.08" fill="#5a89c6"/><rect x="318.78" y="602.91" width="3.1" height="4.62" fill="#649f4a"/><rect x="318.78" y="601.06" width="3.1" height="1.85" fill="#c33d3d"/><rect x="322.63" y="609.22" width="3.1" height="1.38" fill="#649f4a"/><rect x="326.47" y="609.68" width="3.1" height="0.92" fill="#c33d3d"/><rect x="330.32" y="609.68" width="3.1" height="0.92" fill="#5a89c6"/><rect x="330.32" y="603.83" width="3.1" height="5.85" fill="#649f4a"/><rect x="330.32" y="602.75" width="3.1" height="1.08" fill="#dc7f2f"/><rect x="334.17" y="606.45" width="3.1" height="4.15" fill="#649f4a"/><rect x="334.17" y="605.37" width="3.1" height="1.08" fill="#dc7f2f"/><rect x="338.01" y="609.68" width="3.1" height="0.92" fill="#dc7f2f"/><rect x="341.86" y="609.52" width="3.1" height="1.08" fill="#649f4a"/><rect x="341.86" y="608.45" width="3.1" height="1.08" fill="#c33d3d"/><rect x="345.70" y="607.98" width="3.1" height="2.62" fill="#649f4a"/><rect x="345.70" y="606.60" width="3.1" height="1.38" fill="#c33d3d"/><rect x="345.70" y="605.37" width="3.1" height="1.23" fill="#dc7f2f"/><rect x="349.55" y="609.98" width="3.1" height="0.62" fill="#5a89c6"/><rect x="349.55" y="601.98" width="3.1" height="8.00" fill="#649f4a"/><rect x="349.55" y="599.68" width="3.1" height="2.31" fill="#dc7f2f"/><rect x="353.40" y="606.91" width="3.1" height="3.69" fill="#649f4a"/><rect x="353.40" y="605.37" width="3.1" height="1.54" fill="#c33d3d"/><rect x="357.24" y="609.68" width="3.1" height="0.92" fill="#c33d3d"/><rect x="361.09" y="609.37" width="3.1" height="1.23" fill="#649f4a"/><rect x="361.09" y="608.60" width="3.1" height="0.77" fill="#dc7f2f"/><rect x="364.93" y="606.60" width="3.1" height="4.00" fill="#649f4a"/><rect x="364.93" y="605.83" width="3.1" height="0.77" fill="#dc7f2f"/><rect x="368.78" y="609.90" width="3.1" height="0.70" fill="#649f4a"/><rect x="368.78" y="609.20" width="3.1" height="0.70" fill="#dc7f2f"/><rect x="372.63" y="606.20" width="3.1" height="4.40" fill="#649f4a"/><rect x="372.63" y="605.00" width="3.1" height="1.20" fill="#dc7f2f"/><rect x="376.47" y="609.40" width="3.1" height="1.20" fill="#c33d3d"/><rect x="380.32" y="609.80" width="3.1" height="0.80" fill="#649f4a"/><rect x="384.16" y="609.50" width="3.1" height="1.10" fill="#649f4a"/><rect x="384.16" y="608.40" width="3.1" height="1.10" fill="#c33d3d"/><rect x="388.01" y="604.80" width="3.1" height="5.80" fill="#649f4a"/><rect x="388.01" y="603.10" width="3.1" height="1.70" fill="#c33d3d"/><rect x="391.86" y="610.10" width="3.1" height="0.50" fill="#649f4a"/><rect x="391.86" y="609.70" width="3.1" height="0.40" fill="#dc7f2f"/><rect x="395.70" y="610.10" width="3.1" height="0.50" fill="#649f4a"/><rect x="395.70" y="609.70" width="3.1" height="0.40" fill="#dc7f2f"/><rect x="399.55" y="610.10" width="3.1" height="0.50" fill="#649f4a"/><rect x="399.55" y="609.70" width="3.1" height="0.40" fill="#dc7f2f"/><rect x="403.39" y="610.10" width="3.1" height="0.50" fill="#649f4a"/><rect x="403.39" y="609.70" width="3.1" height="0.40" fill="#dc7f2f"/><rect x="407.24" y="610.10" width="3.1" height="0.50" fill="#649f4a"/><rect x="407.24" y="609.70" width="3.1" height="0.40" fill="#dc7f2f"/><rect x="411.09" y="608.00" width="3.1" height="2.60" fill="#649f4a"/><rect x="411.09" y="607.20" width="3.1" height="0.80" fill="#dc7f2f"/><rect x="61.10" y="613.40" width="3.1" height="15.20" fill="#c33d3d"/><rect x="64.95" y="613.40" width="3.1" height="15.20" fill="#649f4a"/><rect x="68.79" y="613.40" width="3.1" height="15.20" fill="#17140f"/><rect x="72.64" y="613.40" width="3.1" height="15.20" fill="#649f4a"/><rect x="76.48" y="613.40" width="3.1" height="15.20" fill="#649f4a"/><rect x="80.33" y="613.40" width="3.1" height="15.20" fill="#649f4a"/><rect x="84.18" y="613.40" width="3.1" height="15.20" fill="#649f4a"/><rect x="88.02" y="613.40" width="3.1" height="15.20" fill="#17140f"/><rect x="91.87" y="613.40" width="3.1" height="15.20" fill="#17140f"/><rect x="95.71" y="613.40" width="3.1" height="15.20" fill="#17140f"/><rect x="99.56" y="613.40" width="3.1" height="15.20" fill="#649f4a"/><rect x="103.41" y="613.40" width="3.1" height="15.20" fill="#17140f"/><rect x="107.25" y="613.40" width="3.1" height="15.20" fill="#17140f"/><rect x="111.10" y="613.40" width="3.1" height="15.20" fill="#649f4a"/><rect x="114.94" y="613.40" width="3.1" height="15.20" fill="#649f4a"/><rect x="118.79" y="613.40" width="3.1" height="15.20" fill="#17140f"/><rect x="122.64" y="613.40" width="3.1" height="15.20" fill="#649f4a"/><rect x="126.48" y="613.40" width="3.1" height="15.20" fill="#649f4a"/><rect x="130.33" y="613.40" width="3.1" height="15.20" fill="#649f4a"/><rect x="134.17" y="613.40" width="3.1" height="15.20" fill="#17140f"/><rect x="138.02" y="613.40" width="3.1" height="15.20" fill="#649f4a"/><rect x="141.87" y="613.40" width="3.1" height="15.20" fill="#dc7f2f"/><rect x="145.71" y="613.40" width="3.1" height="15.20" fill="#17140f"/><rect x="149.56" y="613.40" width="3.1" height="15.20" fill="#649f4a"/><rect x="153.40" y="613.40" width="3.1" height="15.20" fill="#649f4a"/><rect x="157.25" y="613.40" width="3.1" height="15.20" fill="#5a89c6"/><rect x="161.10" y="613.40" width="3.1" height="15.20" fill="#649f4a"/><rect x="164.94" y="613.40" width="3.1" height="15.20" fill="#17140f"/><rect x="168.79" y="613.40" width="3.1" height="15.20" fill="#649f4a"/><rect x="172.63" y="613.40" width="3.1" height="15.20" fill="#649f4a"/><rect x="176.48" y="613.40" width="3.1" height="15.20" fill="#17140f"/><rect x="180.33" y="613.40" width="3.1" height="15.20" fill="#17140f"/><rect x="184.17" y="613.40" width="3.1" height="15.20" fill="#5a89c6"/><rect x="188.02" y="613.40" width="3.1" height="15.20" fill="#649f4a"/><rect x="191.86" y="613.40" width="3.1" height="15.20" fill="#649f4a"/><rect x="195.71" y="613.40" width="3.1" height="15.20" fill="#649f4a"/><rect x="199.56" y="613.40" width="3.1" height="15.20" fill="#649f4a"/><rect x="203.40" y="613.40" width="3.1" height="15.20" fill="#649f4a"/><rect x="207.25" y="613.40" width="3.1" height="15.20" fill="#649f4a"/><rect x="211.09" y="613.40" width="3.1" height="15.20" fill="#649f4a"/><rect x="214.94" y="613.40" width="3.1" height="15.20" fill="#649f4a"/><rect x="218.79" y="613.40" width="3.1" height="15.20" fill="#17140f"/><rect x="222.63" y="613.40" width="3.1" height="15.20" fill="#17140f"/><rect x="226.48" y="613.40" width="3.1" height="15.20" fill="#5a89c6"/><rect x="230.32" y="613.40" width="3.1" height="15.20" fill="#17140f"/><rect x="234.17" y="613.40" width="3.1" height="15.20" fill="#17140f"/><rect x="238.02" y="613.40" width="3.1" height="15.20" fill="#17140f"/><rect x="241.86" y="613.40" width="3.1" height="15.20" fill="#649f4a"/><rect x="245.71" y="613.40" width="3.1" height="15.20" fill="#649f4a"/><rect x="249.55" y="613.40" width="3.1" height="15.20" fill="#649f4a"/><rect x="253.40" y="613.40" width="3.1" height="15.20" fill="#649f4a"/><rect x="257.25" y="613.40" width="3.1" height="15.20" fill="#649f4a"/><rect x="261.09" y="613.40" width="3.1" height="15.20" fill="#649f4a"/><rect x="264.94" y="613.40" width="3.1" height="15.20" fill="#649f4a"/><rect x="268.78" y="613.40" width="3.1" height="15.20" fill="#17140f"/><rect x="272.63" y="613.40" width="3.1" height="15.20" fill="#649f4a"/><rect x="276.48" y="613.40" width="3.1" height="15.20" fill="#c33d3d"/><rect x="280.32" y="613.40" width="3.1" height="15.20" fill="#c33d3d"/><rect x="284.17" y="613.40" width="3.1" height="15.20" fill="#649f4a"/><rect x="288.01" y="613.40" width="3.1" height="15.20" fill="#649f4a"/><rect x="291.86" y="613.40" width="3.1" height="15.20" fill="#d0cccd"/><rect x="295.71" y="613.40" width="3.1" height="15.20" fill="#d0cccd"/><rect x="299.55" y="613.40" width="3.1" height="15.20" fill="#d0cccd"/><rect x="303.40" y="613.40" width="3.1" height="15.20" fill="#d0cccd"/><rect x="307.24" y="613.40" width="3.1" height="15.20" fill="#d0cccd"/><rect x="311.09" y="613.40" width="3.1" height="15.20" fill="#d0cccd"/><rect x="314.94" y="613.40" width="3.1" height="15.20" fill="#d0cccd"/><rect x="318.78" y="613.40" width="3.1" height="15.20" fill="#d0cccd"/><rect x="322.63" y="613.40" width="3.1" height="15.20" fill="#d0cccd"/><rect x="326.47" y="613.40" width="3.1" height="15.20" fill="#d0cccd"/><rect x="330.32" y="613.40" width="3.1" height="15.20" fill="#d0cccd"/><rect x="334.17" y="613.40" width="3.1" height="15.20" fill="#d0cccd"/><rect x="338.01" y="613.40" width="3.1" height="15.20" fill="#d0cccd"/><rect x="341.86" y="613.40" width="3.1" height="15.20" fill="#d0cccd"/><rect x="345.70" y="613.40" width="3.1" height="15.20" fill="#d0cccd"/><rect x="349.55" y="613.40" width="3.1" height="15.20" fill="#d0cccd"/><rect x="353.40" y="613.40" width="3.1" height="15.20" fill="#d0cccd"/><rect x="357.24" y="613.40" width="3.1" height="15.20" fill="#d0cccd"/><rect x="361.09" y="613.40" width="3.1" height="15.20" fill="#d0cccd"/><rect x="364.93" y="613.40" width="3.1" height="15.20" fill="#d0cccd"/><rect x="368.78" y="613.40" width="3.1" height="15.20" fill="#d0cccd"/><rect x="372.63" y="613.40" width="3.1" height="15.20" fill="#d0cccd"/><rect x="376.47" y="613.40" width="3.1" height="15.20" fill="#d0cccd"/><rect x="380.32" y="613.40" width="3.1" height="15.20" fill="#d0cccd"/><rect x="384.16" y="613.40" width="3.1" height="15.20" fill="#d0cccd"/><rect x="388.01" y="613.40" width="3.1" height="15.20" fill="#d0cccd"/><rect x="391.86" y="613.40" width="3.1" height="15.20" fill="#d0cccd"/><rect x="395.70" y="613.40" width="3.1" height="15.20" fill="#d0cccd"/><rect x="399.55" y="613.40" width="3.1" height="15.20" fill="#d0cccd"/><rect x="403.39" y="613.40" width="3.1" height="15.20" fill="#d0cccd"/><rect x="407.24" y="613.40" width="3.1" height="15.20" fill="#d0cccd"/><rect x="411.09" y="613.40" width="3.1" height="15.20" fill="#d0cccd"/><text transform="translate(51.3 623.90) scale(0.82 1)" text-anchor="end" font-size="7.8" font-family="Liberation Sans, sans-serif" fill="#1a1a1a" stroke="#1a1a1a" stroke-width="0.2">SOCS1</text><rect x="61.10" y="630.80" width="3.1" height="15.00" fill="#649f4a"/><rect x="64.95" y="630.80" width="3.1" height="15.00" fill="#d0cccd"/><rect x="68.79" y="630.80" width="3.1" height="15.00" fill="#d0cccd"/><rect x="72.64" y="630.80" width="3.1" height="15.00" fill="#d0cccd"/><rect x="76.48" y="630.80" width="3.1" height="15.00" fill="#d0cccd"/><rect x="80.33" y="630.80" width="3.1" height="15.00" fill="#d0cccd"/><rect x="84.18" y="630.80" width="3.1" height="15.00" fill="#d0cccd"/><rect x="88.02" y="630.80" width="3.1" height="15.00" fill="#d0cccd"/><rect x="91.87" y="630.80" width="3.1" height="15.00" fill="#d0cccd"/><rect x="95.71" y="630.80" width="3.1" height="15.00" fill="#d0cccd"/><rect x="99.56" y="630.80" width="3.1" height="15.00" fill="#d0cccd"/><rect x="103.41" y="630.80" width="3.1" height="15.00" fill="#d0cccd"/><rect x="107.25" y="630.80" width="3.1" height="15.00" fill="#d0cccd"/><rect x="111.10" y="630.80" width="3.1" height="15.00" fill="#d0cccd"/><rect x="114.94" y="630.80" width="3.1" height="15.00" fill="#d0cccd"/><rect x="118.79" y="630.80" width="3.1" height="15.00" fill="#d0cccd"/><rect x="122.64" y="630.80" width="3.1" height="15.00" fill="#d0cccd"/><rect x="126.48" y="630.80" width="3.1" height="15.00" fill="#d0cccd"/><rect x="130.33" y="630.80" width="3.1" height="15.00" fill="#d0cccd"/><rect x="134.17" y="630.80" width="3.1" height="15.00" fill="#d0cccd"/><rect x="138.02" y="630.80" width="3.1" height="15.00" fill="#d0cccd"/><rect x="141.87" y="630.80" width="3.1" height="15.00" fill="#d0cccd"/><rect x="145.71" y="630.80" width="3.1" height="15.00" fill="#d0cccd"/><rect x="149.56" y="630.80" width="3.1" height="15.00" fill="#d0cccd"/><rect x="153.40" y="630.80" width="3.1" height="15.00" fill="#d0cccd"/><rect x="157.25" y="630.80" width="3.1" height="15.00" fill="#d0cccd"/><rect x="161.10" y="630.80" width="3.1" height="15.00" fill="#d0cccd"/><rect x="164.94" y="630.80" width="3.1" height="15.00" fill="#d0cccd"/><rect x="168.79" y="630.80" width="3.1" height="15.00" fill="#d0cccd"/><rect x="172.63" y="630.80" width="3.1" height="15.00" fill="#d0cccd"/><rect x="176.48" y="630.80" width="3.1" height="15.00" fill="#d0cccd"/><rect x="180.33" y="630.80" width="3.1" height="15.00" fill="#d0cccd"/><rect x="184.17" y="630.80" width="3.1" height="15.00" fill="#d0cccd"/><rect x="188.02" y="630.80" width="3.1" height="15.00" fill="#d0cccd"/><rect x="191.86" y="630.80" width="3.1" height="15.00" fill="#d0cccd"/><rect x="195.71" y="630.80" width="3.1" height="15.00" fill="#d0cccd"/><rect x="199.56" y="630.80" width="3.1" height="15.00" fill="#d0cccd"/><rect x="203.40" y="630.80" width="3.1" height="15.00" fill="#d0cccd"/><rect x="207.25" y="630.80" width="3.1" height="15.00" fill="#d0cccd"/><rect x="211.09" y="630.80" width="3.1" height="15.00" fill="#d0cccd"/><rect x="214.94" y="630.80" width="3.1" height="15.00" fill="#d0cccd"/><rect x="218.79" y="630.80" width="3.1" height="15.00" fill="#d0cccd"/><rect x="222.63" y="630.80" width="3.1" height="15.00" fill="#d0cccd"/><rect x="226.48" y="630.80" width="3.1" height="15.00" fill="#d0cccd"/><rect x="230.32" y="630.80" width="3.1" height="15.00" fill="#d0cccd"/><rect x="234.17" y="630.80" width="3.1" height="15.00" fill="#d0cccd"/><rect x="238.02" y="630.80" width="3.1" height="15.00" fill="#d0cccd"/><rect x="241.86" y="630.80" width="3.1" height="15.00" fill="#d0cccd"/><rect x="245.71" y="630.80" width="3.1" height="15.00" fill="#d0cccd"/><rect x="249.55" y="630.80" width="3.1" height="15.00" fill="#d0cccd"/><rect x="253.40" y="630.80" width="3.1" height="15.00" fill="#d0cccd"/><rect x="257.25" y="630.80" width="3.1" height="15.00" fill="#d0cccd"/><rect x="261.09" y="630.80" width="3.1" height="15.00" fill="#d0cccd"/><rect x="264.94" y="630.80" width="3.1" height="15.00" fill="#d0cccd"/><rect x="268.78" y="630.80" width="3.1" height="15.00" fill="#d0cccd"/><rect x="272.63" y="630.80" width="3.1" height="15.00" fill="#d0cccd"/><rect x="276.48" y="630.80" width="3.1" height="15.00" fill="#d0cccd"/><rect x="280.32" y="630.80" width="3.1" height="15.00" fill="#d0cccd"/><rect x="284.17" y="630.80" width="3.1" height="15.00" fill="#d0cccd"/><rect x="288.01" y="630.80" width="3.1" height="15.00" fill="#d0cccd"/><rect x="291.86" y="630.80" width="3.1" height="15.00" fill="#649f4a"/><rect x="295.71" y="630.80" width="3.1" height="15.00" fill="#649f4a"/><rect x="299.55" y="630.80" width="3.1" height="15.00" fill="#17140f"/><rect x="303.40" y="630.80" width="3.1" height="15.00" fill="#c33d3d"/><rect x="307.24" y="630.80" width="3.1" height="15.00" fill="#649f4a"/><rect x="311.09" y="630.80" width="3.1" height="15.00" fill="#649f4a"/><rect x="314.94" y="630.80" width="3.1" height="15.00" fill="#d0cccd"/><rect x="318.78" y="630.80" width="3.1" height="15.00" fill="#d0cccd"/><rect x="322.63" y="630.80" width="3.1" height="15.00" fill="#d0cccd"/><rect x="326.47" y="630.80" width="3.1" height="15.00" fill="#d0cccd"/><rect x="330.32" y="630.80" width="3.1" height="15.00" fill="#d0cccd"/><rect x="334.17" y="630.80" width="3.1" height="15.00" fill="#d0cccd"/><rect x="338.01" y="630.80" width="3.1" height="15.00" fill="#d0cccd"/><rect x="341.86" y="630.80" width="3.1" height="15.00" fill="#d0cccd"/><rect x="345.70" y="630.80" width="3.1" height="15.00" fill="#d0cccd"/><rect x="349.55" y="630.80" width="3.1" height="15.00" fill="#d0cccd"/><rect x="353.40" y="630.80" width="3.1" height="15.00" fill="#d0cccd"/><rect x="357.24" y="630.80" width="3.1" height="15.00" fill="#d0cccd"/><rect x="361.09" y="630.80" width="3.1" height="15.00" fill="#d0cccd"/><rect x="364.93" y="630.80" width="3.1" height="15.00" fill="#d0cccd"/><rect x="368.78" y="630.80" width="3.1" height="15.00" fill="#d0cccd"/><rect x="372.63" y="630.80" width="3.1" height="15.00" fill="#d0cccd"/><rect x="376.47" y="630.80" width="3.1" height="15.00" fill="#d0cccd"/><rect x="380.32" y="630.80" width="3.1" height="15.00" fill="#d0cccd"/><rect x="384.16" y="630.80" width="3.1" height="15.00" fill="#d0cccd"/><rect x="388.01" y="630.80" width="3.1" height="15.00" fill="#d0cccd"/><rect x="391.86" y="630.80" width="3.1" height="15.00" fill="#d0cccd"/><rect x="395.70" y="630.80" width="3.1" height="15.00" fill="#d0cccd"/><rect x="399.55" y="630.80" width="3.1" height="15.00" fill="#d0cccd"/><rect x="403.39" y="630.80" width="3.1" height="15.00" fill="#d0cccd"/><rect x="407.24" y="630.80" width="3.1" height="15.00" fill="#d0cccd"/><rect x="411.09" y="630.80" width="3.1" height="15.00" fill="#d0cccd"/><text transform="translate(51.3 641.20) scale(0.82 1)" text-anchor="end" font-size="7.8" font-family="Liberation Sans, sans-serif" fill="#1a1a1a" stroke="#1a1a1a" stroke-width="0.2">CXCR5</text>
<rect x="57.9" y="572.5" width="1.3" height="42.30" fill="#111"/>
<rect x="54.3" y="610.05" width="4" height="1.1" fill="#111"/>
<text x="50.6" y="613.10" text-anchor="end" font-size="7.2" font-family="Liberation Sans, sans-serif" fill="#1a1a1a" stroke="#1a1a1a" stroke-width="0.12">0</text>
<rect x="54.3" y="603.35" width="4" height="1.1" fill="#111"/>
<text x="50.6" y="606.40" text-anchor="end" font-size="7.2" font-family="Liberation Sans, sans-serif" fill="#1a1a1a" stroke="#1a1a1a" stroke-width="0.12">10</text>
<rect x="54.3" y="596.65" width="4" height="1.1" fill="#111"/>
<text x="50.6" y="599.70" text-anchor="end" font-size="7.2" font-family="Liberation Sans, sans-serif" fill="#1a1a1a" stroke="#1a1a1a" stroke-width="0.12">20</text>
<rect x="54.3" y="589.95" width="4" height="1.1" fill="#111"/>
<text x="50.6" y="593.00" text-anchor="end" font-size="7.2" font-family="Liberation Sans, sans-serif" fill="#1a1a1a" stroke="#1a1a1a" stroke-width="0.12">30</text>
<rect x="54.3" y="583.25" width="4" height="1.1" fill="#111"/>
<text x="50.6" y="586.30" text-anchor="end" font-size="7.2" font-family="Liberation Sans, sans-serif" fill="#1a1a1a" stroke="#1a1a1a" stroke-width="0.12">40</text>
<rect x="54.3" y="576.55" width="4" height="1.1" fill="#111"/>
<text x="50.6" y="579.60" text-anchor="end" font-size="7.2" font-family="Liberation Sans, sans-serif" fill="#1a1a1a" stroke="#1a1a1a" stroke-width="0.12">50</text>
<text x="414.2" y="589.4" font-size="9.6" font-family="Liberation Sans, sans-serif" fill="#111" stroke="#111" stroke-width="0.12" textLength="82.5" lengthAdjust="spacingAndGlyphs"># of mutated cases</text>
<rect x="415.9" y="612.10" width="79.8" height="1.3" fill="#111"/>
<rect x="419.35" y="608.70" width="1.1" height="4" fill="#111"/>
<text x="419.90" y="602.2" text-anchor="middle" font-size="7" font-family="Liberation Sans, sans-serif" fill="#1a1a1a" stroke="#1a1a1a" stroke-width="0.1">0</text>
<rect x="431.07" y="608.70" width="1.1" height="4" fill="#111"/>
<text x="431.62" y="602.2" text-anchor="middle" font-size="7" font-family="Liberation Sans, sans-serif" fill="#1a1a1a" stroke="#1a1a1a" stroke-width="0.1">10</text>
<rect x="442.80" y="608.70" width="1.1" height="4" fill="#111"/>
<text x="443.35" y="602.2" text-anchor="middle" font-size="7" font-family="Liberation Sans, sans-serif" fill="#1a1a1a" stroke="#1a1a1a" stroke-width="0.1">20</text>
<rect x="454.52" y="608.70" width="1.1" height="4" fill="#111"/>
<text x="455.07" y="602.2" text-anchor="middle" font-size="7" font-family="Liberation Sans, sans-serif" fill="#1a1a1a" stroke="#1a1a1a" stroke-width="0.1">30</text>
<rect x="466.25" y="608.70" width="1.1" height="4" fill="#111"/>
<text x="466.80" y="602.2" text-anchor="middle" font-size="7" font-family="Liberation Sans, sans-serif" fill="#1a1a1a" stroke="#1a1a1a" stroke-width="0.1">40</text>
<rect x="477.97" y="608.70" width="1.1" height="4" fill="#111"/>
<text x="478.52" y="602.2" text-anchor="middle" font-size="7" font-family="Liberation Sans, sans-serif" fill="#1a1a1a" stroke="#1a1a1a" stroke-width="0.1">50</text>
<rect x="489.70" y="608.70" width="1.1" height="4" fill="#111"/>
<text x="490.25" y="602.2" text-anchor="middle" font-size="7" font-family="Liberation Sans, sans-serif" fill="#1a1a1a" stroke="#1a1a1a" stroke-width="0.1">60</text>
<rect x="419.90" y="614.1" width="3.52" height="13.80" fill="#5a89c6"/>
<rect x="423.42" y="614.1" width="41.04" height="13.80" fill="#649f4a"/>
<rect x="464.45" y="614.1" width="21.11" height="13.80" fill="#17140f"/>
<rect x="485.56" y="614.1" width="3.52" height="13.80" fill="#c33d3d"/>
<rect x="489.08" y="614.1" width="1.17" height="13.80" fill="#dc7f2f"/>
<rect x="419.90" y="631.0" width="5.86" height="14.20" fill="#649f4a"/>
<rect x="425.76" y="631.0" width="1.17" height="14.20" fill="#17140f"/>
<rect x="426.94" y="631.0" width="1.17" height="14.20" fill="#c33d3d"/>
<rect x="61.10" y="690.78" width="3.1" height="14.62" fill="#649f4a"/><rect x="61.10" y="688.94" width="3.1" height="1.85" fill="#c33d3d"/><rect x="64.95" y="701.55" width="3.1" height="3.85" fill="#649f4a"/><rect x="64.95" y="700.78" width="3.1" height="0.77" fill="#c33d3d"/><rect x="68.79" y="701.25" width="3.1" height="4.15" fill="#649f4a"/><rect x="68.79" y="700.02" width="3.1" height="1.23" fill="#c33d3d"/><rect x="72.64" y="700.78" width="3.1" height="4.62" fill="#649f4a"/><rect x="76.48" y="703.09" width="3.1" height="2.31" fill="#5a89c6"/><rect x="76.48" y="694.17" width="3.1" height="8.92" fill="#649f4a"/><rect x="76.48" y="693.55" width="3.1" height="0.62" fill="#dc7f2f"/><rect x="80.33" y="704.17" width="3.1" height="1.23" fill="#5a89c6"/><rect x="80.33" y="700.48" width="3.1" height="3.69" fill="#649f4a"/><rect x="80.33" y="699.25" width="3.1" height="1.23" fill="#dc7f2f"/><rect x="84.18" y="703.40" width="3.1" height="2.00" fill="#649f4a"/><rect x="84.18" y="702.48" width="3.1" height="0.92" fill="#c33d3d"/><rect x="88.02" y="692.63" width="3.1" height="12.77" fill="#649f4a"/><rect x="88.02" y="691.55" width="3.1" height="1.08" fill="#c33d3d"/><rect x="88.02" y="688.48" width="3.1" height="3.08" fill="#dc7f2f"/><rect x="91.87" y="704.17" width="3.1" height="1.23" fill="#5a89c6"/><rect x="91.87" y="696.94" width="3.1" height="7.23" fill="#649f4a"/><rect x="91.87" y="695.09" width="3.1" height="1.85" fill="#c33d3d"/><rect x="95.71" y="703.09" width="3.1" height="2.31" fill="#649f4a"/><rect x="95.71" y="702.48" width="3.1" height="0.62" fill="#dc7f2f"/><rect x="99.56" y="693.86" width="3.1" height="11.54" fill="#649f4a"/><rect x="99.56" y="692.94" width="3.1" height="0.92" fill="#c33d3d"/><rect x="99.56" y="691.86" width="3.1" height="1.08" fill="#dc7f2f"/><rect x="103.41" y="703.09" width="3.1" height="2.31" fill="#649f4a"/><rect x="103.41" y="700.78" width="3.1" height="2.31" fill="#c33d3d"/><rect x="107.25" y="702.32" width="3.1" height="3.08" fill="#5a89c6"/><rect x="107.25" y="697.71" width="3.1" height="4.62" fill="#649f4a"/><rect x="107.25" y="695.86" width="3.1" height="1.85" fill="#c33d3d"/><rect x="111.10" y="702.32" width="3.1" height="3.08" fill="#5a89c6"/><rect x="111.10" y="690.02" width="3.1" height="12.31" fill="#649f4a"/><rect x="111.10" y="686.94" width="3.1" height="3.08" fill="#dc7f2f"/><rect x="114.94" y="698.78" width="3.1" height="6.62" fill="#5a89c6"/><rect x="114.94" y="686.94" width="3.1" height="11.85" fill="#649f4a"/><rect x="114.94" y="685.55" width="3.1" height="1.38" fill="#c33d3d"/><rect x="114.94" y="684.32" width="3.1" height="1.23" fill="#dc7f2f"/><rect x="118.79" y="704.63" width="3.1" height="0.77" fill="#c33d3d"/><rect x="122.64" y="704.17" width="3.1" height="1.23" fill="#c33d3d"/><rect x="126.48" y="700.78" width="3.1" height="4.62" fill="#649f4a"/><rect x="126.48" y="699.25" width="3.1" height="1.54" fill="#c33d3d"/><rect x="130.33" y="703.55" width="3.1" height="1.85" fill="#649f4a"/><rect x="130.33" y="703.09" width="3.1" height="0.46" fill="#dc7f2f"/><rect x="134.17" y="694.17" width="3.1" height="11.23" fill="#649f4a"/><rect x="134.17" y="693.55" width="3.1" height="0.62" fill="#dc7f2f"/><rect x="138.02" y="692.32" width="3.1" height="13.08" fill="#649f4a"/><rect x="138.02" y="690.78" width="3.1" height="1.54" fill="#c33d3d"/><rect x="138.02" y="688.48" width="3.1" height="2.31" fill="#dc7f2f"/><rect x="141.87" y="698.48" width="3.1" height="6.92" fill="#649f4a"/><rect x="141.87" y="696.17" width="3.1" height="2.31" fill="#dc7f2f"/><rect x="145.71" y="684.94" width="3.1" height="20.46" fill="#649f4a"/><rect x="145.71" y="683.40" width="3.1" height="1.54" fill="#c33d3d"/><rect x="145.71" y="682.32" width="3.1" height="1.08" fill="#dc7f2f"/><rect x="149.56" y="700.32" width="3.1" height="5.08" fill="#649f4a"/><rect x="149.56" y="699.25" width="3.1" height="1.08" fill="#dc7f2f"/><rect x="153.40" y="696.94" width="3.1" height="8.46" fill="#649f4a"/><rect x="157.25" y="699.71" width="3.1" height="5.69" fill="#649f4a"/><rect x="157.25" y="698.78" width="3.1" height="0.92" fill="#c33d3d"/><rect x="157.25" y="697.71" width="3.1" height="1.08" fill="#dc7f2f"/><rect x="161.10" y="676.17" width="3.1" height="29.23" fill="#649f4a"/><rect x="161.10" y="670.02" width="3.1" height="6.15" fill="#dc7f2f"/><rect x="164.94" y="704.32" width="3.1" height="1.08" fill="#5a89c6"/><rect x="164.94" y="700.32" width="3.1" height="4.00" fill="#649f4a"/><rect x="164.94" y="698.94" width="3.1" height="1.38" fill="#c33d3d"/><rect x="168.79" y="703.86" width="3.1" height="1.54" fill="#649f4a"/><rect x="168.79" y="703.09" width="3.1" height="0.77" fill="#c33d3d"/><rect x="172.63" y="702.78" width="3.1" height="2.62" fill="#649f4a"/><rect x="172.63" y="700.78" width="3.1" height="2.00" fill="#c33d3d"/><rect x="176.48" y="696.94" width="3.1" height="8.46" fill="#649f4a"/><rect x="176.48" y="695.86" width="3.1" height="1.08" fill="#dc7f2f"/><rect x="180.33" y="682.78" width="3.1" height="22.62" fill="#649f4a"/><rect x="180.33" y="680.02" width="3.1" height="2.77" fill="#c33d3d"/><rect x="184.17" y="697.25" width="3.1" height="8.15" fill="#649f4a"/><rect x="184.17" y="696.48" width="3.1" height="0.77" fill="#dc7f2f"/><rect x="188.02" y="689.55" width="3.1" height="15.85" fill="#649f4a"/><rect x="188.02" y="687.71" width="3.1" height="1.85" fill="#c33d3d"/><rect x="188.02" y="686.17" width="3.1" height="1.54" fill="#dc7f2f"/><rect x="191.86" y="698.02" width="3.1" height="7.38" fill="#649f4a"/><rect x="191.86" y="696.63" width="3.1" height="1.38" fill="#c33d3d"/><rect x="195.71" y="704.63" width="3.1" height="0.77" fill="#5a89c6"/><rect x="195.71" y="700.78" width="3.1" height="3.85" fill="#649f4a"/><rect x="195.71" y="699.25" width="3.1" height="1.54" fill="#c33d3d"/><rect x="199.56" y="695.40" width="3.1" height="10.00" fill="#649f4a"/><rect x="199.56" y="693.86" width="3.1" height="1.54" fill="#c33d3d"/><rect x="199.56" y="692.63" width="3.1" height="1.23" fill="#dc7f2f"/><rect x="203.40" y="698.17" width="3.1" height="7.23" fill="#649f4a"/><rect x="203.40" y="696.94" width="3.1" height="1.23" fill="#c33d3d"/><rect x="207.25" y="696.48" width="3.1" height="8.92" fill="#649f4a"/><rect x="207.25" y="695.09" width="3.1" height="1.38" fill="#c33d3d"/><rect x="211.09" y="704.78" width="3.1" height="0.62" fill="#649f4a"/><rect x="211.09" y="704.48" width="3.1" height="0.31" fill="#dc7f2f"/><rect x="214.94" y="695.09" width="3.1" height="10.31" fill="#649f4a"/><rect x="214.94" y="692.32" width="3.1" height="2.77" fill="#c33d3d"/><rect x="214.94" y="691.25" width="3.1" height="1.08" fill="#dc7f2f"/><rect x="218.79" y="700.78" width="3.1" height="4.62" fill="#649f4a"/><rect x="218.79" y="699.25" width="3.1" height="1.54" fill="#c33d3d"/><rect x="222.63" y="699.71" width="3.1" height="5.69" fill="#649f4a"/><rect x="222.63" y="697.71" width="3.1" height="2.00" fill="#c33d3d"/><rect x="226.48" y="703.09" width="3.1" height="2.31" fill="#649f4a"/><rect x="226.48" y="701.86" width="3.1" height="1.23" fill="#c33d3d"/><rect x="230.32" y="703.55" width="3.1" height="1.85" fill="#5a89c6"/><rect x="230.32" y="693.09" width="3.1" height="10.46" fill="#649f4a"/><rect x="230.32" y="691.25" width="3.1" height="1.85" fill="#dc7f2f"/><rect x="234.17" y="703.09" width="3.1" height="2.31" fill="#5a89c6"/><rect x="234.17" y="688.94" width="3.1" height="14.15" fill="#649f4a"/><rect x="234.17" y="687.25" width="3.1" height="1.69" fill="#c33d3d"/><rect x="238.02" y="704.63" width="3.1" height="0.77" fill="#5a89c6"/><rect x="238.02" y="700.32" width="3.1" height="4.31" fill="#649f4a"/><rect x="238.02" y="698.48" width="3.1" height="1.85" fill="#dc7f2f"/><rect x="241.86" y="697.40" width="3.1" height="8.00" fill="#649f4a"/><rect x="241.86" y="695.09" width="3.1" height="2.31" fill="#dc7f2f"/><rect x="245.71" y="694.63" width="3.1" height="10.77" fill="#649f4a"/><rect x="245.71" y="692.78" width="3.1" height="1.85" fill="#dc7f2f"/><rect x="249.55" y="704.63" width="3.1" height="0.77" fill="#5a89c6"/><rect x="249.55" y="696.94" width="3.1" height="7.69" fill="#649f4a"/><rect x="249.55" y="694.32" width="3.1" height="2.62" fill="#dc7f2f"/><rect x="253.40" y="702.63" width="3.1" height="2.77" fill="#649f4a"/><rect x="253.40" y="701.55" width="3.1" height="1.08" fill="#dc7f2f"/><rect x="257.25" y="701.55" width="3.1" height="3.85" fill="#649f4a"/><rect x="257.25" y="700.48" width="3.1" height="1.08" fill="#dc7f2f"/><rect x="261.09" y="703.55" width="3.1" height="1.85" fill="#649f4a"/><rect x="261.09" y="703.09" width="3.1" height="0.46" fill="#dc7f2f"/><rect x="264.94" y="701.55" width="3.1" height="3.85" fill="#649f4a"/><rect x="264.94" y="700.48" width="3.1" height="1.08" fill="#c33d3d"/><rect x="268.78" y="697.71" width="3.1" height="7.69" fill="#649f4a"/><rect x="268.78" y="696.48" width="3.1" height="1.23" fill="#c33d3d"/><rect x="272.63" y="704.63" width="3.1" height="0.77" fill="#5a89c6"/><rect x="272.63" y="700.32" width="3.1" height="4.31" fill="#649f4a"/><rect x="272.63" y="698.94" width="3.1" height="1.38" fill="#c33d3d"/><rect x="276.48" y="704.63" width="3.1" height="0.77" fill="#dc7f2f"/><rect x="280.32" y="700.78" width="3.1" height="4.62" fill="#649f4a"/><rect x="280.32" y="698.94" width="3.1" height="1.85" fill="#c33d3d"/><rect x="284.17" y="682.78" width="3.1" height="22.62" fill="#649f4a"/><rect x="284.17" y="681.09" width="3.1" height="1.69" fill="#dc7f2f"/><rect x="288.01" y="695.71" width="3.1" height="9.69" fill="#649f4a"/><rect x="288.01" y="695.09" width="3.1" height="0.62" fill="#dc7f2f"/><rect x="291.86" y="701.86" width="3.1" height="3.54" fill="#649f4a"/><rect x="295.71" y="699.71" width="3.1" height="5.69" fill="#649f4a"/><rect x="295.71" y="697.71" width="3.1" height="2.00" fill="#c33d3d"/><rect x="299.55" y="700.32" width="3.1" height="5.08" fill="#649f4a"/><rect x="299.55" y="698.48" width="3.1" height="1.85" fill="#c33d3d"/><rect x="303.40" y="700.02" width="3.1" height="5.38" fill="#649f4a"/><rect x="307.24" y="701.86" width="3.1" height="3.54" fill="#5a89c6"/><rect x="307.24" y="695.71" width="3.1" height="6.15" fill="#649f4a"/><rect x="307.24" y="693.55" width="3.1" height="2.15" fill="#dc7f2f"/><rect x="311.09" y="703.86" width="3.1" height="1.54" fill="#5a89c6"/><rect x="311.09" y="695.40" width="3.1" height="8.46" fill="#649f4a"/><rect x="311.09" y="692.78" width="3.1" height="2.62" fill="#dc7f2f"/><rect x="314.94" y="704.63" width="3.1" height="0.77" fill="#649f4a"/><rect x="314.94" y="704.17" width="3.1" height="0.46" fill="#dc7f2f"/><rect x="318.78" y="693.86" width="3.1" height="11.54" fill="#649f4a"/><rect x="318.78" y="692.63" width="3.1" height="1.23" fill="#c33d3d"/><rect x="318.78" y="691.86" width="3.1" height="0.77" fill="#dc7f2f"/><rect x="322.63" y="704.32" width="3.1" height="1.08" fill="#5a89c6"/><rect x="322.63" y="698.94" width="3.1" height="5.38" fill="#649f4a"/><rect x="322.63" y="697.71" width="3.1" height="1.23" fill="#dc7f2f"/><rect x="326.47" y="703.55" width="3.1" height="1.85" fill="#649f4a"/><rect x="326.47" y="701.86" width="3.1" height="1.69" fill="#c33d3d"/><rect x="330.32" y="697.40" width="3.1" height="8.00" fill="#649f4a"/><rect x="330.32" y="696.48" width="3.1" height="0.92" fill="#dc7f2f"/><rect x="334.17" y="702.78" width="3.1" height="2.62" fill="#649f4a"/><rect x="334.17" y="700.78" width="3.1" height="2.00" fill="#dc7f2f"/><rect x="338.01" y="701.55" width="3.1" height="3.85" fill="#649f4a"/><rect x="338.01" y="700.78" width="3.1" height="0.77" fill="#dc7f2f"/><rect x="341.86" y="704.48" width="3.1" height="0.92" fill="#dc7f2f"/><rect x="345.70" y="704.48" width="3.1" height="0.92" fill="#649f4a"/><rect x="349.55" y="704.48" width="3.1" height="0.92" fill="#c33d3d"/><rect x="353.40" y="701.55" width="3.1" height="3.85" fill="#649f4a"/><rect x="353.40" y="700.02" width="3.1" height="1.54" fill="#c33d3d"/><rect x="357.24" y="701.55" width="3.1" height="3.85" fill="#649f4a"/><rect x="357.24" y="700.02" width="3.1" height="1.54" fill="#c33d3d"/><rect x="361.09" y="699.71" width="3.1" height="5.69" fill="#649f4a"/><rect x="361.09" y="697.71" width="3.1" height="2.00" fill="#dc7f2f"/><rect x="364.93" y="701.86" width="3.1" height="3.54" fill="#649f4a"/><rect x="368.78" y="704.20" width="3.1" height="1.20" fill="#5a89c6"/><rect x="368.78" y="697.50" width="3.1" height="6.70" fill="#649f4a"/><rect x="368.78" y="696.90" width="3.1" height="0.60" fill="#dc7f2f"/><rect x="372.63" y="702.70" width="3.1" height="2.70" fill="#649f4a"/><rect x="376.47" y="704.90" width="3.1" height="0.50" fill="#649f4a"/><rect x="376.47" y="704.40" width="3.1" height="0.50" fill="#dc7f2f"/><rect x="380.32" y="704.90" width="3.1" height="0.50" fill="#649f4a"/><rect x="380.32" y="704.40" width="3.1" height="0.50" fill="#dc7f2f"/><rect x="384.16" y="696.70" width="3.1" height="8.70" fill="#649f4a"/><rect x="384.16" y="695.20" width="3.1" height="1.50" fill="#c33d3d"/><rect x="388.01" y="701.00" width="3.1" height="4.40" fill="#649f4a"/><rect x="391.86" y="704.90" width="3.1" height="0.50" fill="#649f4a"/><rect x="391.86" y="704.40" width="3.1" height="0.50" fill="#dc7f2f"/><rect x="395.70" y="704.90" width="3.1" height="0.50" fill="#649f4a"/><rect x="395.70" y="704.40" width="3.1" height="0.50" fill="#dc7f2f"/><rect x="399.55" y="699.80" width="3.1" height="5.60" fill="#649f4a"/><rect x="399.55" y="699.30" width="3.1" height="0.50" fill="#dc7f2f"/><rect x="403.39" y="693.50" width="3.1" height="11.90" fill="#649f4a"/><rect x="403.39" y="691.80" width="3.1" height="1.70" fill="#c33d3d"/><rect x="403.39" y="689.80" width="3.1" height="2.00" fill="#dc7f2f"/><rect x="407.24" y="703.10" width="3.1" height="2.30" fill="#649f4a"/><rect x="407.24" y="701.00" width="3.1" height="2.10" fill="#c33d3d"/><rect x="411.09" y="701.60" width="3.1" height="3.80" fill="#649f4a"/><rect x="411.09" y="700.60" width="3.1" height="1.00" fill="#dc7f2f"/><rect x="61.10" y="708.20" width="3.1" height="15.30" fill="#649f4a"/><rect x="64.95" y="708.20" width="3.1" height="15.30" fill="#649f4a"/><rect x="68.79" y="708.20" width="3.1" height="15.30" fill="#c33d3d"/><rect x="72.64" y="708.20" width="3.1" height="15.30" fill="#649f4a"/><rect x="76.48" y="708.20" width="3.1" height="15.30" fill="#649f4a"/><rect x="80.33" y="708.20" width="3.1" height="15.30" fill="#17140f"/><rect x="84.18" y="708.20" width="3.1" height="15.30" fill="#c33d3d"/><rect x="88.02" y="708.20" width="3.1" height="15.30" fill="#649f4a"/><rect x="91.87" y="708.20" width="3.1" height="15.30" fill="#5a89c6"/><rect x="95.71" y="708.20" width="3.1" height="15.30" fill="#649f4a"/><rect x="99.56" y="708.20" width="3.1" height="15.30" fill="#dc7f2f"/><rect x="103.41" y="708.20" width="3.1" height="15.30" fill="#649f4a"/><rect x="107.25" y="708.20" width="3.1" height="15.30" fill="#5a89c6"/><rect x="111.10" y="708.20" width="3.1" height="15.30" fill="#17140f"/><rect x="114.94" y="708.20" width="3.1" height="15.30" fill="#5a89c6"/><rect x="118.79" y="708.20" width="3.1" height="15.30" fill="#c33d3d"/><rect x="122.64" y="708.20" width="3.1" height="15.30" fill="#c33d3d"/><rect x="126.48" y="708.20" width="3.1" height="15.30" fill="#649f4a"/><rect x="130.33" y="708.20" width="3.1" height="15.30" fill="#649f4a"/><rect x="134.17" y="708.20" width="3.1" height="15.30" fill="#649f4a"/><rect x="138.02" y="708.20" width="3.1" height="15.30" fill="#649f4a"/><rect x="141.87" y="708.20" width="3.1" height="15.30" fill="#649f4a"/><rect x="145.71" y="708.20" width="3.1" height="15.30" fill="#c33d3d"/><rect x="149.56" y="708.20" width="3.1" height="15.30" fill="#649f4a"/><rect x="153.40" y="708.20" width="3.1" height="15.30" fill="#649f4a"/><rect x="157.25" y="708.20" width="3.1" height="15.30" fill="#c33d3d"/><rect x="161.10" y="708.20" width="3.1" height="15.30" fill="#649f4a"/><rect x="164.94" y="708.20" width="3.1" height="15.30" fill="#5a89c6"/><rect x="168.79" y="708.20" width="3.1" height="15.30" fill="#c33d3d"/><rect x="172.63" y="708.20" width="3.1" height="15.30" fill="#17140f"/><rect x="176.48" y="708.20" width="3.1" height="15.30" fill="#649f4a"/><rect x="180.33" y="708.20" width="3.1" height="15.30" fill="#649f4a"/><rect x="184.17" y="708.20" width="3.1" height="15.30" fill="#649f4a"/><rect x="188.02" y="708.20" width="3.1" height="15.30" fill="#649f4a"/><rect x="191.86" y="708.20" width="3.1" height="15.30" fill="#c33d3d"/><rect x="195.71" y="708.20" width="3.1" height="15.30" fill="#649f4a"/><rect x="199.56" y="708.20" width="3.1" height="15.30" fill="#649f4a"/><rect x="203.40" y="708.20" width="3.1" height="15.30" fill="#649f4a"/><rect x="207.25" y="708.20" width="3.1" height="15.30" fill="#649f4a"/><rect x="211.09" y="708.20" width="3.1" height="15.30" fill="#649f4a"/><rect x="214.94" y="708.20" width="3.1" height="15.30" fill="#c33d3d"/><rect x="218.79" y="708.20" width="3.1" height="15.30" fill="#c33d3d"/><rect x="222.63" y="708.20" width="3.1" height="15.30" fill="#d0cccd"/><rect x="226.48" y="708.20" width="3.1" height="15.30" fill="#d0cccd"/><rect x="230.32" y="708.20" width="3.1" height="15.30" fill="#d0cccd"/><rect x="234.17" y="708.20" width="3.1" height="15.30" fill="#d0cccd"/><rect x="238.02" y="708.20" width="3.1" height="15.30" fill="#d0cccd"/><rect x="241.86" y="708.20" width="3.1" height="15.30" fill="#d0cccd"/><rect x="245.71" y="708.20" width="3.1" height="15.30" fill="#d0cccd"/><rect x="249.55" y="708.20" width="3.1" height="15.30" fill="#d0cccd"/><rect x="253.40" y="708.20" width="3.1" height="15.30" fill="#d0cccd"/><rect x="257.25" y="708.20" width="3.1" height="15.30" fill="#d0cccd"/><rect x="261.09" y="708.20" width="3.1" height="15.30" fill="#d0cccd"/><rect x="264.94" y="708.20" width="3.1" height="15.30" fill="#d0cccd"/><rect x="268.78" y="708.20" width="3.1" height="15.30" fill="#d0cccd"/><rect x="272.63" y="708.20" width="3.1" height="15.30" fill="#d0cccd"/><rect x="276.48" y="708.20" width="3.1" height="15.30" fill="#d0cccd"/><rect x="280.32" y="708.20" width="3.1" height="15.30" fill="#d0cccd"/><rect x="284.17" y="708.20" width="3.1" height="15.30" fill="#d0cccd"/><rect x="288.01" y="708.20" width="3.1" height="15.30" fill="#d0cccd"/><rect x="291.86" y="708.20" width="3.1" height="15.30" fill="#d0cccd"/><rect x="295.71" y="708.20" width="3.1" height="15.30" fill="#d0cccd"/><rect x="299.55" y="708.20" width="3.1" height="15.30" fill="#d0cccd"/><rect x="303.40" y="708.20" width="3.1" height="15.30" fill="#d0cccd"/><rect x="307.24" y="708.20" width="3.1" height="15.30" fill="#d0cccd"/><rect x="311.09" y="708.20" width="3.1" height="15.30" fill="#d0cccd"/><rect x="314.94" y="708.20" width="3.1" height="15.30" fill="#d0cccd"/><rect x="318.78" y="708.20" width="3.1" height="15.30" fill="#d0cccd"/><rect x="322.63" y="708.20" width="3.1" height="15.30" fill="#d0cccd"/><rect x="326.47" y="708.20" width="3.1" height="15.30" fill="#d0cccd"/><rect x="330.32" y="708.20" width="3.1" height="15.30" fill="#d0cccd"/><rect x="334.17" y="708.20" width="3.1" height="15.30" fill="#d0cccd"/><rect x="338.01" y="708.20" width="3.1" height="15.30" fill="#d0cccd"/><rect x="341.86" y="708.20" width="3.1" height="15.30" fill="#d0cccd"/><rect x="345.70" y="708.20" width="3.1" height="15.30" fill="#d0cccd"/><rect x="349.55" y="708.20" width="3.1" height="15.30" fill="#d0cccd"/><rect x="353.40" y="708.20" width="3.1" height="15.30" fill="#d0cccd"/><rect x="357.24" y="708.20" width="3.1" height="15.30" fill="#d0cccd"/><rect x="361.09" y="708.20" width="3.1" height="15.30" fill="#d0cccd"/><rect x="364.93" y="708.20" width="3.1" height="15.30" fill="#d0cccd"/><rect x="368.78" y="708.20" width="3.1" height="15.30" fill="#d0cccd"/><rect x="372.63" y="708.20" width="3.1" height="15.30" fill="#d0cccd"/><rect x="376.47" y="708.20" width="3.1" height="15.30" fill="#d0cccd"/><rect x="380.32" y="708.20" width="3.1" height="15.30" fill="#d0cccd"/><rect x="384.16" y="708.20" width="3.1" height="15.30" fill="#d0cccd"/><rect x="388.01" y="708.20" width="3.1" height="15.30" fill="#d0cccd"/><rect x="391.86" y="708.20" width="3.1" height="15.30" fill="#d0cccd"/><rect x="395.70" y="708.20" width="3.1" height="15.30" fill="#d0cccd"/><rect x="399.55" y="708.20" width="3.1" height="15.30" fill="#d0cccd"/><rect x="403.39" y="708.20" width="3.1" height="15.30" fill="#d0cccd"/><rect x="407.24" y="708.20" width="3.1" height="15.30" fill="#d0cccd"/><rect x="411.09" y="708.20" width="3.1" height="15.30" fill="#d0cccd"/><text transform="translate(51.3 718.75) scale(0.82 1)" text-anchor="end" font-size="7.8" font-family="Liberation Sans, sans-serif" fill="#1a1a1a" stroke="#1a1a1a" stroke-width="0.2">GNA13</text><rect x="61.10" y="725.40" width="3.1" height="14.90" fill="#649f4a"/><rect x="64.95" y="725.40" width="3.1" height="14.90" fill="#649f4a"/><rect x="68.79" y="725.40" width="3.1" height="14.90" fill="#649f4a"/><rect x="72.64" y="725.40" width="3.1" height="14.90" fill="#649f4a"/><rect x="76.48" y="725.40" width="3.1" height="14.90" fill="#649f4a"/><rect x="80.33" y="725.40" width="3.1" height="14.90" fill="#649f4a"/><rect x="84.18" y="725.40" width="3.1" height="14.90" fill="#649f4a"/><rect x="88.02" y="725.40" width="3.1" height="14.90" fill="#649f4a"/><rect x="91.87" y="725.40" width="3.1" height="14.90" fill="#d0cccd"/><rect x="95.71" y="725.40" width="3.1" height="14.90" fill="#d0cccd"/><rect x="99.56" y="725.40" width="3.1" height="14.90" fill="#d0cccd"/><rect x="103.41" y="725.40" width="3.1" height="14.90" fill="#d0cccd"/><rect x="107.25" y="725.40" width="3.1" height="14.90" fill="#d0cccd"/><rect x="111.10" y="725.40" width="3.1" height="14.90" fill="#d0cccd"/><rect x="114.94" y="725.40" width="3.1" height="14.90" fill="#d0cccd"/><rect x="118.79" y="725.40" width="3.1" height="14.90" fill="#d0cccd"/><rect x="122.64" y="725.40" width="3.1" height="14.90" fill="#d0cccd"/><rect x="126.48" y="725.40" width="3.1" height="14.90" fill="#d0cccd"/><rect x="130.33" y="725.40" width="3.1" height="14.90" fill="#d0cccd"/><rect x="134.17" y="725.40" width="3.1" height="14.90" fill="#d0cccd"/><rect x="138.02" y="725.40" width="3.1" height="14.90" fill="#d0cccd"/><rect x="141.87" y="725.40" width="3.1" height="14.90" fill="#d0cccd"/><rect x="145.71" y="725.40" width="3.1" height="14.90" fill="#d0cccd"/><rect x="149.56" y="725.40" width="3.1" height="14.90" fill="#d0cccd"/><rect x="153.40" y="725.40" width="3.1" height="14.90" fill="#d0cccd"/><rect x="157.25" y="725.40" width="3.1" height="14.90" fill="#d0cccd"/><rect x="161.10" y="725.40" width="3.1" height="14.90" fill="#d0cccd"/><rect x="164.94" y="725.40" width="3.1" height="14.90" fill="#d0cccd"/><rect x="168.79" y="725.40" width="3.1" height="14.90" fill="#d0cccd"/><rect x="172.63" y="725.40" width="3.1" height="14.90" fill="#d0cccd"/><rect x="176.48" y="725.40" width="3.1" height="14.90" fill="#d0cccd"/><rect x="180.33" y="725.40" width="3.1" height="14.90" fill="#d0cccd"/><rect x="184.17" y="725.40" width="3.1" height="14.90" fill="#d0cccd"/><rect x="188.02" y="725.40" width="3.1" height="14.90" fill="#d0cccd"/><rect x="191.86" y="725.40" width="3.1" height="14.90" fill="#d0cccd"/><rect x="195.71" y="725.40" width="3.1" height="14.90" fill="#d0cccd"/><rect x="199.56" y="725.40" width="3.1" height="14.90" fill="#d0cccd"/><rect x="203.40" y="725.40" width="3.1" height="14.90" fill="#d0cccd"/><rect x="207.25" y="725.40" width="3.1" height="14.90" fill="#d0cccd"/><rect x="211.09" y="725.40" width="3.1" height="14.90" fill="#d0cccd"/><rect x="214.94" y="725.40" width="3.1" height="14.90" fill="#d0cccd"/><rect x="218.79" y="725.40" width="3.1" height="14.90" fill="#d0cccd"/><rect x="222.63" y="725.40" width="3.1" height="14.90" fill="#649f4a"/><rect x="226.48" y="725.40" width="3.1" height="14.90" fill="#649f4a"/><rect x="230.32" y="725.40" width="3.1" height="14.90" fill="#649f4a"/><rect x="234.17" y="725.40" width="3.1" height="14.90" fill="#649f4a"/><rect x="238.02" y="725.40" width="3.1" height="14.90" fill="#649f4a"/><rect x="241.86" y="725.40" width="3.1" height="14.90" fill="#649f4a"/><rect x="245.71" y="725.40" width="3.1" height="14.90" fill="#649f4a"/><rect x="249.55" y="725.40" width="3.1" height="14.90" fill="#649f4a"/><rect x="253.40" y="725.40" width="3.1" height="14.90" fill="#649f4a"/><rect x="257.25" y="725.40" width="3.1" height="14.90" fill="#649f4a"/><rect x="261.09" y="725.40" width="3.1" height="14.90" fill="#649f4a"/><rect x="264.94" y="725.40" width="3.1" height="14.90" fill="#649f4a"/><rect x="268.78" y="725.40" width="3.1" height="14.90" fill="#649f4a"/><rect x="272.63" y="725.40" width="3.1" height="14.90" fill="#649f4a"/><rect x="276.48" y="725.40" width="3.1" height="14.90" fill="#649f4a"/><rect x="280.32" y="725.40" width="3.1" height="14.90" fill="#649f4a"/><rect x="284.17" y="725.40" width="3.1" height="14.90" fill="#649f4a"/><rect x="288.01" y="725.40" width="3.1" height="14.90" fill="#649f4a"/><rect x="291.86" y="725.40" width="3.1" height="14.90" fill="#649f4a"/><rect x="295.71" y="725.40" width="3.1" height="14.90" fill="#649f4a"/><rect x="299.55" y="725.40" width="3.1" height="14.90" fill="#17140f"/><rect x="303.40" y="725.40" width="3.1" height="14.90" fill="#d0cccd"/><rect x="307.24" y="725.40" width="3.1" height="14.90" fill="#d0cccd"/><rect x="311.09" y="725.40" width="3.1" height="14.90" fill="#d0cccd"/><rect x="314.94" y="725.40" width="3.1" height="14.90" fill="#d0cccd"/><rect x="318.78" y="725.40" width="3.1" height="14.90" fill="#d0cccd"/><rect x="322.63" y="725.40" width="3.1" height="14.90" fill="#d0cccd"/><rect x="326.47" y="725.40" width="3.1" height="14.90" fill="#d0cccd"/><rect x="330.32" y="725.40" width="3.1" height="14.90" fill="#d0cccd"/><rect x="334.17" y="725.40" width="3.1" height="14.90" fill="#d0cccd"/><rect x="338.01" y="725.40" width="3.1" height="14.90" fill="#d0cccd"/><rect x="341.86" y="725.40" width="3.1" height="14.90" fill="#d0cccd"/><rect x="345.70" y="725.40" width="3.1" height="14.90" fill="#d0cccd"/><rect x="349.55" y="725.40" width="3.1" height="14.90" fill="#d0cccd"/><rect x="353.40" y="725.40" width="3.1" height="14.90" fill="#d0cccd"/><rect x="357.24" y="725.40" width="3.1" height="14.90" fill="#d0cccd"/><rect x="361.09" y="725.40" width="3.1" height="14.90" fill="#d0cccd"/><rect x="364.93" y="725.40" width="3.1" height="14.90" fill="#d0cccd"/><rect x="368.78" y="725.40" width="3.1" height="14.90" fill="#d0cccd"/><rect x="372.63" y="725.40" width="3.1" height="14.90" fill="#d0cccd"/><rect x="376.47" y="725.40" width="3.1" height="14.90" fill="#d0cccd"/><rect x="380.32" y="725.40" width="3.1" height="14.90" fill="#d0cccd"/><rect x="384.16" y="725.40" width="3.1" height="14.90" fill="#d0cccd"/><rect x="388.01" y="725.40" width="3.1" height="14.90" fill="#d0cccd"/><rect x="391.86" y="725.40" width="3.1" height="14.90" fill="#d0cccd"/><rect x="395.70" y="725.40" width="3.1" height="14.90" fill="#d0cccd"/><rect x="399.55" y="725.40" width="3.1" height="14.90" fill="#d0cccd"/><rect x="403.39" y="725.40" width="3.1" height="14.90" fill="#d0cccd"/><rect x="407.24" y="725.40" width="3.1" height="14.90" fill="#d0cccd"/><rect x="411.09" y="725.40" width="3.1" height="14.90" fill="#d0cccd"/><text transform="translate(51.3 735.75) scale(0.82 1)" text-anchor="end" font-size="7.8" font-family="Liberation Sans, sans-serif" fill="#1a1a1a" stroke="#1a1a1a" stroke-width="0.2">IL4R</text>
<rect x="57.9" y="666.9" width="1.3" height="42.60" fill="#111"/>
<rect x="54.3" y="704.85" width="4" height="1.1" fill="#111"/>
<text x="50.6" y="707.90" text-anchor="end" font-size="7.2" font-family="Liberation Sans, sans-serif" fill="#1a1a1a" stroke="#1a1a1a" stroke-width="0.12">0</text>
<rect x="54.3" y="698.15" width="4" height="1.1" fill="#111"/>
<text x="50.6" y="701.20" text-anchor="end" font-size="7.2" font-family="Liberation Sans, sans-serif" fill="#1a1a1a" stroke="#1a1a1a" stroke-width="0.12">10</text>
<rect x="54.3" y="691.45" width="4" height="1.1" fill="#111"/>
<text x="50.6" y="694.50" text-anchor="end" font-size="7.2" font-family="Liberation Sans, sans-serif" fill="#1a1a1a" stroke="#1a1a1a" stroke-width="0.12">20</text>
<rect x="54.3" y="684.75" width="4" height="1.1" fill="#111"/>
<text x="50.6" y="687.80" text-anchor="end" font-size="7.2" font-family="Liberation Sans, sans-serif" fill="#1a1a1a" stroke="#1a1a1a" stroke-width="0.12">30</text>
<rect x="54.3" y="678.05" width="4" height="1.1" fill="#111"/>
<text x="50.6" y="681.10" text-anchor="end" font-size="7.2" font-family="Liberation Sans, sans-serif" fill="#1a1a1a" stroke="#1a1a1a" stroke-width="0.12">40</text>
<rect x="54.3" y="671.35" width="4" height="1.1" fill="#111"/>
<text x="50.6" y="674.40" text-anchor="end" font-size="7.2" font-family="Liberation Sans, sans-serif" fill="#1a1a1a" stroke="#1a1a1a" stroke-width="0.12">50</text>
<text x="413.2" y="683.8" font-size="9.6" font-family="Liberation Sans, sans-serif" fill="#111" stroke="#111" stroke-width="0.12" textLength="82.6" lengthAdjust="spacingAndGlyphs"># of mutated cases</text>
<rect x="416.2" y="706.20" width="75.6" height="1.3" fill="#111"/>
<rect x="420.25" y="702.80" width="1.1" height="4" fill="#111"/>
<text x="420.80" y="697.0" text-anchor="middle" font-size="7" font-family="Liberation Sans, sans-serif" fill="#1a1a1a" stroke="#1a1a1a" stroke-width="0.1">0</text>
<rect x="437.15" y="702.80" width="1.1" height="4" fill="#111"/>
<text x="437.70" y="697.0" text-anchor="middle" font-size="7" font-family="Liberation Sans, sans-serif" fill="#1a1a1a" stroke="#1a1a1a" stroke-width="0.1">10</text>
<rect x="454.05" y="702.80" width="1.1" height="4" fill="#111"/>
<text x="454.60" y="697.0" text-anchor="middle" font-size="7" font-family="Liberation Sans, sans-serif" fill="#1a1a1a" stroke="#1a1a1a" stroke-width="0.1">20</text>
<rect x="470.95" y="702.80" width="1.1" height="4" fill="#111"/>
<text x="471.50" y="697.0" text-anchor="middle" font-size="7" font-family="Liberation Sans, sans-serif" fill="#1a1a1a" stroke="#1a1a1a" stroke-width="0.1">30</text>
<rect x="487.85" y="702.80" width="1.1" height="4" fill="#111"/>
<text x="488.40" y="697.0" text-anchor="middle" font-size="7" font-family="Liberation Sans, sans-serif" fill="#1a1a1a" stroke="#1a1a1a" stroke-width="0.1">40</text>
<rect x="420.80" y="708.9" width="6.76" height="13.90" fill="#5a89c6"/>
<rect x="427.56" y="708.9" width="40.56" height="13.90" fill="#649f4a"/>
<rect x="468.12" y="708.9" width="5.07" height="13.90" fill="#17140f"/>
<rect x="473.19" y="708.9" width="16.90" height="13.90" fill="#c33d3d"/>
<rect x="490.09" y="708.9" width="1.69" height="13.90" fill="#dc7f2f"/>
<rect x="420.80" y="726.2" width="47.32" height="13.40" fill="#649f4a"/>
<rect x="468.12" y="726.2" width="1.69" height="13.40" fill="#17140f"/>
<rect x="61.20" y="798.87" width="3.1" height="1.23" fill="#5a89c6"/><rect x="61.20" y="791.64" width="3.1" height="7.23" fill="#649f4a"/><rect x="61.20" y="789.18" width="3.1" height="2.46" fill="#f6d6bd"/><rect x="65.07" y="799.64" width="3.1" height="0.46" fill="#5a89c6"/><rect x="65.07" y="794.56" width="3.1" height="5.08" fill="#649f4a"/><rect x="68.95" y="796.87" width="3.1" height="3.23" fill="#5a89c6"/><rect x="68.95" y="790.10" width="3.1" height="6.77" fill="#649f4a"/><rect x="68.95" y="788.56" width="3.1" height="1.54" fill="#dc7f2f"/><rect x="72.82" y="797.02" width="3.1" height="3.08" fill="#649f4a"/><rect x="76.70" y="785.33" width="3.1" height="14.77" fill="#649f4a"/><rect x="76.70" y="784.25" width="3.1" height="1.08" fill="#f6d6bd"/><rect x="80.57" y="798.10" width="3.1" height="2.00" fill="#5a89c6"/><rect x="80.57" y="788.10" width="3.1" height="10.00" fill="#649f4a"/><rect x="80.57" y="785.79" width="3.1" height="2.31" fill="#dc7f2f"/><rect x="84.44" y="798.41" width="3.1" height="1.69" fill="#5a89c6"/><rect x="84.44" y="790.10" width="3.1" height="8.31" fill="#649f4a"/><rect x="84.44" y="787.79" width="3.1" height="2.31" fill="#dc7f2f"/><rect x="88.32" y="798.87" width="3.1" height="1.23" fill="#649f4a"/><rect x="92.19" y="793.48" width="3.1" height="6.62" fill="#5a89c6"/><rect x="92.19" y="781.18" width="3.1" height="12.31" fill="#649f4a"/><rect x="92.19" y="780.41" width="3.1" height="0.77" fill="#f6d6bd"/><rect x="92.19" y="778.87" width="3.1" height="1.54" fill="#dc7f2f"/><rect x="96.07" y="797.79" width="3.1" height="2.31" fill="#5a89c6"/><rect x="96.07" y="783.48" width="3.1" height="14.31" fill="#649f4a"/><rect x="96.07" y="781.18" width="3.1" height="2.31" fill="#f6d6bd"/><rect x="99.94" y="791.95" width="3.1" height="8.15" fill="#649f4a"/><rect x="99.94" y="790.10" width="3.1" height="1.85" fill="#dc7f2f"/><rect x="103.81" y="789.64" width="3.1" height="10.46" fill="#649f4a"/><rect x="103.81" y="787.79" width="3.1" height="1.85" fill="#dc7f2f"/><rect x="107.69" y="791.95" width="3.1" height="8.15" fill="#649f4a"/><rect x="107.69" y="791.48" width="3.1" height="0.46" fill="#f6d6bd"/><rect x="111.56" y="795.79" width="3.1" height="4.31" fill="#649f4a"/><rect x="111.56" y="793.48" width="3.1" height="2.31" fill="#f6d6bd"/><rect x="115.44" y="786.56" width="3.1" height="13.54" fill="#649f4a"/><rect x="115.44" y="785.79" width="3.1" height="0.77" fill="#f6d6bd"/><rect x="115.44" y="783.02" width="3.1" height="2.77" fill="#dc7f2f"/><rect x="119.31" y="793.18" width="3.1" height="6.92" fill="#649f4a"/><rect x="119.31" y="790.72" width="3.1" height="2.46" fill="#dc7f2f"/><rect x="123.18" y="797.79" width="3.1" height="2.31" fill="#649f4a"/><rect x="123.18" y="796.25" width="3.1" height="1.54" fill="#dc7f2f"/><rect x="127.06" y="795.48" width="3.1" height="4.62" fill="#649f4a"/><rect x="130.93" y="796.56" width="3.1" height="3.54" fill="#649f4a"/><rect x="130.93" y="795.33" width="3.1" height="1.23" fill="#dc7f2f"/><rect x="134.81" y="791.95" width="3.1" height="8.15" fill="#649f4a"/><rect x="134.81" y="791.48" width="3.1" height="0.46" fill="#f6d6bd"/><rect x="138.68" y="795.48" width="3.1" height="4.62" fill="#649f4a"/><rect x="138.68" y="794.72" width="3.1" height="0.77" fill="#f6d6bd"/><rect x="142.55" y="799.64" width="3.1" height="0.46" fill="#5a89c6"/><rect x="142.55" y="794.25" width="3.1" height="5.38" fill="#649f4a"/><rect x="146.43" y="791.95" width="3.1" height="8.15" fill="#649f4a"/><rect x="150.30" y="793.95" width="3.1" height="6.15" fill="#649f4a"/><rect x="150.30" y="791.95" width="3.1" height="2.00" fill="#f6d6bd"/><rect x="154.18" y="795.33" width="3.1" height="4.77" fill="#649f4a"/><rect x="154.18" y="793.79" width="3.1" height="1.54" fill="#dc7f2f"/><rect x="158.05" y="798.87" width="3.1" height="1.23" fill="#5a89c6"/><rect x="158.05" y="794.25" width="3.1" height="4.62" fill="#649f4a"/><rect x="161.92" y="795.02" width="3.1" height="5.08" fill="#649f4a"/><rect x="165.80" y="795.79" width="3.1" height="4.31" fill="#649f4a"/><rect x="165.80" y="795.33" width="3.1" height="0.46" fill="#dc7f2f"/><rect x="169.67" y="794.25" width="3.1" height="5.85" fill="#649f4a"/><rect x="169.67" y="791.95" width="3.1" height="2.31" fill="#f6d6bd"/><rect x="173.55" y="795.33" width="3.1" height="4.77" fill="#649f4a"/><rect x="177.42" y="791.18" width="3.1" height="8.92" fill="#649f4a"/><rect x="181.29" y="783.95" width="3.1" height="16.15" fill="#649f4a"/><rect x="181.29" y="783.02" width="3.1" height="0.92" fill="#f6d6bd"/><rect x="181.29" y="780.87" width="3.1" height="2.15" fill="#dc7f2f"/><rect x="185.17" y="792.72" width="3.1" height="7.38" fill="#649f4a"/><rect x="185.17" y="791.18" width="3.1" height="1.54" fill="#f6d6bd"/><rect x="189.04" y="796.87" width="3.1" height="3.23" fill="#649f4a"/><rect x="192.92" y="798.87" width="3.1" height="1.23" fill="#5a89c6"/><rect x="192.92" y="795.33" width="3.1" height="3.54" fill="#649f4a"/><rect x="192.92" y="793.79" width="3.1" height="1.54" fill="#dc7f2f"/><rect x="196.79" y="790.10" width="3.1" height="10.00" fill="#649f4a"/><rect x="200.66" y="787.33" width="3.1" height="12.77" fill="#649f4a"/><rect x="200.66" y="786.10" width="3.1" height="1.23" fill="#f6d6bd"/><rect x="200.66" y="783.02" width="3.1" height="3.08" fill="#dc7f2f"/><rect x="204.54" y="795.79" width="3.1" height="4.31" fill="#649f4a"/><rect x="208.41" y="789.64" width="3.1" height="10.46" fill="#649f4a"/><rect x="212.29" y="787.79" width="3.1" height="12.31" fill="#649f4a"/><rect x="212.29" y="786.56" width="3.1" height="1.23" fill="#f6d6bd"/><rect x="212.29" y="784.72" width="3.1" height="1.85" fill="#dc7f2f"/><rect x="216.16" y="792.72" width="3.1" height="7.38" fill="#649f4a"/><rect x="216.16" y="791.95" width="3.1" height="0.77" fill="#f6d6bd"/><rect x="220.03" y="796.56" width="3.1" height="3.54" fill="#649f4a"/><rect x="220.03" y="795.33" width="3.1" height="1.23" fill="#dc7f2f"/><rect x="223.91" y="793.18" width="3.1" height="6.92" fill="#649f4a"/><rect x="223.91" y="791.95" width="3.1" height="1.23" fill="#f6d6bd"/><rect x="227.78" y="796.87" width="3.1" height="3.23" fill="#5a89c6"/><rect x="227.78" y="784.56" width="3.1" height="12.31" fill="#649f4a"/><rect x="227.78" y="784.25" width="3.1" height="0.31" fill="#f6d6bd"/><rect x="227.78" y="781.95" width="3.1" height="2.31" fill="#dc7f2f"/><rect x="231.66" y="788.87" width="3.1" height="11.23" fill="#649f4a"/><rect x="231.66" y="787.79" width="3.1" height="1.08" fill="#f6d6bd"/><rect x="231.66" y="786.56" width="3.1" height="1.23" fill="#dc7f2f"/><rect x="235.53" y="798.87" width="3.1" height="1.23" fill="#5a89c6"/><rect x="235.53" y="793.48" width="3.1" height="5.38" fill="#649f4a"/><rect x="235.53" y="792.41" width="3.1" height="1.08" fill="#dc7f2f"/><rect x="239.40" y="796.25" width="3.1" height="3.85" fill="#649f4a"/><rect x="239.40" y="795.33" width="3.1" height="0.92" fill="#dc7f2f"/><rect x="243.28" y="788.41" width="3.1" height="11.69" fill="#649f4a"/><rect x="247.15" y="798.87" width="3.1" height="1.23" fill="#dc7f2f"/><rect x="251.03" y="791.64" width="3.1" height="8.46" fill="#649f4a"/><rect x="251.03" y="790.72" width="3.1" height="0.92" fill="#dc7f2f"/><rect x="254.90" y="789.18" width="3.1" height="10.92" fill="#649f4a"/><rect x="254.90" y="786.87" width="3.1" height="2.31" fill="#f6d6bd"/><rect x="254.90" y="785.79" width="3.1" height="1.08" fill="#dc7f2f"/><rect x="258.77" y="788.56" width="3.1" height="11.54" fill="#649f4a"/><rect x="258.77" y="786.56" width="3.1" height="2.00" fill="#dc7f2f"/><rect x="262.65" y="796.87" width="3.1" height="3.23" fill="#649f4a"/><rect x="262.65" y="795.02" width="3.1" height="1.85" fill="#dc7f2f"/><rect x="266.52" y="796.87" width="3.1" height="3.23" fill="#649f4a"/><rect x="270.40" y="796.87" width="3.1" height="3.23" fill="#5a89c6"/><rect x="270.40" y="792.25" width="3.1" height="4.62" fill="#649f4a"/><rect x="270.40" y="790.41" width="3.1" height="1.85" fill="#f6d6bd"/><rect x="274.27" y="799.64" width="3.1" height="0.46" fill="#5a89c6"/><rect x="274.27" y="794.72" width="3.1" height="4.92" fill="#649f4a"/><rect x="274.27" y="792.72" width="3.1" height="2.00" fill="#dc7f2f"/><rect x="278.14" y="799.18" width="3.1" height="0.92" fill="#649f4a"/><rect x="282.02" y="798.10" width="3.1" height="2.00" fill="#649f4a"/><rect x="282.02" y="796.25" width="3.1" height="1.85" fill="#f6d6bd"/><rect x="285.89" y="799.18" width="3.1" height="0.92" fill="#649f4a"/><rect x="289.77" y="798.10" width="3.1" height="2.00" fill="#649f4a"/><rect x="293.64" y="797.33" width="3.1" height="2.77" fill="#649f4a"/><rect x="293.64" y="795.33" width="3.1" height="2.00" fill="#dc7f2f"/><rect x="297.51" y="799.64" width="3.1" height="0.46" fill="#5a89c6"/><rect x="297.51" y="791.18" width="3.1" height="8.46" fill="#649f4a"/><rect x="297.51" y="789.18" width="3.1" height="2.00" fill="#dc7f2f"/><rect x="301.39" y="779.33" width="3.1" height="20.77" fill="#649f4a"/><rect x="301.39" y="778.10" width="3.1" height="1.23" fill="#f6d6bd"/><rect x="301.39" y="777.02" width="3.1" height="1.08" fill="#dc7f2f"/><rect x="305.26" y="798.56" width="3.1" height="1.54" fill="#649f4a"/><rect x="305.26" y="798.10" width="3.1" height="0.46" fill="#dc7f2f"/><rect x="309.14" y="796.25" width="3.1" height="3.85" fill="#649f4a"/><rect x="309.14" y="795.33" width="3.1" height="0.92" fill="#f6d6bd"/><rect x="313.01" y="798.87" width="3.1" height="1.23" fill="#649f4a"/><rect x="316.88" y="799.18" width="3.1" height="0.92" fill="#649f4a"/><rect x="316.88" y="798.87" width="3.1" height="0.31" fill="#dc7f2f"/><rect x="320.76" y="799.48" width="3.1" height="0.62" fill="#649f4a"/><rect x="320.76" y="799.18" width="3.1" height="0.31" fill="#dc7f2f"/><rect x="324.63" y="795.33" width="3.1" height="4.77" fill="#649f4a"/><rect x="324.63" y="793.95" width="3.1" height="1.38" fill="#dc7f2f"/><rect x="328.51" y="796.25" width="3.1" height="3.85" fill="#649f4a"/><rect x="328.51" y="794.25" width="3.1" height="2.00" fill="#f6d6bd"/><rect x="332.38" y="770.41" width="3.1" height="29.69" fill="#649f4a"/><rect x="332.38" y="764.56" width="3.1" height="5.85" fill="#dc7f2f"/><rect x="336.25" y="777.79" width="3.1" height="22.31" fill="#649f4a"/><rect x="336.25" y="776.10" width="3.1" height="1.69" fill="#dc7f2f"/><rect x="340.13" y="798.41" width="3.1" height="1.69" fill="#649f4a"/><rect x="344.00" y="796.87" width="3.1" height="3.23" fill="#649f4a"/><rect x="344.00" y="796.25" width="3.1" height="0.62" fill="#dc7f2f"/><rect x="347.88" y="775.79" width="3.1" height="24.31" fill="#649f4a"/><rect x="347.88" y="774.25" width="3.1" height="1.54" fill="#f6d6bd"/><rect x="351.75" y="799.64" width="3.1" height="0.46" fill="#5a89c6"/><rect x="351.75" y="795.79" width="3.1" height="3.85" fill="#649f4a"/><rect x="351.75" y="793.48" width="3.1" height="2.31" fill="#f6d6bd"/><rect x="355.62" y="798.87" width="3.1" height="1.23" fill="#5a89c6"/><rect x="355.62" y="791.95" width="3.1" height="6.92" fill="#649f4a"/><rect x="359.50" y="797.79" width="3.1" height="2.31" fill="#5a89c6"/><rect x="359.50" y="788.87" width="3.1" height="8.92" fill="#649f4a"/><rect x="359.50" y="788.10" width="3.1" height="0.77" fill="#dc7f2f"/><rect x="363.37" y="799.18" width="3.1" height="0.92" fill="#649f4a"/><rect x="367.25" y="790.10" width="3.1" height="10.00" fill="#649f4a"/><rect x="367.25" y="788.87" width="3.1" height="1.23" fill="#f6d6bd"/><rect x="367.25" y="787.33" width="3.1" height="1.54" fill="#dc7f2f"/><rect x="371.12" y="792.50" width="3.1" height="7.60" fill="#649f4a"/><rect x="371.12" y="791.90" width="3.1" height="0.60" fill="#dc7f2f"/><rect x="374.99" y="797.70" width="3.1" height="2.40" fill="#649f4a"/><rect x="374.99" y="797.10" width="3.1" height="0.60" fill="#dc7f2f"/><rect x="378.87" y="799.60" width="3.1" height="0.50" fill="#649f4a"/><rect x="378.87" y="799.20" width="3.1" height="0.40" fill="#dc7f2f"/><rect x="382.74" y="790.70" width="3.1" height="9.40" fill="#649f4a"/><rect x="382.74" y="789.90" width="3.1" height="0.80" fill="#f6d6bd"/><rect x="386.62" y="799.60" width="3.1" height="0.50" fill="#649f4a"/><rect x="386.62" y="799.20" width="3.1" height="0.40" fill="#dc7f2f"/><rect x="390.49" y="799.60" width="3.1" height="0.50" fill="#649f4a"/><rect x="390.49" y="799.20" width="3.1" height="0.40" fill="#dc7f2f"/><rect x="394.36" y="799.60" width="3.1" height="0.50" fill="#649f4a"/><rect x="394.36" y="799.20" width="3.1" height="0.40" fill="#dc7f2f"/><rect x="398.24" y="794.80" width="3.1" height="5.30" fill="#649f4a"/><rect x="398.24" y="794.20" width="3.1" height="0.60" fill="#dc7f2f"/><rect x="402.11" y="796.50" width="3.1" height="3.60" fill="#649f4a"/><rect x="405.99" y="794.80" width="3.1" height="5.30" fill="#649f4a"/><rect x="405.99" y="794.00" width="3.1" height="0.80" fill="#f6d6bd"/><rect x="409.86" y="797.10" width="3.1" height="3.00" fill="#649f4a"/><rect x="413.73" y="795.40" width="3.1" height="4.70" fill="#649f4a"/><rect x="413.73" y="794.60" width="3.1" height="0.80" fill="#f6d6bd"/><rect x="61.20" y="803.00" width="3.1" height="15.40" fill="#649f4a"/><rect x="65.07" y="803.00" width="3.1" height="15.40" fill="#649f4a"/><rect x="68.95" y="803.00" width="3.1" height="15.40" fill="#649f4a"/><rect x="72.82" y="803.00" width="3.1" height="15.40" fill="#649f4a"/><rect x="76.70" y="803.00" width="3.1" height="15.40" fill="#649f4a"/><rect x="80.57" y="803.00" width="3.1" height="15.40" fill="#649f4a"/><rect x="84.44" y="803.00" width="3.1" height="15.40" fill="#649f4a"/><rect x="88.32" y="803.00" width="3.1" height="15.40" fill="#649f4a"/><rect x="92.19" y="803.00" width="3.1" height="15.40" fill="#649f4a"/><rect x="96.07" y="803.00" width="3.1" height="15.40" fill="#649f4a"/><rect x="99.94" y="803.00" width="3.1" height="15.40" fill="#649f4a"/><rect x="103.81" y="803.00" width="3.1" height="15.40" fill="#649f4a"/><rect x="107.69" y="803.00" width="3.1" height="15.40" fill="#649f4a"/><rect x="111.56" y="803.00" width="3.1" height="15.40" fill="#649f4a"/><rect x="115.44" y="803.00" width="3.1" height="15.40" fill="#649f4a"/><rect x="119.31" y="803.00" width="3.1" height="15.40" fill="#649f4a"/><rect x="123.18" y="803.00" width="3.1" height="15.40" fill="#649f4a"/><rect x="127.06" y="803.00" width="3.1" height="15.40" fill="#649f4a"/><rect x="130.93" y="803.00" width="3.1" height="15.40" fill="#649f4a"/><rect x="134.81" y="803.00" width="3.1" height="15.40" fill="#649f4a"/><rect x="138.68" y="803.00" width="3.1" height="15.40" fill="#649f4a"/><rect x="142.55" y="803.00" width="3.1" height="15.40" fill="#649f4a"/><rect x="146.43" y="803.00" width="3.1" height="15.40" fill="#649f4a"/><rect x="150.30" y="803.00" width="3.1" height="15.40" fill="#649f4a"/><rect x="154.18" y="803.00" width="3.1" height="15.40" fill="#649f4a"/><rect x="158.05" y="803.00" width="3.1" height="15.40" fill="#649f4a"/><rect x="161.92" y="803.00" width="3.1" height="15.40" fill="#649f4a"/><rect x="165.80" y="803.00" width="3.1" height="15.40" fill="#649f4a"/><rect x="169.67" y="803.00" width="3.1" height="15.40" fill="#649f4a"/><rect x="173.55" y="803.00" width="3.1" height="15.40" fill="#649f4a"/><rect x="177.42" y="803.00" width="3.1" height="15.40" fill="#649f4a"/><rect x="181.29" y="803.00" width="3.1" height="15.40" fill="#649f4a"/><rect x="185.17" y="803.00" width="3.1" height="15.40" fill="#649f4a"/><rect x="189.04" y="803.00" width="3.1" height="15.40" fill="#649f4a"/><rect x="192.92" y="803.00" width="3.1" height="15.40" fill="#649f4a"/><rect x="196.79" y="803.00" width="3.1" height="15.40" fill="#649f4a"/><rect x="200.66" y="803.00" width="3.1" height="15.40" fill="#649f4a"/><rect x="204.54" y="803.00" width="3.1" height="15.40" fill="#649f4a"/><rect x="208.41" y="803.00" width="3.1" height="15.40" fill="#649f4a"/><rect x="212.29" y="803.00" width="3.1" height="15.40" fill="#649f4a"/><rect x="216.16" y="803.00" width="3.1" height="15.40" fill="#649f4a"/><rect x="220.03" y="803.00" width="3.1" height="15.40" fill="#649f4a"/><rect x="223.91" y="803.00" width="3.1" height="15.40" fill="#d0cccd"/><rect x="227.78" y="803.00" width="3.1" height="15.40" fill="#d0cccd"/><rect x="231.66" y="803.00" width="3.1" height="15.40" fill="#d0cccd"/><rect x="235.53" y="803.00" width="3.1" height="15.40" fill="#d0cccd"/><rect x="239.40" y="803.00" width="3.1" height="15.40" fill="#d0cccd"/><rect x="243.28" y="803.00" width="3.1" height="15.40" fill="#d0cccd"/><rect x="247.15" y="803.00" width="3.1" height="15.40" fill="#d0cccd"/><rect x="251.03" y="803.00" width="3.1" height="15.40" fill="#d0cccd"/><rect x="254.90" y="803.00" width="3.1" height="15.40" fill="#d0cccd"/><rect x="258.77" y="803.00" width="3.1" height="15.40" fill="#d0cccd"/><rect x="262.65" y="803.00" width="3.1" height="15.40" fill="#d0cccd"/><rect x="266.52" y="803.00" width="3.1" height="15.40" fill="#d0cccd"/><rect x="270.40" y="803.00" width="3.1" height="15.40" fill="#d0cccd"/><rect x="274.27" y="803.00" width="3.1" height="15.40" fill="#d0cccd"/><rect x="278.14" y="803.00" width="3.1" height="15.40" fill="#d0cccd"/><rect x="282.02" y="803.00" width="3.1" height="15.40" fill="#d0cccd"/><rect x="285.89" y="803.00" width="3.1" height="15.40" fill="#d0cccd"/><rect x="289.77" y="803.00" width="3.1" height="15.40" fill="#d0cccd"/><rect x="293.64" y="803.00" width="3.1" height="15.40" fill="#d0cccd"/><rect x="297.51" y="803.00" width="3.1" height="15.40" fill="#d0cccd"/><rect x="301.39" y="803.00" width="3.1" height="15.40" fill="#d0cccd"/><rect x="305.26" y="803.00" width="3.1" height="15.40" fill="#d0cccd"/><rect x="309.14" y="803.00" width="3.1" height="15.40" fill="#d0cccd"/><rect x="313.01" y="803.00" width="3.1" height="15.40" fill="#d0cccd"/><rect x="316.88" y="803.00" width="3.1" height="15.40" fill="#d0cccd"/><rect x="320.76" y="803.00" width="3.1" height="15.40" fill="#d0cccd"/><rect x="324.63" y="803.00" width="3.1" height="15.40" fill="#d0cccd"/><rect x="328.51" y="803.00" width="3.1" height="15.40" fill="#d0cccd"/><rect x="332.38" y="803.00" width="3.1" height="15.40" fill="#d0cccd"/><rect x="336.25" y="803.00" width="3.1" height="15.40" fill="#d0cccd"/><rect x="340.13" y="803.00" width="3.1" height="15.40" fill="#d0cccd"/><rect x="344.00" y="803.00" width="3.1" height="15.40" fill="#d0cccd"/><rect x="347.88" y="803.00" width="3.1" height="15.40" fill="#d0cccd"/><rect x="351.75" y="803.00" width="3.1" height="15.40" fill="#d0cccd"/><rect x="355.62" y="803.00" width="3.1" height="15.40" fill="#d0cccd"/><rect x="359.50" y="803.00" width="3.1" height="15.40" fill="#d0cccd"/><rect x="363.37" y="803.00" width="3.1" height="15.40" fill="#d0cccd"/><rect x="367.25" y="803.00" width="3.1" height="15.40" fill="#d0cccd"/><rect x="371.12" y="803.00" width="3.1" height="15.40" fill="#d0cccd"/><rect x="374.99" y="803.00" width="3.1" height="15.40" fill="#d0cccd"/><rect x="378.87" y="803.00" width="3.1" height="15.40" fill="#d0cccd"/><rect x="382.74" y="803.00" width="3.1" height="15.40" fill="#d0cccd"/><rect x="386.62" y="803.00" width="3.1" height="15.40" fill="#d0cccd"/><rect x="390.49" y="803.00" width="3.1" height="15.40" fill="#d0cccd"/><rect x="394.36" y="803.00" width="3.1" height="15.40" fill="#d0cccd"/><rect x="398.24" y="803.00" width="3.1" height="15.40" fill="#d0cccd"/><rect x="402.11" y="803.00" width="3.1" height="15.40" fill="#d0cccd"/><rect x="405.99" y="803.00" width="3.1" height="15.40" fill="#d0cccd"/><rect x="409.86" y="803.00" width="3.1" height="15.40" fill="#d0cccd"/><rect x="413.73" y="803.00" width="3.1" height="15.40" fill="#d0cccd"/><text transform="translate(51.3 813.60) scale(0.82 1)" text-anchor="end" font-size="7.8" font-family="Liberation Sans, sans-serif" fill="#1a1a1a" stroke="#1a1a1a" stroke-width="0.2">STAT6</text><rect x="61.20" y="820.10" width="3.1" height="15.70" fill="#d0cccd"/><rect x="65.07" y="820.10" width="3.1" height="15.70" fill="#d0cccd"/><rect x="68.95" y="820.10" width="3.1" height="15.70" fill="#d0cccd"/><rect x="72.82" y="820.10" width="3.1" height="15.70" fill="#d0cccd"/><rect x="76.70" y="820.10" width="3.1" height="15.70" fill="#d0cccd"/><rect x="80.57" y="820.10" width="3.1" height="15.70" fill="#d0cccd"/><rect x="84.44" y="820.10" width="3.1" height="15.70" fill="#d0cccd"/><rect x="88.32" y="820.10" width="3.1" height="15.70" fill="#d0cccd"/><rect x="92.19" y="820.10" width="3.1" height="15.70" fill="#d0cccd"/><rect x="96.07" y="820.10" width="3.1" height="15.70" fill="#d0cccd"/><rect x="99.94" y="820.10" width="3.1" height="15.70" fill="#d0cccd"/><rect x="103.81" y="820.10" width="3.1" height="15.70" fill="#d0cccd"/><rect x="107.69" y="820.10" width="3.1" height="15.70" fill="#d0cccd"/><rect x="111.56" y="820.10" width="3.1" height="15.70" fill="#d0cccd"/><rect x="115.44" y="820.10" width="3.1" height="15.70" fill="#d0cccd"/><rect x="119.31" y="820.10" width="3.1" height="15.70" fill="#d0cccd"/><rect x="123.18" y="820.10" width="3.1" height="15.70" fill="#d0cccd"/><rect x="127.06" y="820.10" width="3.1" height="15.70" fill="#d0cccd"/><rect x="130.93" y="820.10" width="3.1" height="15.70" fill="#d0cccd"/><rect x="134.81" y="820.10" width="3.1" height="15.70" fill="#d0cccd"/><rect x="138.68" y="820.10" width="3.1" height="15.70" fill="#d0cccd"/><rect x="142.55" y="820.10" width="3.1" height="15.70" fill="#d0cccd"/><rect x="146.43" y="820.10" width="3.1" height="15.70" fill="#d0cccd"/><rect x="150.30" y="820.10" width="3.1" height="15.70" fill="#d0cccd"/><rect x="154.18" y="820.10" width="3.1" height="15.70" fill="#d0cccd"/><rect x="158.05" y="820.10" width="3.1" height="15.70" fill="#d0cccd"/><rect x="161.92" y="820.10" width="3.1" height="15.70" fill="#d0cccd"/><rect x="165.80" y="820.10" width="3.1" height="15.70" fill="#d0cccd"/><rect x="169.67" y="820.10" width="3.1" height="15.70" fill="#d0cccd"/><rect x="173.55" y="820.10" width="3.1" height="15.70" fill="#d0cccd"/><rect x="177.42" y="820.10" width="3.1" height="15.70" fill="#d0cccd"/><rect x="181.29" y="820.10" width="3.1" height="15.70" fill="#d0cccd"/><rect x="185.17" y="820.10" width="3.1" height="15.70" fill="#d0cccd"/><rect x="189.04" y="820.10" width="3.1" height="15.70" fill="#d0cccd"/><rect x="192.92" y="820.10" width="3.1" height="15.70" fill="#d0cccd"/><rect x="196.79" y="820.10" width="3.1" height="15.70" fill="#d0cccd"/><rect x="200.66" y="820.10" width="3.1" height="15.70" fill="#d0cccd"/><rect x="204.54" y="820.10" width="3.1" height="15.70" fill="#d0cccd"/><rect x="208.41" y="820.10" width="3.1" height="15.70" fill="#d0cccd"/><rect x="212.29" y="820.10" width="3.1" height="15.70" fill="#d0cccd"/><rect x="216.16" y="820.10" width="3.1" height="15.70" fill="#d0cccd"/><rect x="220.03" y="820.10" width="3.1" height="15.70" fill="#d0cccd"/><rect x="223.91" y="820.10" width="3.1" height="15.70" fill="#649f4a"/><rect x="227.78" y="820.10" width="3.1" height="15.70" fill="#17140f"/><rect x="231.66" y="820.10" width="3.1" height="15.70" fill="#649f4a"/><rect x="235.53" y="820.10" width="3.1" height="15.70" fill="#5a89c6"/><rect x="239.40" y="820.10" width="3.1" height="15.70" fill="#649f4a"/><rect x="243.28" y="820.10" width="3.1" height="15.70" fill="#649f4a"/><rect x="247.15" y="820.10" width="3.1" height="15.70" fill="#dc7f2f"/><rect x="251.03" y="820.10" width="3.1" height="15.70" fill="#649f4a"/><rect x="254.90" y="820.10" width="3.1" height="15.70" fill="#dc7f2f"/><rect x="258.77" y="820.10" width="3.1" height="15.70" fill="#d0cccd"/><rect x="262.65" y="820.10" width="3.1" height="15.70" fill="#d0cccd"/><rect x="266.52" y="820.10" width="3.1" height="15.70" fill="#d0cccd"/><rect x="270.40" y="820.10" width="3.1" height="15.70" fill="#d0cccd"/><rect x="274.27" y="820.10" width="3.1" height="15.70" fill="#d0cccd"/><rect x="278.14" y="820.10" width="3.1" height="15.70" fill="#d0cccd"/><rect x="282.02" y="820.10" width="3.1" height="15.70" fill="#d0cccd"/><rect x="285.89" y="820.10" width="3.1" height="15.70" fill="#d0cccd"/><rect x="289.77" y="820.10" width="3.1" height="15.70" fill="#d0cccd"/><rect x="293.64" y="820.10" width="3.1" height="15.70" fill="#d0cccd"/><rect x="297.51" y="820.10" width="3.1" height="15.70" fill="#d0cccd"/><rect x="301.39" y="820.10" width="3.1" height="15.70" fill="#d0cccd"/><rect x="305.26" y="820.10" width="3.1" height="15.70" fill="#d0cccd"/><rect x="309.14" y="820.10" width="3.1" height="15.70" fill="#d0cccd"/><rect x="313.01" y="820.10" width="3.1" height="15.70" fill="#d0cccd"/><rect x="316.88" y="820.10" width="3.1" height="15.70" fill="#d0cccd"/><rect x="320.76" y="820.10" width="3.1" height="15.70" fill="#d0cccd"/><rect x="324.63" y="820.10" width="3.1" height="15.70" fill="#d0cccd"/><rect x="328.51" y="820.10" width="3.1" height="15.70" fill="#d0cccd"/><rect x="332.38" y="820.10" width="3.1" height="15.70" fill="#d0cccd"/><rect x="336.25" y="820.10" width="3.1" height="15.70" fill="#d0cccd"/><rect x="340.13" y="820.10" width="3.1" height="15.70" fill="#d0cccd"/><rect x="344.00" y="820.10" width="3.1" height="15.70" fill="#d0cccd"/><rect x="347.88" y="820.10" width="3.1" height="15.70" fill="#d0cccd"/><rect x="351.75" y="820.10" width="3.1" height="15.70" fill="#d0cccd"/><rect x="355.62" y="820.10" width="3.1" height="15.70" fill="#d0cccd"/><rect x="359.50" y="820.10" width="3.1" height="15.70" fill="#d0cccd"/><rect x="363.37" y="820.10" width="3.1" height="15.70" fill="#d0cccd"/><rect x="367.25" y="820.10" width="3.1" height="15.70" fill="#d0cccd"/><rect x="371.12" y="820.10" width="3.1" height="15.70" fill="#d0cccd"/><rect x="374.99" y="820.10" width="3.1" height="15.70" fill="#d0cccd"/><rect x="378.87" y="820.10" width="3.1" height="15.70" fill="#d0cccd"/><rect x="382.74" y="820.10" width="3.1" height="15.70" fill="#d0cccd"/><rect x="386.62" y="820.10" width="3.1" height="15.70" fill="#d0cccd"/><rect x="390.49" y="820.10" width="3.1" height="15.70" fill="#d0cccd"/><rect x="394.36" y="820.10" width="3.1" height="15.70" fill="#d0cccd"/><rect x="398.24" y="820.10" width="3.1" height="15.70" fill="#d0cccd"/><rect x="402.11" y="820.10" width="3.1" height="15.70" fill="#d0cccd"/><rect x="405.99" y="820.10" width="3.1" height="15.70" fill="#d0cccd"/><rect x="409.86" y="820.10" width="3.1" height="15.70" fill="#d0cccd"/><rect x="413.73" y="820.10" width="3.1" height="15.70" fill="#d0cccd"/><text transform="translate(51.3 830.85) scale(0.82 1)" text-anchor="end" font-size="7.8" font-family="Liberation Sans, sans-serif" fill="#1a1a1a" stroke="#1a1a1a" stroke-width="0.2">CISH</text>
<rect x="57.9" y="761.9" width="1.3" height="42.30" fill="#111"/>
<rect x="54.3" y="799.55" width="4" height="1.1" fill="#111"/>
<text x="50.6" y="802.60" text-anchor="end" font-size="7.2" font-family="Liberation Sans, sans-serif" fill="#1a1a1a" stroke="#1a1a1a" stroke-width="0.12">0</text>
<rect x="54.3" y="792.85" width="4" height="1.1" fill="#111"/>
<text x="50.6" y="795.90" text-anchor="end" font-size="7.2" font-family="Liberation Sans, sans-serif" fill="#1a1a1a" stroke="#1a1a1a" stroke-width="0.12">10</text>
<rect x="54.3" y="786.15" width="4" height="1.1" fill="#111"/>
<text x="50.6" y="789.20" text-anchor="end" font-size="7.2" font-family="Liberation Sans, sans-serif" fill="#1a1a1a" stroke="#1a1a1a" stroke-width="0.12">20</text>
<rect x="54.3" y="779.45" width="4" height="1.1" fill="#111"/>
<text x="50.6" y="782.50" text-anchor="end" font-size="7.2" font-family="Liberation Sans, sans-serif" fill="#1a1a1a" stroke="#1a1a1a" stroke-width="0.12">30</text>
<rect x="54.3" y="772.75" width="4" height="1.1" fill="#111"/>
<text x="50.6" y="775.80" text-anchor="end" font-size="7.2" font-family="Liberation Sans, sans-serif" fill="#1a1a1a" stroke="#1a1a1a" stroke-width="0.12">40</text>
<rect x="54.3" y="766.05" width="4" height="1.1" fill="#111"/>
<text x="50.6" y="769.10" text-anchor="end" font-size="7.2" font-family="Liberation Sans, sans-serif" fill="#1a1a1a" stroke="#1a1a1a" stroke-width="0.12">50</text>
<text x="414.3" y="778.8" font-size="9.6" font-family="Liberation Sans, sans-serif" fill="#111" stroke="#111" stroke-width="0.12" textLength="83.1" lengthAdjust="spacingAndGlyphs"># of mutated cases</text>
<rect x="418.0" y="800.60" width="75.5" height="1.3" fill="#111"/>
<rect x="421.35" y="797.20" width="1.1" height="4" fill="#111"/>
<text x="421.90" y="792.1" text-anchor="middle" font-size="7" font-family="Liberation Sans, sans-serif" fill="#1a1a1a" stroke="#1a1a1a" stroke-width="0.1">0</text>
<rect x="438.25" y="797.20" width="1.1" height="4" fill="#111"/>
<text x="438.80" y="792.1" text-anchor="middle" font-size="7" font-family="Liberation Sans, sans-serif" fill="#1a1a1a" stroke="#1a1a1a" stroke-width="0.1">10</text>
<rect x="455.15" y="797.20" width="1.1" height="4" fill="#111"/>
<text x="455.70" y="792.1" text-anchor="middle" font-size="7" font-family="Liberation Sans, sans-serif" fill="#1a1a1a" stroke="#1a1a1a" stroke-width="0.1">20</text>
<rect x="472.05" y="797.20" width="1.1" height="4" fill="#111"/>
<text x="472.60" y="792.1" text-anchor="middle" font-size="7" font-family="Liberation Sans, sans-serif" fill="#1a1a1a" stroke="#1a1a1a" stroke-width="0.1">30</text>
<rect x="488.95" y="797.20" width="1.1" height="4" fill="#111"/>
<text x="489.50" y="792.1" text-anchor="middle" font-size="7" font-family="Liberation Sans, sans-serif" fill="#1a1a1a" stroke="#1a1a1a" stroke-width="0.1">40</text>
<rect x="421.90" y="803.9" width="70.98" height="13.40" fill="#649f4a"/>
<rect x="421.90" y="821.2" width="1.69" height="13.40" fill="#5a89c6"/>
<rect x="423.59" y="821.2" width="8.45" height="13.40" fill="#649f4a"/>
<rect x="432.04" y="821.2" width="1.69" height="13.40" fill="#17140f"/>
<rect x="433.73" y="821.2" width="3.38" height="13.40" fill="#dc7f2f"/>
<rect x="72.9" y="852.2" width="4" height="4" fill="#c33d3d"/>
<text x="82.0" y="856.6" font-size="7.3" font-family="Liberation Sans, sans-serif" fill="#2a2a2a" stroke="#2a2a2a" stroke-width="0.12" textLength="61.1" lengthAdjust="spacingAndGlyphs">nonsense mutation</text>
<rect x="160.0" y="852.2" width="4" height="4" fill="#5a89c6"/>
<text x="168.5" y="856.6" font-size="7.3" font-family="Liberation Sans, sans-serif" fill="#2a2a2a" stroke="#2a2a2a" stroke-width="0.12" textLength="32.7" lengthAdjust="spacingAndGlyphs">frameshift</text>
<rect x="216.0" y="852.2" width="4" height="4" fill="#649f4a"/>
<text x="224.6" y="856.6" font-size="7.3" font-family="Liberation Sans, sans-serif" fill="#2a2a2a" stroke="#2a2a2a" stroke-width="0.12" textLength="60.0" lengthAdjust="spacingAndGlyphs">missense mutation</text>
<rect x="301.5" y="852.2" width="4" height="4" fill="#dc7f2f"/>
<text x="310.4" y="856.6" font-size="7.3" font-family="Liberation Sans, sans-serif" fill="#2a2a2a" stroke="#2a2a2a" stroke-width="0.12" textLength="61.9" lengthAdjust="spacingAndGlyphs">splice site mutation</text>
<rect x="390.3" y="852.2" width="4" height="4" fill="#141414"/>
<text x="399.2" y="856.6" font-size="7.3" font-family="Liberation Sans, sans-serif" fill="#2a2a2a" stroke="#2a2a2a" stroke-width="0.12" textLength="59.8" lengthAdjust="spacingAndGlyphs">multiple mutations</text>
<path d="M0 0H520V869H0Z M1.8 1.1V866.7H518.3V1.1Z" fill="#111" fill-rule="evenodd"/>
<rect x="0" y="0" width="0.7" height="869" fill="#8c8c8c"/><rect x="519.3" y="0" width="0.7" height="869" fill="#8c8c8c"/><rect x="0" y="867.9" width="520" height="1.1" fill="#8c8c8c"/>
</svg></body></html>
